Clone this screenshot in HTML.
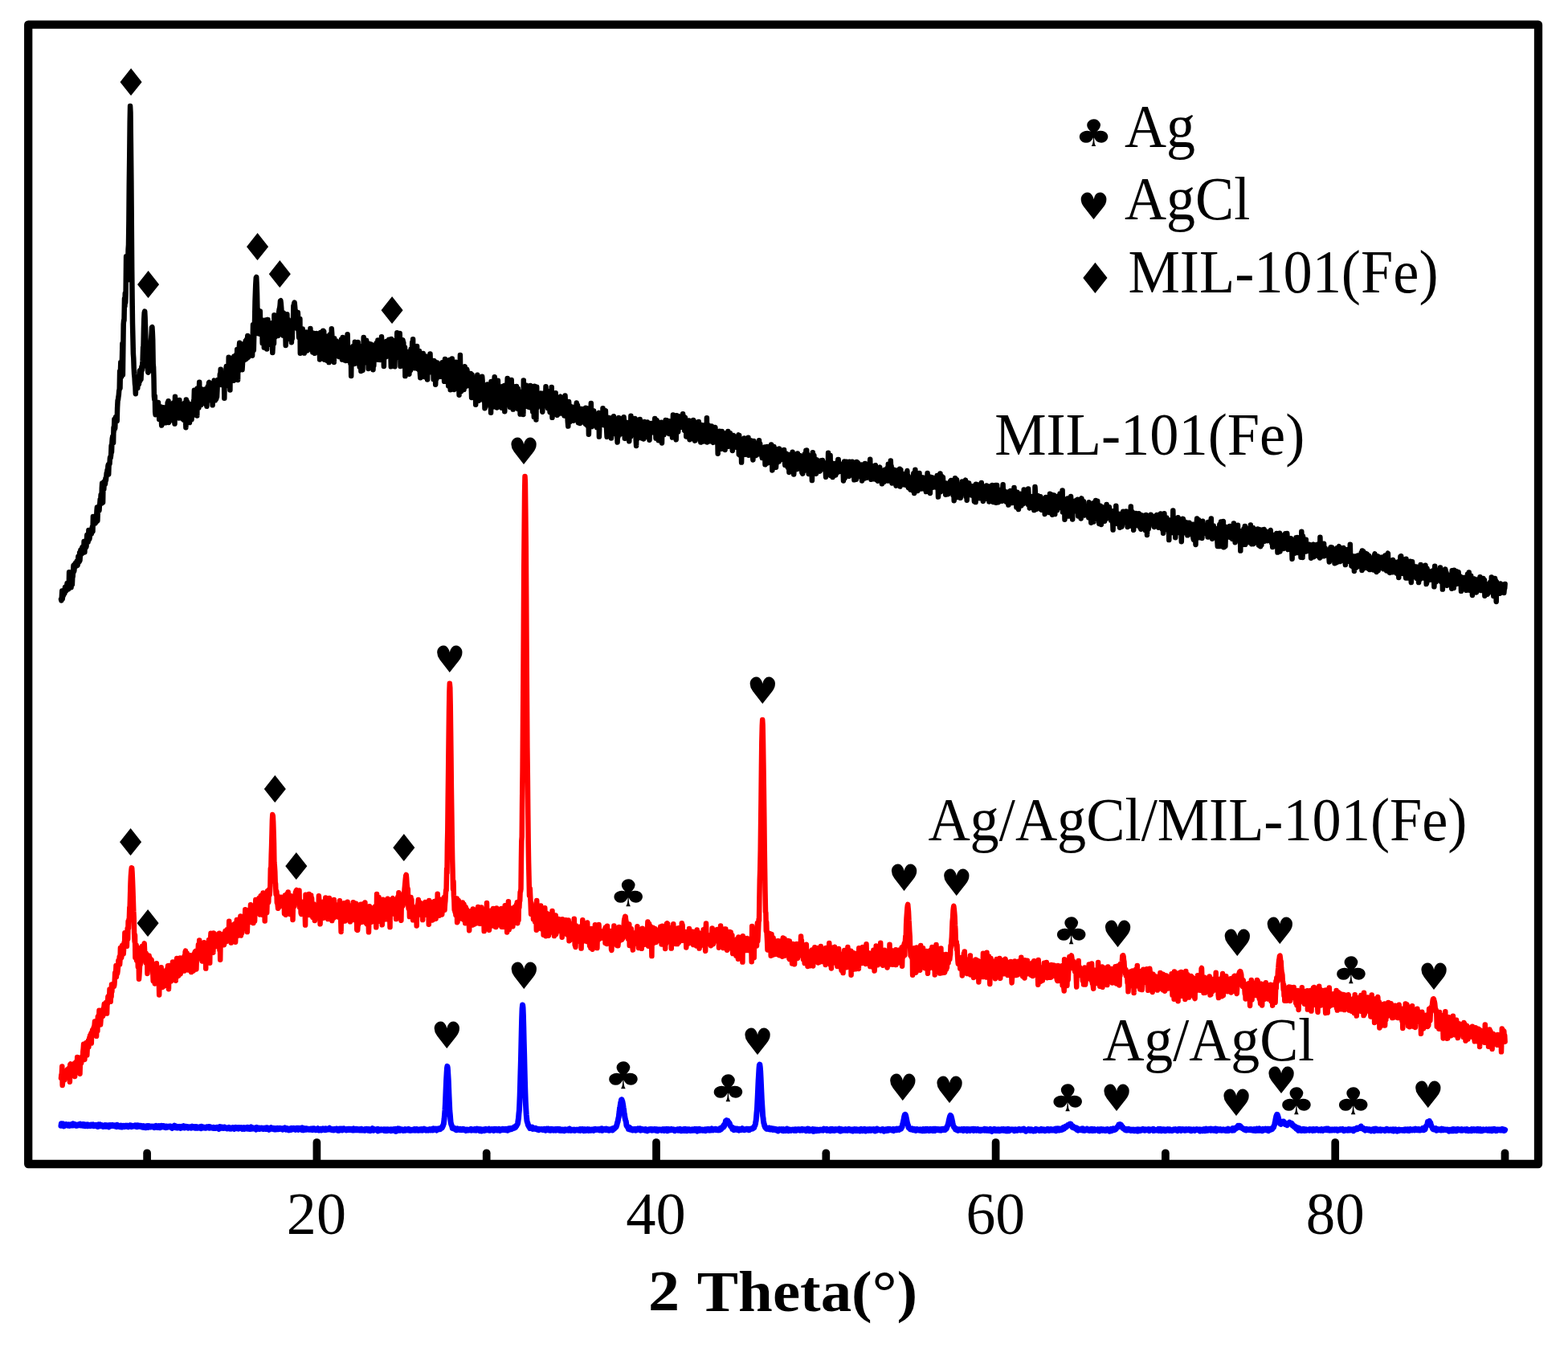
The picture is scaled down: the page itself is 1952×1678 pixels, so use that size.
<!DOCTYPE html>
<html><head><meta charset="utf-8"><title>XRD patterns</title>
<style>html,body{margin:0;padding:0;background:#fff;overflow:hidden}svg{display:block}</style>
</head><body>
<svg width="1952" height="1678" viewBox="0 0 1952 1678">
<rect width="1952" height="1678" fill="#fff"/>
<path d="M76.0 1401.3L76.4 1398.7L76.8 1400.3L77.3 1399.7L77.7 1399.8L78.1 1399.9L78.5 1399.0L78.9 1399.9L79.4 1399.6L79.8 1401.9L80.2 1400.2L80.6 1399.9L81.0 1400.0L81.5 1399.8L81.9 1399.6L82.3 1399.9L82.7 1400.4L83.1 1400.0L83.6 1400.7L84.0 1400.1L84.4 1400.2L84.8 1401.1L85.2 1400.5L85.7 1399.9L86.1 1400.1L86.5 1400.5L86.9 1401.4L87.3 1400.1L87.8 1400.1L88.2 1400.9L88.6 1399.8L89.0 1400.1L89.4 1400.8L89.9 1400.6L90.3 1400.3L90.7 1400.7L91.1 1398.8L91.5 1400.9L92.0 1399.8L92.4 1399.5L92.8 1400.5L93.2 1400.8L93.6 1400.1L94.1 1399.8L94.5 1400.4L94.9 1400.4L95.3 1401.3L95.7 1400.9L96.2 1400.5L96.6 1401.1L97.0 1400.3L97.4 1400.0L97.8 1400.8L98.3 1400.8L98.7 1400.4L99.1 1400.1L99.5 1400.6L99.9 1399.2L100.4 1400.9L100.8 1400.8L101.2 1399.7L101.6 1400.6L102.0 1400.0L102.5 1401.0L102.9 1399.5L103.3 1400.1L103.7 1401.0L104.1 1401.3L104.6 1399.5L105.0 1400.3L105.4 1400.8L105.8 1400.3L106.2 1401.6L106.7 1400.0L107.1 1400.9L107.5 1400.1L107.9 1401.5L108.3 1400.7L108.8 1400.5L109.2 1399.8L109.6 1401.7L110.0 1401.2L110.4 1401.2L110.9 1401.4L111.3 1400.9L111.7 1400.4L112.1 1400.3L112.5 1400.3L113.0 1401.6L113.4 1400.0L113.8 1400.5L114.2 1400.6L114.6 1400.9L115.1 1401.2L115.5 1400.2L115.9 1399.9L116.3 1400.8L116.7 1401.6L117.2 1401.3L117.6 1401.0L118.0 1400.7L118.4 1401.1L118.8 1400.8L119.3 1401.4L119.7 1400.5L120.1 1401.0L120.5 1400.9L120.9 1401.3L121.4 1401.1L121.8 1402.5L122.2 1401.9L122.6 1401.9L123.0 1399.9L123.5 1400.8L123.9 1400.7L124.3 1401.3L124.7 1399.8L125.1 1401.7L125.6 1401.7L126.0 1400.3L126.4 1400.5L126.8 1400.6L127.2 1401.1L127.7 1401.5L128.1 1402.3L128.5 1401.0L128.9 1401.6L129.3 1401.2L129.8 1402.2L130.2 1401.6L130.6 1402.0L131.0 1400.6L131.4 1401.0L131.9 1400.7L132.3 1402.1L132.7 1401.6L133.1 1401.0L133.5 1400.9L134.0 1401.5L134.4 1400.8L134.8 1400.7L135.2 1401.5L135.6 1402.8L136.1 1401.1L136.5 1401.0L136.9 1400.6L137.3 1400.6L137.7 1401.6L138.2 1401.8L138.6 1401.3L139.0 1401.5L139.4 1401.4L139.8 1401.4L140.3 1400.5L140.7 1401.1L141.1 1401.4L141.5 1400.9L141.9 1401.1L142.4 1400.9L142.8 1401.2L143.2 1401.9L143.6 1401.2L144.0 1401.3L144.5 1401.9L144.9 1401.8L145.3 1402.5L145.7 1400.3L146.1 1402.0L146.6 1401.2L147.0 1401.5L147.4 1402.0L147.8 1402.2L148.2 1402.1L148.7 1401.6L149.1 1402.5L149.5 1401.4L149.9 1401.5L150.3 1402.0L150.8 1401.3L151.2 1402.9L151.6 1402.2L152.0 1402.9L152.4 1401.6L152.9 1401.4L153.3 1401.7L153.7 1402.1L154.1 1401.3L154.5 1401.9L155.0 1401.6L155.4 1402.6L155.8 1401.3L156.2 1402.3L156.6 1401.3L157.1 1401.2L157.5 1401.3L157.9 1401.1L158.3 1401.8L158.7 1402.3L159.2 1401.8L159.6 1402.1L160.0 1402.7L160.4 1401.9L160.8 1401.9L161.3 1401.6L161.7 1400.9L162.1 1402.2L162.5 1400.9L162.9 1402.2L163.4 1401.8L163.8 1402.5L164.2 1401.8L164.6 1401.4L165.0 1402.1L165.5 1401.6L165.9 1401.8L166.3 1401.9L166.7 1401.8L167.1 1401.8L167.6 1401.5L168.0 1401.8L168.4 1400.8L168.8 1401.8L169.2 1401.3L169.7 1402.6L170.1 1402.7L170.5 1400.9L170.9 1402.0L171.3 1401.9L171.8 1401.4L172.2 1402.3L172.6 1401.8L173.0 1401.1L173.4 1401.9L173.9 1401.9L174.3 1402.1L174.7 1401.4L175.1 1402.4L175.5 1402.5L176.0 1401.5L176.4 1401.7L176.8 1402.0L177.2 1401.8L177.6 1403.2L178.1 1402.2L178.5 1401.6L178.9 1401.7L179.3 1402.1L179.7 1403.5L180.2 1402.0L180.6 1402.2L181.0 1402.5L181.4 1402.1L181.8 1403.6L182.3 1401.9L182.7 1402.6L183.1 1402.3L183.5 1402.6L183.9 1401.6L184.4 1403.3L184.8 1402.1L185.2 1402.2L185.6 1401.7L186.0 1401.9L186.5 1402.6L186.9 1402.9L187.3 1402.7L187.7 1403.0L188.1 1402.7L188.6 1402.3L189.0 1402.8L189.4 1402.7L189.8 1402.2L190.2 1402.8L190.7 1403.1L191.1 1402.5L191.5 1402.1L191.9 1402.8L192.3 1403.5L192.8 1402.2L193.2 1402.3L193.6 1402.3L194.0 1403.1L194.4 1401.4L194.9 1402.6L195.3 1403.1L195.7 1402.0L196.1 1403.3L196.5 1402.8L197.0 1402.1L197.4 1402.6L197.8 1401.6L198.2 1402.2L198.6 1403.6L199.1 1402.0L199.5 1403.6L199.9 1402.4L200.3 1403.1L200.7 1402.5L201.2 1401.3L201.6 1402.2L202.0 1402.6L202.4 1401.9L202.8 1401.8L203.3 1402.8L203.7 1402.2L204.1 1401.7L204.5 1402.2L204.9 1403.1L205.4 1402.3L205.8 1403.2L206.2 1403.5L206.6 1402.6L207.0 1402.0L207.5 1401.9L207.9 1402.6L208.3 1403.2L208.7 1402.8L209.1 1403.0L209.6 1402.4L210.0 1402.8L210.4 1402.4L210.8 1402.5L211.2 1402.0L211.7 1401.9L212.1 1402.4L212.5 1402.1L212.9 1402.2L213.3 1403.1L213.8 1402.7L214.2 1404.5L214.6 1403.3L215.0 1402.4L215.4 1403.2L215.9 1403.0L216.3 1402.4L216.7 1403.5L217.1 1402.4L217.5 1401.2L218.0 1403.3L218.4 1402.5L218.8 1403.7L219.2 1402.5L219.6 1402.2L220.1 1403.8L220.5 1402.3L220.9 1403.0L221.3 1403.8L221.7 1402.9L222.2 1402.8L222.6 1402.9L223.0 1403.4L223.4 1402.5L223.8 1403.3L224.3 1403.3L224.7 1404.4L225.1 1402.8L225.5 1402.5L225.9 1403.4L226.4 1402.7L226.8 1403.1L227.2 1403.0L227.6 1403.7L228.0 1402.6L228.5 1402.9L228.9 1401.7L229.3 1402.5L229.7 1404.0L230.1 1402.7L230.6 1402.7L231.0 1402.4L231.4 1403.4L231.8 1403.2L232.2 1402.4L232.7 1403.5L233.1 1403.2L233.5 1403.5L233.9 1402.7L234.3 1404.2L234.8 1403.4L235.2 1403.0L235.6 1402.8L236.0 1403.0L236.4 1403.7L236.9 1403.0L237.3 1403.8L237.7 1403.5L238.1 1404.0L238.5 1403.7L239.0 1403.1L239.4 1402.2L239.8 1403.4L240.2 1403.7L240.6 1403.3L241.1 1403.6L241.5 1403.0L241.9 1403.0L242.3 1402.7L242.7 1404.1L243.2 1403.3L243.6 1403.0L244.0 1402.6L244.4 1403.2L244.8 1404.2L245.3 1403.6L245.7 1402.9L246.1 1404.2L246.5 1404.2L246.9 1403.9L247.4 1403.8L247.8 1404.0L248.2 1403.7L248.6 1403.8L249.0 1402.9L249.5 1404.3L249.9 1403.5L250.3 1404.6L250.7 1402.3L251.1 1403.8L251.6 1404.0L252.0 1403.2L252.4 1403.7L252.8 1403.9L253.2 1403.8L253.7 1403.2L254.1 1403.4L254.5 1404.1L254.9 1404.2L255.3 1403.5L255.8 1403.5L256.2 1403.6L256.6 1404.1L257.0 1402.9L257.4 1402.8L257.9 1403.6L258.3 1402.9L258.7 1403.2L259.1 1403.6L259.5 1403.8L260.0 1403.0L260.4 1404.1L260.8 1402.6L261.2 1403.9L261.6 1402.8L262.1 1402.9L262.5 1404.0L262.9 1403.4L263.3 1403.2L263.7 1403.4L264.2 1403.9L264.6 1403.6L265.0 1403.6L265.4 1404.3L265.8 1403.3L266.3 1403.4L266.7 1403.4L267.1 1404.4L267.5 1404.3L267.9 1404.5L268.4 1403.7L268.8 1403.6L269.2 1404.2L269.6 1403.5L270.0 1404.2L270.5 1404.2L270.9 1403.4L271.3 1403.7L271.7 1403.7L272.1 1404.8L272.6 1405.4L273.0 1403.7L273.4 1403.8L273.8 1402.6L274.2 1403.9L274.7 1403.8L275.1 1403.3L275.5 1404.3L275.9 1403.0L276.3 1403.7L276.8 1403.9L277.2 1403.2L277.6 1404.4L278.0 1404.5L278.4 1403.2L278.9 1403.1L279.3 1404.3L279.7 1403.9L280.1 1403.3L280.5 1403.8L281.0 1403.9L281.4 1403.9L281.8 1404.4L282.2 1404.2L282.6 1405.0L283.1 1404.8L283.5 1404.4L283.9 1404.6L284.3 1404.8L284.7 1404.4L285.2 1403.4L285.6 1404.5L286.0 1404.1L286.4 1405.0L286.8 1404.1L287.3 1404.4L287.7 1404.2L288.1 1405.1L288.5 1404.2L288.9 1403.9L289.4 1404.3L289.8 1403.8L290.2 1404.2L290.6 1404.1L291.0 1404.3L291.5 1405.3L291.9 1403.9L292.3 1404.1L292.7 1404.0L293.1 1404.5L293.6 1403.5L294.0 1403.8L294.4 1404.1L294.8 1404.5L295.2 1404.1L295.7 1403.9L296.1 1403.7L296.5 1404.5L296.9 1405.1L297.3 1404.4L297.8 1404.3L298.2 1404.5L298.6 1403.7L299.0 1404.1L299.4 1404.1L299.9 1404.4L300.3 1404.2L300.7 1403.6L301.1 1404.9L301.5 1405.3L302.0 1404.1L302.4 1404.5L302.8 1404.4L303.2 1404.8L303.6 1403.5L304.1 1405.3L304.5 1404.1L304.9 1405.1L305.3 1404.4L305.7 1404.1L306.2 1404.3L306.6 1404.9L307.0 1403.9L307.4 1404.2L307.8 1404.1L308.3 1403.5L308.7 1405.2L309.1 1404.7L309.5 1404.4L309.9 1405.1L310.4 1403.9L310.8 1404.4L311.2 1405.5L311.6 1405.0L312.0 1403.3L312.5 1402.9L312.9 1403.9L313.3 1405.1L313.7 1404.2L314.1 1404.3L314.6 1404.8L315.0 1404.0L315.4 1404.6L315.8 1405.0L316.2 1404.8L316.7 1404.7L317.1 1404.2L317.5 1404.8L317.9 1404.3L318.3 1405.3L318.8 1406.1L319.2 1404.1L319.6 1403.4L320.0 1404.3L320.4 1404.8L320.9 1405.2L321.3 1405.2L321.7 1404.2L322.1 1404.2L322.5 1405.4L323.0 1404.0L323.4 1405.3L323.8 1404.5L324.2 1405.1L324.6 1405.1L325.1 1405.1L325.5 1405.1L325.9 1404.1L326.3 1404.8L326.7 1404.7L327.2 1404.9L327.6 1405.4L328.0 1404.5L328.4 1404.3L328.8 1404.3L329.3 1404.5L329.7 1405.2L330.1 1404.3L330.5 1405.4L330.9 1404.9L331.4 1404.6L331.8 1404.0L332.2 1404.9L332.6 1405.2L333.0 1403.8L333.5 1405.5L333.9 1405.8L334.3 1405.0L334.7 1405.1L335.1 1406.3L335.6 1405.6L336.0 1404.3L336.4 1404.8L336.8 1404.7L337.2 1404.7L337.7 1403.6L338.1 1405.3L338.5 1404.5L338.9 1405.0L339.3 1404.8L339.8 1405.4L340.2 1404.7L340.6 1404.5L341.0 1405.2L341.4 1405.8L341.9 1404.7L342.3 1405.8L342.7 1405.1L343.1 1404.6L343.5 1405.9L344.0 1404.5L344.4 1405.6L344.8 1404.7L345.2 1405.2L345.6 1404.3L346.1 1404.5L346.5 1405.6L346.9 1405.1L347.3 1405.0L347.7 1404.8L348.2 1405.3L348.6 1404.3L349.0 1404.4L349.4 1404.9L349.8 1404.6L350.3 1404.7L350.7 1405.0L351.1 1405.0L351.5 1404.9L351.9 1406.1L352.4 1405.7L352.8 1405.8L353.2 1405.1L353.6 1404.8L354.0 1404.3L354.5 1404.9L354.9 1404.0L355.3 1404.8L355.7 1405.6L356.1 1406.1L356.6 1405.7L357.0 1404.7L357.4 1405.4L357.8 1404.7L358.2 1405.7L358.7 1405.1L359.1 1405.7L359.5 1406.8L359.9 1405.8L360.3 1406.6L360.8 1405.3L361.2 1405.0L361.6 1406.0L362.0 1406.3L362.4 1404.9L362.9 1405.3L363.3 1404.5L363.7 1405.1L364.1 1405.8L364.5 1405.2L365.0 1405.0L365.4 1404.5L365.8 1405.5L366.2 1405.8L366.6 1405.7L367.1 1405.5L367.5 1404.6L367.9 1406.4L368.3 1405.3L368.7 1405.2L369.2 1405.8L369.6 1404.2L370.0 1405.3L370.4 1405.3L370.8 1405.6L371.3 1406.2L371.7 1405.7L372.1 1404.4L372.5 1405.2L372.9 1405.5L373.4 1405.5L373.8 1404.7L374.2 1404.5L374.6 1405.8L375.0 1405.6L375.5 1405.4L375.9 1404.5L376.3 1406.5L376.7 1403.9L377.1 1405.3L377.6 1406.8L378.0 1405.4L378.4 1405.6L378.8 1404.9L379.2 1406.3L379.7 1404.8L380.1 1405.7L380.5 1405.6L380.9 1405.0L381.3 1406.1L381.8 1404.8L382.2 1405.2L382.6 1405.5L383.0 1405.3L383.4 1405.8L383.9 1406.1L384.3 1405.4L384.7 1405.3L385.1 1405.3L385.5 1405.4L386.0 1406.1L386.4 1405.5L386.8 1405.9L387.2 1405.6L387.6 1405.2L388.1 1406.2L388.5 1405.1L388.9 1405.6L389.3 1406.6L389.7 1405.1L390.2 1405.6L390.6 1404.8L391.0 1405.4L391.4 1404.9L391.8 1405.5L392.3 1405.4L392.7 1405.8L393.1 1406.7L393.5 1405.9L393.9 1406.1L394.4 1405.7L394.8 1405.6L395.2 1405.3L395.6 1404.8L396.0 1405.8L396.5 1406.8L396.9 1406.1L397.3 1405.5L397.7 1406.8L398.1 1405.6L398.6 1405.5L399.0 1405.2L399.4 1405.3L399.8 1405.7L400.2 1407.0L400.7 1405.7L401.1 1405.3L401.5 1405.5L401.9 1405.7L402.3 1404.9L402.8 1405.9L403.2 1406.3L403.6 1406.0L404.0 1406.2L404.4 1405.2L404.9 1404.9L405.3 1406.6L405.7 1406.5L406.1 1405.0L406.5 1406.0L407.0 1405.9L407.4 1406.2L407.8 1406.0L408.2 1405.6L408.6 1406.0L409.1 1406.0L409.5 1405.8L409.9 1404.9L410.3 1404.3L410.7 1405.5L411.2 1405.0L411.6 1406.0L412.0 1406.3L412.4 1406.0L412.8 1405.7L413.3 1405.9L413.7 1406.6L414.1 1405.5L414.5 1406.5L414.9 1406.3L415.4 1406.1L415.8 1406.8L416.2 1405.5L416.6 1406.5L417.0 1405.4L417.5 1405.5L417.9 1405.4L418.3 1406.2L418.7 1405.4L419.1 1406.0L419.6 1405.3L420.0 1406.6L420.4 1407.1L420.8 1406.1L421.2 1407.0L421.7 1406.3L422.1 1407.3L422.5 1406.0L422.9 1405.1L423.3 1406.9L423.8 1405.9L424.2 1405.4L424.6 1405.6L425.0 1405.1L425.4 1405.9L425.9 1405.4L426.3 1406.9L426.7 1406.4L427.1 1405.1L427.5 1405.2L428.0 1405.7L428.4 1405.0L428.8 1405.9L429.2 1406.0L429.6 1405.6L430.1 1405.7L430.5 1406.3L430.9 1406.9L431.3 1406.9L431.7 1406.0L432.2 1406.5L432.6 1405.6L433.0 1406.3L433.4 1405.5L433.8 1406.5L434.3 1405.4L434.7 1405.5L435.1 1406.0L435.5 1406.4L435.9 1405.3L436.4 1405.8L436.8 1406.1L437.2 1406.2L437.6 1405.6L438.0 1406.1L438.5 1405.9L438.9 1406.9L439.3 1406.4L439.7 1405.4L440.1 1404.9L440.6 1406.1L441.0 1406.8L441.4 1406.2L441.8 1406.6L442.2 1405.8L442.7 1405.4L443.1 1406.6L443.5 1406.2L443.9 1406.5L444.3 1405.4L444.8 1406.2L445.2 1405.8L445.6 1406.6L446.0 1405.8L446.4 1405.8L446.9 1405.8L447.3 1406.9L447.7 1406.1L448.1 1405.7L448.5 1405.6L449.0 1405.6L449.4 1407.0L449.8 1405.2L450.2 1405.7L450.6 1406.5L451.1 1406.9L451.5 1406.1L451.9 1406.6L452.3 1406.6L452.7 1406.8L453.2 1406.2L453.6 1407.2L454.0 1406.3L454.4 1407.1L454.8 1405.6L455.3 1406.8L455.7 1405.5L456.1 1405.4L456.5 1406.5L456.9 1405.8L457.4 1406.5L457.8 1405.6L458.2 1407.2L458.6 1406.2L459.0 1405.6L459.5 1406.3L459.9 1406.8L460.3 1405.8L460.7 1406.6L461.1 1407.5L461.6 1406.8L462.0 1406.2L462.4 1405.9L462.8 1406.6L463.2 1405.5L463.7 1404.7L464.1 1405.9L464.5 1405.7L464.9 1407.3L465.3 1406.4L465.8 1405.7L466.2 1405.7L466.6 1406.6L467.0 1405.8L467.4 1406.0L467.9 1406.2L468.3 1406.3L468.7 1406.4L469.1 1406.4L469.5 1407.1L470.0 1407.4L470.4 1405.4L470.8 1407.9L471.2 1406.4L471.6 1407.1L472.1 1405.9L472.5 1406.5L472.9 1406.5L473.3 1406.4L473.7 1406.9L474.2 1406.7L474.6 1405.8L475.0 1406.3L475.4 1406.8L475.8 1406.8L476.3 1406.2L476.7 1406.2L477.1 1406.3L477.5 1405.8L477.9 1405.7L478.4 1407.3L478.8 1406.2L479.2 1406.4L479.6 1406.0L480.0 1407.2L480.5 1407.5L480.9 1406.3L481.3 1406.7L481.7 1406.0L482.1 1407.5L482.6 1407.0L483.0 1405.9L483.4 1407.2L483.8 1406.6L484.2 1406.7L484.7 1406.6L485.1 1406.0L485.5 1406.1L485.9 1406.8L486.3 1406.4L486.8 1405.9L487.2 1407.7L487.6 1406.3L488.0 1406.1L488.4 1406.0L488.9 1406.8L489.3 1407.0L489.7 1406.6L490.1 1407.0L490.5 1405.6L491.0 1406.2L491.4 1406.2L491.8 1406.4L492.2 1406.7L492.6 1405.4L493.1 1408.3L493.5 1406.0L493.9 1406.7L494.3 1407.0L494.7 1407.0L495.2 1406.6L495.6 1404.9L496.0 1405.9L496.4 1406.9L496.8 1406.0L497.3 1405.9L497.7 1405.2L498.1 1407.2L498.5 1406.8L498.9 1406.0L499.4 1406.4L499.8 1406.4L500.2 1405.9L500.6 1406.3L501.0 1406.6L501.5 1406.8L501.9 1407.2L502.3 1406.5L502.7 1406.2L503.1 1406.7L503.6 1406.1L504.0 1405.8L504.4 1407.2L504.8 1406.2L505.2 1406.5L505.7 1406.8L506.1 1405.9L506.5 1406.8L506.9 1406.7L507.3 1406.4L507.8 1406.7L508.2 1406.0L508.6 1405.3L509.0 1406.3L509.4 1406.0L509.9 1407.0L510.3 1406.6L510.7 1406.1L511.1 1406.5L511.5 1407.3L512.0 1407.1L512.4 1406.7L512.8 1406.7L513.2 1406.3L513.6 1406.3L514.1 1406.8L514.5 1406.4L514.9 1406.6L515.3 1405.8L515.7 1405.5L516.2 1405.5L516.6 1406.2L517.0 1407.2L517.4 1407.1L517.8 1405.9L518.3 1405.6L518.7 1406.9L519.1 1406.7L519.5 1405.7L519.9 1407.0L520.4 1406.5L520.8 1407.2L521.2 1406.6L521.6 1406.9L522.0 1406.6L522.5 1405.9L522.9 1406.2L523.3 1406.0L523.7 1406.9L524.1 1405.8L524.6 1405.6L525.0 1406.8L525.4 1407.1L525.8 1407.2L526.2 1407.0L526.7 1405.5L527.1 1406.0L527.5 1406.0L527.9 1406.3L528.3 1405.2L528.8 1406.3L529.2 1406.5L529.6 1405.8L530.0 1406.4L530.4 1407.0L530.9 1406.3L531.3 1406.9L531.7 1406.9L532.1 1406.5L532.5 1406.5L533.0 1406.1L533.4 1407.0L533.8 1406.0L534.2 1405.9L534.6 1406.6L535.1 1405.8L535.5 1406.5L535.9 1406.8L536.3 1406.2L536.7 1406.2L537.2 1406.7L537.6 1406.6L538.0 1405.3L538.4 1405.4L538.8 1406.9L539.3 1406.3L539.7 1404.9L540.1 1405.3L540.5 1406.0L540.9 1405.4L541.4 1406.2L541.8 1406.0L542.2 1406.2L542.6 1405.2L543.0 1406.2L543.5 1407.0L543.9 1405.3L544.3 1406.5L544.7 1406.2L545.1 1405.9L545.6 1405.4L546.0 1404.8L546.4 1404.9L546.8 1405.7L547.2 1405.7L547.7 1405.8L548.1 1405.5L548.5 1405.3L548.9 1404.3L549.3 1403.7L549.8 1404.2L550.2 1404.0L550.6 1403.3L551.0 1401.9L551.4 1401.6L551.9 1400.0L552.3 1399.0L552.7 1395.9L553.1 1392.8L553.5 1388.1L554.0 1381.7L554.4 1374.3L554.8 1364.4L555.2 1354.3L555.6 1344.8L556.1 1336.0L556.5 1329.7L556.9 1327.4L557.3 1329.7L557.7 1335.9L558.2 1344.5L558.6 1354.6L559.0 1364.8L559.4 1373.6L559.8 1382.4L560.3 1387.3L560.7 1392.6L561.1 1397.0L561.5 1398.6L561.9 1400.1L562.4 1401.2L562.8 1402.3L563.2 1404.2L563.6 1404.0L564.0 1404.4L564.5 1404.0L564.9 1405.0L565.3 1404.8L565.7 1404.4L566.1 1404.7L566.6 1405.2L567.0 1405.9L567.4 1405.3L567.8 1405.7L568.2 1406.7L568.7 1405.1L569.1 1404.9L569.5 1406.3L569.9 1406.0L570.3 1405.7L570.8 1405.9L571.2 1405.6L571.6 1406.2L572.0 1405.7L572.4 1406.4L572.9 1405.3L573.3 1405.5L573.7 1406.1L574.1 1405.8L574.5 1406.5L575.0 1406.0L575.4 1405.8L575.8 1406.2L576.2 1405.8L576.6 1405.3L577.1 1405.5L577.5 1405.7L577.9 1405.9L578.3 1406.2L578.7 1406.7L579.2 1406.5L579.6 1407.3L580.0 1407.0L580.4 1406.1L580.8 1407.2L581.3 1407.0L581.7 1406.0L582.1 1406.4L582.5 1406.9L582.9 1406.4L583.4 1406.9L583.8 1406.5L584.2 1406.7L584.6 1406.1L585.0 1406.5L585.5 1406.1L585.9 1406.7L586.3 1405.4L586.7 1406.5L587.1 1407.1L587.6 1406.7L588.0 1406.3L588.4 1406.6L588.8 1405.9L589.2 1405.9L589.7 1406.1L590.1 1406.2L590.5 1406.9L590.9 1405.8L591.3 1406.9L591.8 1405.5L592.2 1405.9L592.6 1406.3L593.0 1407.0L593.4 1406.0L593.9 1405.2L594.3 1406.6L594.7 1406.3L595.1 1405.8L595.5 1405.8L596.0 1406.0L596.4 1406.4L596.8 1406.7L597.2 1405.5L597.6 1407.7L598.1 1406.3L598.5 1406.1L598.9 1406.7L599.3 1406.4L599.7 1407.8L600.2 1407.0L600.6 1406.1L601.0 1406.1L601.4 1406.1L601.8 1406.1L602.3 1406.7L602.7 1406.0L603.1 1407.3L603.5 1406.3L603.9 1406.2L604.4 1406.9L604.8 1405.3L605.2 1405.8L605.6 1406.7L606.0 1406.3L606.5 1406.3L606.9 1406.5L607.3 1406.0L607.7 1406.2L608.1 1405.6L608.6 1405.3L609.0 1407.1L609.4 1405.8L609.8 1405.9L610.2 1407.1L610.7 1406.9L611.1 1406.0L611.5 1406.0L611.9 1406.2L612.3 1405.8L612.8 1406.6L613.2 1406.3L613.6 1406.3L614.0 1406.7L614.4 1406.7L614.9 1407.4L615.3 1407.2L615.7 1405.3L616.1 1406.8L616.5 1405.6L617.0 1405.4L617.4 1406.6L617.8 1405.8L618.2 1406.0L618.6 1406.8L619.1 1405.8L619.5 1405.7L619.9 1406.4L620.3 1406.9L620.7 1406.5L621.2 1405.3L621.6 1405.8L622.0 1406.0L622.4 1407.3L622.8 1406.6L623.3 1406.6L623.7 1406.8L624.1 1405.9L624.5 1406.3L624.9 1406.3L625.4 1405.5L625.8 1406.0L626.2 1406.3L626.6 1405.4L627.0 1406.4L627.5 1406.4L627.9 1406.5L628.3 1405.5L628.7 1405.9L629.1 1406.7L629.6 1406.3L630.0 1405.3L630.4 1405.9L630.8 1406.6L631.2 1405.6L631.7 1405.9L632.1 1407.2L632.5 1405.5L632.9 1405.4L633.3 1404.9L633.8 1405.1L634.2 1406.3L634.6 1405.2L635.0 1404.6L635.4 1404.7L635.9 1405.1L636.3 1405.5L636.7 1404.5L637.1 1405.3L637.5 1404.4L638.0 1404.8L638.4 1404.8L638.8 1404.7L639.2 1403.9L639.6 1403.9L640.1 1404.1L640.5 1402.9L640.9 1403.4L641.3 1403.4L641.7 1403.4L642.2 1402.4L642.6 1401.9L643.0 1401.5L643.4 1400.4L643.8 1399.9L644.3 1399.1L644.7 1397.5L645.1 1394.6L645.5 1391.9L645.9 1386.7L646.4 1382.1L646.8 1373.4L647.2 1363.3L647.6 1350.0L648.0 1335.1L648.5 1318.0L648.9 1299.9L649.3 1281.8L649.7 1266.5L650.1 1255.5L650.6 1251.0L651.0 1254.1L651.4 1263.9L651.8 1278.7L652.2 1296.2L652.7 1314.5L653.1 1332.0L653.5 1347.6L653.9 1360.6L654.3 1371.6L654.8 1380.5L655.2 1387.3L655.6 1391.3L656.0 1395.4L656.4 1396.9L656.9 1398.0L657.3 1400.2L657.7 1400.1L658.1 1401.6L658.5 1402.5L659.0 1402.1L659.4 1402.6L659.8 1404.5L660.2 1403.4L660.6 1403.7L661.1 1404.2L661.5 1403.9L661.9 1404.1L662.3 1404.5L662.7 1403.2L663.2 1405.4L663.6 1404.1L664.0 1404.2L664.4 1405.2L664.8 1405.0L665.3 1404.4L665.7 1405.2L666.1 1404.6L666.5 1404.9L666.9 1404.5L667.4 1404.9L667.8 1405.7L668.2 1405.5L668.6 1405.7L669.0 1406.1L669.5 1405.6L669.9 1405.3L670.3 1405.5L670.7 1406.7L671.1 1405.7L671.6 1406.0L672.0 1405.7L672.4 1406.0L672.8 1406.1L673.2 1405.9L673.7 1405.8L674.1 1405.5L674.5 1405.5L674.9 1406.2L675.3 1406.4L675.8 1406.5L676.2 1406.0L676.6 1405.6L677.0 1406.4L677.4 1406.4L677.9 1405.3L678.3 1406.5L678.7 1406.4L679.1 1407.1L679.5 1405.5L680.0 1405.4L680.4 1406.6L680.8 1405.2L681.2 1405.7L681.6 1405.6L682.1 1405.6L682.5 1405.2L682.9 1406.0L683.3 1406.8L683.7 1406.4L684.2 1406.5L684.6 1406.0L685.0 1407.1L685.4 1406.5L685.8 1406.9L686.3 1405.4L686.7 1406.4L687.1 1405.6L687.5 1406.4L687.9 1406.4L688.4 1405.7L688.8 1406.4L689.2 1407.0L689.6 1406.6L690.0 1406.6L690.5 1405.8L690.9 1405.9L691.3 1405.7L691.7 1406.4L692.1 1407.0L692.6 1406.6L693.0 1406.3L693.4 1405.7L693.8 1406.6L694.2 1406.2L694.7 1405.3L695.1 1405.4L695.5 1406.1L695.9 1405.8L696.3 1407.3L696.8 1406.3L697.2 1405.8L697.6 1406.1L698.0 1407.3L698.4 1405.8L698.9 1406.8L699.3 1406.6L699.7 1407.2L700.1 1406.7L700.5 1406.1L701.0 1406.7L701.4 1406.4L701.8 1406.9L702.2 1406.3L702.6 1407.6L703.1 1406.3L703.5 1406.6L703.9 1406.0L704.3 1406.4L704.7 1406.4L705.2 1406.5L705.6 1406.9L706.0 1406.1L706.4 1405.9L706.8 1407.0L707.3 1406.2L707.7 1406.0L708.1 1407.1L708.5 1406.8L708.9 1405.0L709.4 1406.2L709.8 1406.9L710.2 1406.9L710.6 1406.1L711.0 1407.3L711.5 1406.0L711.9 1406.3L712.3 1406.5L712.7 1406.4L713.1 1406.9L713.6 1407.0L714.0 1406.4L714.4 1407.2L714.8 1406.0L715.2 1406.3L715.7 1407.4L716.1 1406.4L716.5 1407.0L716.9 1406.2L717.3 1406.2L717.8 1406.3L718.2 1406.5L718.6 1406.2L719.0 1406.4L719.4 1406.8L719.9 1407.1L720.3 1406.5L720.7 1406.8L721.1 1406.9L721.5 1405.8L722.0 1405.6L722.4 1407.4L722.8 1407.2L723.2 1406.4L723.6 1406.6L724.1 1405.9L724.5 1405.7L724.9 1406.6L725.3 1405.6L725.7 1406.9L726.2 1406.0L726.6 1406.6L727.0 1407.6L727.4 1407.5L727.8 1406.2L728.3 1407.0L728.7 1405.8L729.1 1406.1L729.5 1406.6L729.9 1407.2L730.4 1406.1L730.8 1406.7L731.2 1406.4L731.6 1405.7L732.0 1406.3L732.5 1407.3L732.9 1406.3L733.3 1406.7L733.7 1406.9L734.1 1406.0L734.6 1407.1L735.0 1407.3L735.4 1407.3L735.8 1407.2L736.2 1406.1L736.7 1406.0L737.1 1405.9L737.5 1405.9L737.9 1405.9L738.3 1406.9L738.8 1407.2L739.2 1406.0L739.6 1406.8L740.0 1405.7L740.4 1406.1L740.9 1405.8L741.3 1405.5L741.7 1406.3L742.1 1406.4L742.5 1406.1L743.0 1406.0L743.4 1405.8L743.8 1406.2L744.2 1406.0L744.6 1406.4L745.1 1405.6L745.5 1406.4L745.9 1406.6L746.3 1407.0L746.7 1406.9L747.2 1406.4L747.6 1405.9L748.0 1405.3L748.4 1406.2L748.8 1407.1L749.3 1407.2L749.7 1404.9L750.1 1405.8L750.5 1406.0L750.9 1405.6L751.4 1406.3L751.8 1406.2L752.2 1405.9L752.6 1406.1L753.0 1405.3L753.5 1405.6L753.9 1405.6L754.3 1406.6L754.7 1405.2L755.1 1405.9L755.6 1406.5L756.0 1406.0L756.4 1406.5L756.8 1405.6L757.2 1406.2L757.7 1406.4L758.1 1407.2L758.5 1406.3L758.9 1406.7L759.3 1405.8L759.8 1405.8L760.2 1406.6L760.6 1406.0L761.0 1406.5L761.4 1406.0L761.9 1406.8L762.3 1406.9L762.7 1404.9L763.1 1406.4L763.5 1405.4L764.0 1405.3L764.4 1404.7L764.8 1405.1L765.2 1403.8L765.6 1403.7L766.1 1403.3L766.5 1403.3L766.9 1403.1L767.3 1402.2L767.7 1400.9L768.2 1399.2L768.6 1397.1L769.0 1396.5L769.4 1394.3L769.8 1392.1L770.3 1390.2L770.7 1386.4L771.1 1383.5L771.5 1379.3L771.9 1377.9L772.4 1374.8L772.8 1372.0L773.2 1370.8L773.6 1368.8L774.0 1368.7L774.5 1370.7L774.9 1371.3L775.3 1373.4L775.7 1375.8L776.1 1378.5L776.6 1381.3L777.0 1385.6L777.4 1387.0L777.8 1390.3L778.2 1392.2L778.7 1394.4L779.1 1395.3L779.5 1397.3L779.9 1400.7L780.3 1401.8L780.8 1401.6L781.2 1402.6L781.6 1403.6L782.0 1403.2L782.4 1405.2L782.9 1403.9L783.3 1404.3L783.7 1403.4L784.1 1405.9L784.5 1405.2L785.0 1406.2L785.4 1404.8L785.8 1405.6L786.2 1405.5L786.6 1405.7L787.1 1406.9L787.5 1407.0L787.9 1406.5L788.3 1405.5L788.7 1406.3L789.2 1406.6L789.6 1406.2L790.0 1406.2L790.4 1406.2L790.8 1405.5L791.3 1406.1L791.7 1407.0L792.1 1405.5L792.5 1406.1L792.9 1406.6L793.4 1405.3L793.8 1406.0L794.2 1405.2L794.6 1405.8L795.0 1405.4L795.5 1405.7L795.9 1405.9L796.3 1406.0L796.7 1406.1L797.1 1404.9L797.6 1407.2L798.0 1406.1L798.4 1405.6L798.8 1405.9L799.2 1406.4L799.7 1405.7L800.1 1406.0L800.5 1406.0L800.9 1406.6L801.3 1405.9L801.8 1406.5L802.2 1406.5L802.6 1406.2L803.0 1407.0L803.4 1406.3L803.9 1405.7L804.3 1406.5L804.7 1406.4L805.1 1406.3L805.5 1406.5L806.0 1407.8L806.4 1406.5L806.8 1406.6L807.2 1406.2L807.6 1407.1L808.1 1406.3L808.5 1405.9L808.9 1405.7L809.3 1406.7L809.7 1406.8L810.2 1405.5L810.6 1406.0L811.0 1406.7L811.4 1407.0L811.8 1405.7L812.3 1406.1L812.7 1406.9L813.1 1406.1L813.5 1406.1L813.9 1406.1L814.4 1405.7L814.8 1406.4L815.2 1406.6L815.6 1405.6L816.0 1406.4L816.5 1407.1L816.9 1406.5L817.3 1407.0L817.7 1406.1L818.1 1407.2L818.6 1406.0L819.0 1407.6L819.4 1406.2L819.8 1406.0L820.2 1405.9L820.7 1406.2L821.1 1406.1L821.5 1406.0L821.9 1406.2L822.3 1406.8L822.8 1406.9L823.2 1406.2L823.6 1407.2L824.0 1405.9L824.4 1405.9L824.9 1405.8L825.3 1406.8L825.7 1405.6L826.1 1405.7L826.5 1407.2L827.0 1407.5L827.4 1407.2L827.8 1405.6L828.2 1406.4L828.6 1406.9L829.1 1406.5L829.5 1405.6L829.9 1406.2L830.3 1405.5L830.7 1405.8L831.2 1407.7L831.6 1406.8L832.0 1405.6L832.4 1405.6L832.8 1406.7L833.3 1406.1L833.7 1406.8L834.1 1406.1L834.5 1406.3L834.9 1406.6L835.4 1405.9L835.8 1405.4L836.2 1405.8L836.6 1406.0L837.0 1406.3L837.5 1406.4L837.9 1406.4L838.3 1406.7L838.7 1405.9L839.1 1407.3L839.6 1407.6L840.0 1406.6L840.4 1406.5L840.8 1407.2L841.2 1406.8L841.7 1406.5L842.1 1406.3L842.5 1406.0L842.9 1405.8L843.3 1406.8L843.8 1407.1L844.2 1405.9L844.6 1406.4L845.0 1406.5L845.4 1406.2L845.9 1406.0L846.3 1406.2L846.7 1405.4L847.1 1406.4L847.5 1406.3L848.0 1407.7L848.4 1407.0L848.8 1406.2L849.2 1406.4L849.6 1407.5L850.1 1407.4L850.5 1406.5L850.9 1406.3L851.3 1405.7L851.7 1406.2L852.2 1406.3L852.6 1406.0L853.0 1407.5L853.4 1405.4L853.8 1406.3L854.3 1406.7L854.7 1406.7L855.1 1407.5L855.5 1405.7L855.9 1406.0L856.4 1406.5L856.8 1406.5L857.2 1406.2L857.6 1406.0L858.0 1407.1L858.5 1405.9L858.9 1406.1L859.3 1407.3L859.7 1407.5L860.1 1406.9L860.6 1406.0L861.0 1406.0L861.4 1405.9L861.8 1405.8L862.2 1406.2L862.7 1407.2L863.1 1406.5L863.5 1406.0L863.9 1406.0L864.3 1405.8L864.8 1407.1L865.2 1405.3L865.6 1406.6L866.0 1405.6L866.4 1405.8L866.9 1405.6L867.3 1407.0L867.7 1406.3L868.1 1408.1L868.5 1405.8L869.0 1405.8L869.4 1406.7L869.8 1406.7L870.2 1406.2L870.6 1405.3L871.1 1407.3L871.5 1406.7L871.9 1406.6L872.3 1406.1L872.7 1406.8L873.2 1406.1L873.6 1406.4L874.0 1406.3L874.4 1407.1L874.8 1406.1L875.3 1406.2L875.7 1407.0L876.1 1406.5L876.5 1406.3L876.9 1406.2L877.4 1406.9L877.8 1406.0L878.2 1406.6L878.6 1407.6L879.0 1406.6L879.5 1405.9L879.9 1405.7L880.3 1406.4L880.7 1405.7L881.1 1405.5L881.6 1405.9L882.0 1405.7L882.4 1406.8L882.8 1405.5L883.2 1407.2L883.7 1405.9L884.1 1406.3L884.5 1406.7L884.9 1406.4L885.3 1406.7L885.8 1405.7L886.2 1405.0L886.6 1406.1L887.0 1405.3L887.4 1405.9L887.9 1406.8L888.3 1406.1L888.7 1405.9L889.1 1405.6L889.5 1406.0L890.0 1406.0L890.4 1405.3L890.8 1406.3L891.2 1405.5L891.6 1406.2L892.1 1405.8L892.5 1406.6L892.9 1406.5L893.3 1406.0L893.7 1405.9L894.2 1406.1L894.6 1406.7L895.0 1406.4L895.4 1405.8L895.8 1405.8L896.3 1406.5L896.7 1404.5L897.1 1405.5L897.5 1404.5L897.9 1405.6L898.4 1404.2L898.8 1404.0L899.2 1403.1L899.6 1403.2L900.0 1403.1L900.5 1403.1L900.9 1400.7L901.3 1400.4L901.7 1401.8L902.1 1399.7L902.6 1398.4L903.0 1397.9L903.4 1395.5L903.8 1397.3L904.2 1395.9L904.7 1394.7L905.1 1396.0L905.5 1395.0L905.9 1395.0L906.3 1396.3L906.8 1396.8L907.2 1396.9L907.6 1397.9L908.0 1398.0L908.4 1398.7L908.9 1400.8L909.3 1401.8L909.7 1401.9L910.1 1402.5L910.5 1402.6L911.0 1403.3L911.4 1403.3L911.8 1405.3L912.2 1404.2L912.6 1405.1L913.1 1405.0L913.5 1404.5L913.9 1406.6L914.3 1405.3L914.7 1405.2L915.2 1405.7L915.6 1405.2L916.0 1405.8L916.4 1405.3L916.8 1406.2L917.3 1405.9L917.7 1405.2L918.1 1406.5L918.5 1406.0L918.9 1405.4L919.4 1406.2L919.8 1406.2L920.2 1407.1L920.6 1405.5L921.0 1406.5L921.5 1405.9L921.9 1406.3L922.3 1405.8L922.7 1405.9L923.1 1406.3L923.6 1405.3L924.0 1404.8L924.4 1405.9L924.8 1405.7L925.2 1406.0L925.7 1406.3L926.1 1405.8L926.5 1406.6L926.9 1405.8L927.3 1405.9L927.8 1406.4L928.2 1406.2L928.6 1405.7L929.0 1405.8L929.4 1405.3L929.9 1405.4L930.3 1405.7L930.7 1406.1L931.1 1405.4L931.5 1406.1L932.0 1406.7L932.4 1406.8L932.8 1405.4L933.2 1406.0L933.6 1405.6L934.1 1405.7L934.5 1405.6L934.9 1405.3L935.3 1405.4L935.7 1404.9L936.2 1404.5L936.6 1404.6L937.0 1404.6L937.4 1404.8L937.8 1404.0L938.3 1403.9L938.7 1403.9L939.1 1402.0L939.5 1401.6L939.9 1400.9L940.4 1399.1L940.8 1396.5L941.2 1394.7L941.6 1390.3L942.0 1385.0L942.5 1380.1L942.9 1371.6L943.3 1363.7L943.7 1354.5L944.1 1345.5L944.6 1337.1L945.0 1330.1L945.4 1325.9L945.8 1325.1L946.2 1327.9L946.7 1333.9L947.1 1341.8L947.5 1350.7L947.9 1359.7L948.3 1368.5L948.8 1376.4L949.2 1382.8L949.6 1389.0L950.0 1391.5L950.4 1394.9L950.9 1398.2L951.3 1399.1L951.7 1401.3L952.1 1401.8L952.5 1403.2L953.0 1403.6L953.4 1404.5L953.8 1404.5L954.2 1405.0L954.6 1404.7L955.1 1405.3L955.5 1405.1L955.9 1404.6L956.3 1404.3L956.7 1404.5L957.2 1405.5L957.6 1404.0L958.0 1405.5L958.4 1405.0L958.8 1406.0L959.3 1405.7L959.7 1405.2L960.1 1405.7L960.5 1404.5L960.9 1405.9L961.4 1406.1L961.8 1404.9L962.2 1406.4L962.6 1405.8L963.0 1406.0L963.5 1405.2L963.9 1406.3L964.3 1406.4L964.7 1406.0L965.1 1405.5L965.6 1406.5L966.0 1406.8L966.4 1406.3L966.8 1406.7L967.2 1405.8L967.7 1406.2L968.1 1406.4L968.5 1406.3L968.9 1407.9L969.3 1406.5L969.8 1405.9L970.2 1406.7L970.6 1405.7L971.0 1406.5L971.4 1406.7L971.9 1406.0L972.3 1406.1L972.7 1405.8L973.1 1406.4L973.5 1405.9L974.0 1407.4L974.4 1406.7L974.8 1406.2L975.2 1405.6L975.6 1407.6L976.1 1407.2L976.5 1406.6L976.9 1406.5L977.3 1406.5L977.7 1406.1L978.2 1407.5L978.6 1406.5L979.0 1405.6L979.4 1406.0L979.8 1405.0L980.3 1406.8L980.7 1406.9L981.1 1407.5L981.5 1407.7L981.9 1406.0L982.4 1406.7L982.8 1407.0L983.2 1406.9L983.6 1406.1L984.0 1406.9L984.5 1406.7L984.9 1407.3L985.3 1406.4L985.7 1406.3L986.1 1406.2L986.6 1406.2L987.0 1406.0L987.4 1406.2L987.8 1406.7L988.2 1406.7L988.7 1407.3L989.1 1407.1L989.5 1406.8L989.9 1405.8L990.3 1406.8L990.8 1407.2L991.2 1405.8L991.6 1405.9L992.0 1405.9L992.4 1405.9L992.9 1406.3L993.3 1405.9L993.7 1406.7L994.1 1405.8L994.5 1406.4L995.0 1406.2L995.4 1405.9L995.8 1407.1L996.2 1406.5L996.6 1406.8L997.1 1406.3L997.5 1406.9L997.9 1406.8L998.3 1406.4L998.7 1405.5L999.2 1407.0L999.6 1406.9L1000.0 1406.6L1000.4 1406.6L1000.8 1406.5L1001.3 1406.6L1001.7 1405.9L1002.1 1406.4L1002.5 1406.7L1002.9 1406.1L1003.4 1405.9L1003.8 1407.6L1004.2 1406.8L1004.6 1406.3L1005.0 1406.2L1005.5 1405.1L1005.9 1405.7L1006.3 1406.3L1006.7 1407.3L1007.1 1405.4L1007.6 1406.1L1008.0 1407.7L1008.4 1406.9L1008.8 1406.7L1009.2 1407.2L1009.7 1406.4L1010.1 1406.4L1010.5 1406.9L1010.9 1407.0L1011.3 1405.9L1011.8 1407.4L1012.2 1405.6L1012.6 1406.1L1013.0 1408.3L1013.4 1406.2L1013.9 1406.9L1014.3 1406.0L1014.7 1406.3L1015.1 1406.1L1015.5 1406.3L1016.0 1406.9L1016.4 1407.6L1016.8 1407.0L1017.2 1407.4L1017.6 1406.2L1018.1 1407.4L1018.5 1406.8L1018.9 1407.3L1019.3 1406.3L1019.7 1406.4L1020.2 1407.3L1020.6 1406.9L1021.0 1406.6L1021.4 1406.1L1021.8 1406.4L1022.3 1406.8L1022.7 1406.9L1023.1 1406.2L1023.5 1406.3L1023.9 1406.7L1024.4 1405.9L1024.8 1407.1L1025.2 1406.5L1025.6 1406.4L1026.0 1405.2L1026.5 1405.6L1026.9 1405.9L1027.3 1406.2L1027.7 1405.9L1028.1 1406.7L1028.6 1406.5L1029.0 1406.3L1029.4 1405.4L1029.8 1407.3L1030.2 1406.3L1030.7 1406.8L1031.1 1406.1L1031.5 1406.5L1031.9 1406.9L1032.3 1406.6L1032.8 1407.1L1033.2 1406.4L1033.6 1407.7L1034.0 1405.5L1034.4 1406.2L1034.9 1407.1L1035.3 1406.3L1035.7 1406.2L1036.1 1405.5L1036.5 1407.2L1037.0 1405.5L1037.4 1406.8L1037.8 1406.6L1038.2 1407.0L1038.6 1407.4L1039.1 1406.1L1039.5 1406.0L1039.9 1406.3L1040.3 1405.6L1040.7 1407.0L1041.2 1406.2L1041.6 1406.5L1042.0 1405.9L1042.4 1406.5L1042.8 1406.1L1043.3 1406.4L1043.7 1405.9L1044.1 1407.1L1044.5 1406.1L1044.9 1405.1L1045.4 1406.8L1045.8 1406.3L1046.2 1406.0L1046.6 1408.0L1047.0 1406.4L1047.5 1405.7L1047.9 1406.1L1048.3 1406.7L1048.7 1406.3L1049.1 1407.2L1049.6 1407.1L1050.0 1406.0L1050.4 1406.5L1050.8 1406.8L1051.2 1406.2L1051.7 1406.2L1052.1 1407.0L1052.5 1406.7L1052.9 1405.7L1053.3 1406.2L1053.8 1406.2L1054.2 1406.4L1054.6 1406.1L1055.0 1407.3L1055.4 1405.9L1055.9 1405.9L1056.3 1406.6L1056.7 1405.3L1057.1 1405.9L1057.5 1406.8L1058.0 1405.7L1058.4 1406.0L1058.8 1407.1L1059.2 1406.7L1059.6 1406.5L1060.1 1406.6L1060.5 1406.1L1060.9 1406.6L1061.3 1406.3L1061.7 1408.0L1062.2 1406.8L1062.6 1406.3L1063.0 1406.4L1063.4 1406.5L1063.8 1405.7L1064.3 1406.0L1064.7 1407.4L1065.1 1405.7L1065.5 1406.1L1065.9 1407.1L1066.4 1407.4L1066.8 1405.9L1067.2 1407.4L1067.6 1406.3L1068.0 1407.5L1068.5 1406.8L1068.9 1406.3L1069.3 1406.9L1069.7 1406.8L1070.1 1406.1L1070.6 1407.8L1071.0 1406.3L1071.4 1407.2L1071.8 1406.2L1072.2 1405.5L1072.7 1405.9L1073.1 1406.4L1073.5 1406.9L1073.9 1407.5L1074.3 1406.5L1074.8 1406.3L1075.2 1405.8L1075.6 1406.4L1076.0 1406.6L1076.4 1405.3L1076.9 1407.3L1077.3 1407.2L1077.7 1407.9L1078.1 1406.0L1078.5 1406.5L1079.0 1406.5L1079.4 1405.8L1079.8 1406.0L1080.2 1405.9L1080.6 1406.8L1081.1 1406.7L1081.5 1407.3L1081.9 1406.2L1082.3 1405.7L1082.7 1406.7L1083.2 1406.7L1083.6 1406.9L1084.0 1407.2L1084.4 1406.1L1084.8 1406.9L1085.3 1405.9L1085.7 1406.5L1086.1 1406.9L1086.5 1406.4L1086.9 1406.6L1087.4 1405.7L1087.8 1406.1L1088.2 1406.5L1088.6 1405.8L1089.0 1406.0L1089.5 1407.9L1089.9 1406.6L1090.3 1406.0L1090.7 1405.9L1091.1 1407.3L1091.6 1405.0L1092.0 1406.2L1092.4 1406.8L1092.8 1406.1L1093.2 1406.7L1093.7 1405.8L1094.1 1406.4L1094.5 1406.4L1094.9 1406.4L1095.3 1406.5L1095.8 1406.4L1096.2 1407.1L1096.6 1406.2L1097.0 1406.1L1097.4 1406.2L1097.9 1406.2L1098.3 1405.6L1098.7 1405.4L1099.1 1405.6L1099.5 1406.5L1100.0 1406.0L1100.4 1406.1L1100.8 1408.1L1101.2 1407.0L1101.6 1406.2L1102.1 1406.0L1102.5 1407.2L1102.9 1405.9L1103.3 1407.1L1103.7 1406.7L1104.2 1407.2L1104.6 1405.9L1105.0 1406.9L1105.4 1405.4L1105.8 1406.2L1106.3 1407.0L1106.7 1406.7L1107.1 1405.3L1107.5 1406.7L1107.9 1406.6L1108.4 1406.3L1108.8 1405.9L1109.2 1406.1L1109.6 1406.0L1110.0 1406.8L1110.5 1406.5L1110.9 1406.9L1111.3 1406.6L1111.7 1405.6L1112.1 1406.3L1112.6 1407.5L1113.0 1405.6L1113.4 1406.3L1113.8 1405.8L1114.2 1405.7L1114.7 1406.2L1115.1 1406.7L1115.5 1406.6L1115.9 1406.3L1116.3 1406.6L1116.8 1405.2L1117.2 1406.5L1117.6 1406.2L1118.0 1405.8L1118.4 1405.8L1118.9 1405.3L1119.3 1406.4L1119.7 1405.2L1120.1 1404.7L1120.5 1405.3L1121.0 1404.8L1121.4 1404.7L1121.8 1405.1L1122.2 1403.6L1122.6 1402.9L1123.1 1402.7L1123.5 1399.8L1123.9 1398.8L1124.3 1397.1L1124.7 1395.0L1125.2 1392.9L1125.6 1390.4L1126.0 1388.8L1126.4 1387.6L1126.8 1387.3L1127.3 1387.8L1127.7 1389.0L1128.1 1390.9L1128.5 1393.0L1128.9 1394.9L1129.4 1397.4L1129.8 1398.8L1130.2 1400.2L1130.6 1400.9L1131.0 1403.5L1131.5 1404.2L1131.9 1404.2L1132.3 1404.6L1132.7 1404.5L1133.1 1405.7L1133.6 1405.5L1134.0 1406.0L1134.4 1405.8L1134.8 1405.1L1135.2 1405.0L1135.7 1406.2L1136.1 1405.1L1136.5 1406.1L1136.9 1406.6L1137.3 1405.4L1137.8 1406.5L1138.2 1406.1L1138.6 1406.4L1139.0 1405.8L1139.4 1406.2L1139.9 1406.4L1140.3 1407.3L1140.7 1406.7L1141.1 1406.5L1141.5 1405.6L1142.0 1406.4L1142.4 1405.9L1142.8 1406.2L1143.2 1406.4L1143.6 1406.9L1144.1 1406.7L1144.5 1406.4L1144.9 1406.3L1145.3 1407.2L1145.7 1405.8L1146.2 1406.3L1146.6 1407.2L1147.0 1406.2L1147.4 1406.8L1147.8 1406.9L1148.3 1407.6L1148.7 1407.0L1149.1 1405.5L1149.5 1406.3L1149.9 1406.5L1150.4 1406.9L1150.8 1406.6L1151.2 1407.5L1151.6 1407.0L1152.0 1405.7L1152.5 1406.0L1152.9 1405.3L1153.3 1407.4L1153.7 1406.3L1154.1 1406.3L1154.6 1405.5L1155.0 1406.1L1155.4 1406.6L1155.8 1406.1L1156.2 1406.1L1156.7 1406.0L1157.1 1407.5L1157.5 1406.0L1157.9 1405.5L1158.3 1406.0L1158.8 1406.1L1159.2 1406.2L1159.6 1406.2L1160.0 1405.7L1160.4 1406.2L1160.9 1406.5L1161.3 1405.5L1161.7 1407.5L1162.1 1407.3L1162.5 1405.3L1163.0 1406.1L1163.4 1406.9L1163.8 1407.1L1164.2 1407.3L1164.6 1405.3L1165.1 1405.6L1165.5 1406.0L1165.9 1406.6L1166.3 1405.6L1166.7 1406.5L1167.2 1406.5L1167.6 1406.6L1168.0 1405.5L1168.4 1406.3L1168.8 1406.2L1169.3 1405.9L1169.7 1407.0L1170.1 1406.0L1170.5 1407.0L1170.9 1405.8L1171.4 1407.2L1171.8 1407.1L1172.2 1405.6L1172.6 1406.2L1173.0 1406.2L1173.5 1405.5L1173.9 1406.4L1174.3 1406.3L1174.7 1405.4L1175.1 1405.9L1175.6 1406.3L1176.0 1405.6L1176.4 1405.2L1176.8 1406.4L1177.2 1404.7L1177.7 1405.1L1178.1 1405.1L1178.5 1404.3L1178.9 1402.4L1179.3 1402.1L1179.8 1401.0L1180.2 1399.5L1180.6 1398.1L1181.0 1396.2L1181.4 1394.1L1181.9 1392.2L1182.3 1390.6L1182.7 1389.3L1183.1 1388.5L1183.5 1388.7L1184.0 1389.4L1184.4 1390.8L1184.8 1392.3L1185.2 1394.3L1185.6 1396.1L1186.1 1398.5L1186.5 1400.1L1186.9 1401.2L1187.3 1402.3L1187.7 1403.5L1188.2 1403.6L1188.6 1404.3L1189.0 1404.6L1189.4 1405.8L1189.8 1405.5L1190.3 1404.9L1190.7 1405.9L1191.1 1406.1L1191.5 1406.8L1191.9 1405.6L1192.4 1406.2L1192.8 1407.3L1193.2 1405.9L1193.6 1405.9L1194.0 1406.4L1194.5 1405.9L1194.9 1406.2L1195.3 1405.9L1195.7 1405.8L1196.1 1406.8L1196.6 1406.0L1197.0 1405.7L1197.4 1406.1L1197.8 1406.2L1198.2 1406.5L1198.7 1406.9L1199.1 1407.4L1199.5 1405.7L1199.9 1406.2L1200.3 1405.4L1200.8 1406.5L1201.2 1406.7L1201.6 1406.0L1202.0 1405.9L1202.4 1405.8L1202.9 1405.6L1203.3 1406.7L1203.7 1407.5L1204.1 1405.8L1204.5 1407.4L1205.0 1406.3L1205.4 1405.6L1205.8 1406.7L1206.2 1406.8L1206.6 1406.6L1207.1 1406.2L1207.5 1407.4L1207.9 1406.2L1208.3 1406.8L1208.7 1406.8L1209.2 1405.9L1209.6 1405.4L1210.0 1405.5L1210.4 1406.2L1210.8 1406.6L1211.3 1405.4L1211.7 1406.0L1212.1 1407.3L1212.5 1405.4L1212.9 1406.7L1213.4 1406.6L1213.8 1406.9L1214.2 1405.6L1214.6 1406.6L1215.0 1405.7L1215.5 1407.2L1215.9 1405.9L1216.3 1406.6L1216.7 1406.0L1217.1 1406.5L1217.6 1405.6L1218.0 1406.6L1218.4 1406.8L1218.8 1406.4L1219.2 1407.4L1219.7 1406.6L1220.1 1406.9L1220.5 1406.7L1220.9 1407.6L1221.3 1406.1L1221.8 1406.3L1222.2 1406.3L1222.6 1406.8L1223.0 1406.6L1223.4 1406.9L1223.9 1406.6L1224.3 1406.1L1224.7 1406.4L1225.1 1406.7L1225.5 1405.2L1226.0 1407.3L1226.4 1406.1L1226.8 1406.2L1227.2 1406.6L1227.6 1406.3L1228.1 1405.6L1228.5 1406.3L1228.9 1407.3L1229.3 1407.1L1229.7 1407.2L1230.2 1406.1L1230.6 1406.3L1231.0 1407.1L1231.4 1407.4L1231.8 1406.5L1232.3 1405.9L1232.7 1405.4L1233.1 1407.3L1233.5 1405.6L1233.9 1406.7L1234.4 1407.0L1234.8 1408.3L1235.2 1406.6L1235.6 1406.4L1236.0 1406.7L1236.5 1406.8L1236.9 1407.3L1237.3 1406.9L1237.7 1406.1L1238.1 1405.3L1238.6 1406.7L1239.0 1406.1L1239.4 1407.4L1239.8 1405.8L1240.2 1406.6L1240.7 1406.1L1241.1 1406.0L1241.5 1407.5L1241.9 1406.6L1242.3 1406.4L1242.8 1406.9L1243.2 1406.0L1243.6 1406.3L1244.0 1406.1L1244.4 1407.7L1244.9 1406.7L1245.3 1406.9L1245.7 1407.2L1246.1 1406.4L1246.5 1406.4L1247.0 1405.6L1247.4 1406.8L1247.8 1406.6L1248.2 1406.2L1248.6 1407.2L1249.1 1405.5L1249.5 1406.7L1249.9 1405.7L1250.3 1405.9L1250.7 1406.4L1251.2 1407.3L1251.6 1405.8L1252.0 1405.9L1252.4 1405.8L1252.8 1407.8L1253.3 1406.8L1253.7 1406.7L1254.1 1407.8L1254.5 1406.6L1254.9 1405.3L1255.4 1406.2L1255.8 1405.8L1256.2 1407.8L1256.6 1405.7L1257.0 1406.7L1257.5 1406.2L1257.9 1406.2L1258.3 1406.5L1258.7 1406.4L1259.1 1406.1L1259.6 1405.8L1260.0 1406.1L1260.4 1405.9L1260.8 1406.0L1261.2 1406.5L1261.7 1406.4L1262.1 1406.8L1262.5 1406.3L1262.9 1407.7L1263.3 1406.1L1263.8 1405.9L1264.2 1407.1L1264.6 1406.1L1265.0 1406.5L1265.4 1407.1L1265.9 1406.4L1266.3 1406.3L1266.7 1407.1L1267.1 1406.7L1267.5 1406.2L1268.0 1405.8L1268.4 1406.3L1268.8 1405.6L1269.2 1406.0L1269.6 1405.9L1270.1 1406.6L1270.5 1406.9L1270.9 1406.1L1271.3 1406.2L1271.7 1405.9L1272.2 1405.7L1272.6 1406.2L1273.0 1406.8L1273.4 1406.8L1273.8 1406.8L1274.3 1406.3L1274.7 1405.0L1275.1 1407.0L1275.5 1407.3L1275.9 1407.0L1276.4 1407.0L1276.8 1407.2L1277.2 1408.2L1277.6 1406.7L1278.0 1407.5L1278.5 1407.0L1278.9 1406.9L1279.3 1406.4L1279.7 1406.3L1280.1 1405.8L1280.6 1406.8L1281.0 1406.3L1281.4 1405.8L1281.8 1406.0L1282.2 1405.8L1282.7 1407.5L1283.1 1406.3L1283.5 1406.5L1283.9 1405.8L1284.3 1405.9L1284.8 1407.1L1285.2 1406.3L1285.6 1406.6L1286.0 1407.6L1286.4 1407.8L1286.9 1406.9L1287.3 1406.8L1287.7 1406.6L1288.1 1406.3L1288.5 1407.8L1289.0 1405.8L1289.4 1406.4L1289.8 1405.4L1290.2 1405.8L1290.6 1406.7L1291.1 1406.7L1291.5 1406.7L1291.9 1406.3L1292.3 1406.1L1292.7 1406.2L1293.2 1406.2L1293.6 1407.1L1294.0 1407.4L1294.4 1406.7L1294.8 1406.1L1295.3 1405.9L1295.7 1406.6L1296.1 1406.3L1296.5 1405.4L1296.9 1407.3L1297.4 1406.4L1297.8 1406.3L1298.2 1406.0L1298.6 1406.0L1299.0 1407.0L1299.5 1405.9L1299.9 1406.5L1300.3 1406.8L1300.7 1407.6L1301.1 1406.8L1301.6 1406.4L1302.0 1406.2L1302.4 1407.0L1302.8 1407.1L1303.2 1406.2L1303.7 1406.8L1304.1 1406.3L1304.5 1405.5L1304.9 1405.9L1305.3 1406.9L1305.8 1407.3L1306.2 1406.8L1306.6 1406.3L1307.0 1406.0L1307.4 1406.7L1307.9 1406.6L1308.3 1405.5L1308.7 1406.8L1309.1 1406.0L1309.5 1406.8L1310.0 1406.7L1310.4 1406.8L1310.8 1407.0L1311.2 1406.8L1311.6 1405.8L1312.1 1405.8L1312.5 1407.0L1312.9 1406.6L1313.3 1405.5L1313.7 1405.2L1314.2 1406.9L1314.6 1407.7L1315.0 1406.8L1315.4 1406.1L1315.8 1406.4L1316.3 1404.8L1316.7 1405.7L1317.1 1406.9L1317.5 1406.7L1317.9 1405.0L1318.4 1406.9L1318.8 1406.4L1319.2 1406.7L1319.6 1405.9L1320.0 1406.0L1320.5 1405.3L1320.9 1406.0L1321.3 1406.3L1321.7 1405.1L1322.1 1405.7L1322.6 1405.1L1323.0 1405.9L1323.4 1405.6L1323.8 1403.5L1324.2 1404.9L1324.7 1405.0L1325.1 1403.7L1325.5 1403.6L1325.9 1403.3L1326.3 1402.4L1326.8 1402.6L1327.2 1403.3L1327.6 1402.2L1328.0 1402.5L1328.4 1401.7L1328.9 1401.5L1329.3 1400.5L1329.7 1400.6L1330.1 1401.2L1330.5 1400.7L1331.0 1399.8L1331.4 1399.2L1331.8 1399.2L1332.2 1399.9L1332.6 1400.3L1333.1 1399.2L1333.5 1400.7L1333.9 1401.1L1334.3 1401.4L1334.7 1401.3L1335.2 1403.5L1335.6 1403.0L1336.0 1402.0L1336.4 1402.8L1336.8 1404.0L1337.3 1404.1L1337.7 1404.2L1338.1 1404.4L1338.5 1404.5L1338.9 1404.6L1339.4 1404.5L1339.8 1405.6L1340.2 1403.9L1340.6 1405.1L1341.0 1406.4L1341.5 1405.3L1341.9 1405.2L1342.3 1407.1L1342.7 1406.6L1343.1 1405.9L1343.6 1405.7L1344.0 1406.0L1344.4 1405.9L1344.8 1406.0L1345.2 1405.8L1345.7 1406.5L1346.1 1405.9L1346.5 1405.2L1346.9 1405.5L1347.3 1406.2L1347.8 1405.7L1348.2 1404.9L1348.6 1407.2L1349.0 1406.6L1349.4 1406.0L1349.9 1406.0L1350.3 1406.6L1350.7 1407.2L1351.1 1406.0L1351.5 1406.6L1352.0 1406.0L1352.4 1406.5L1352.8 1405.7L1353.2 1405.3L1353.6 1406.4L1354.1 1406.3L1354.5 1406.8L1354.9 1406.0L1355.3 1407.2L1355.7 1406.4L1356.2 1407.3L1356.6 1406.2L1357.0 1407.3L1357.4 1406.3L1357.8 1406.4L1358.3 1407.0L1358.7 1405.4L1359.1 1405.8L1359.5 1407.5L1359.9 1405.5L1360.4 1406.1L1360.8 1406.7L1361.2 1407.3L1361.6 1406.1L1362.0 1406.4L1362.5 1405.8L1362.9 1406.2L1363.3 1407.0L1363.7 1406.6L1364.1 1406.4L1364.6 1406.6L1365.0 1406.5L1365.4 1406.5L1365.8 1406.2L1366.2 1405.9L1366.7 1406.8L1367.1 1405.8L1367.5 1407.0L1367.9 1407.7L1368.3 1407.4L1368.8 1407.9L1369.2 1405.8L1369.6 1406.5L1370.0 1405.9L1370.4 1406.0L1370.9 1405.5L1371.3 1405.7L1371.7 1406.9L1372.1 1406.8L1372.5 1407.2L1373.0 1407.1L1373.4 1406.9L1373.8 1406.0L1374.2 1406.3L1374.6 1406.9L1375.1 1407.2L1375.5 1406.2L1375.9 1406.1L1376.3 1406.1L1376.7 1407.4L1377.2 1406.7L1377.6 1406.2L1378.0 1406.0L1378.4 1406.7L1378.8 1405.5L1379.3 1406.2L1379.7 1406.1L1380.1 1406.0L1380.5 1406.5L1380.9 1406.6L1381.4 1408.2L1381.8 1406.4L1382.2 1406.8L1382.6 1405.9L1383.0 1405.4L1383.5 1407.0L1383.9 1407.5L1384.3 1405.7L1384.7 1406.2L1385.1 1406.9L1385.6 1406.3L1386.0 1404.9L1386.4 1406.8L1386.8 1406.0L1387.2 1406.5L1387.7 1405.4L1388.1 1406.3L1388.5 1406.3L1388.9 1405.0L1389.3 1405.4L1389.8 1404.4L1390.2 1404.1L1390.6 1403.4L1391.0 1403.1L1391.4 1402.3L1391.9 1402.8L1392.3 1401.3L1392.7 1400.2L1393.1 1401.1L1393.5 1400.2L1394.0 1400.3L1394.4 1399.6L1394.8 1400.3L1395.2 1400.2L1395.6 1400.2L1396.1 1401.4L1396.5 1402.1L1396.9 1402.7L1397.3 1403.8L1397.7 1402.8L1398.2 1404.5L1398.6 1404.3L1399.0 1404.9L1399.4 1405.6L1399.8 1405.6L1400.3 1405.4L1400.7 1406.4L1401.1 1406.0L1401.5 1406.7L1401.9 1406.9L1402.4 1406.0L1402.8 1405.6L1403.2 1406.3L1403.6 1406.8L1404.0 1406.5L1404.5 1405.7L1404.9 1405.4L1405.3 1405.8L1405.7 1405.8L1406.1 1406.8L1406.6 1406.4L1407.0 1406.9L1407.4 1406.3L1407.8 1407.5L1408.2 1406.4L1408.7 1406.8L1409.1 1406.2L1409.5 1406.7L1409.9 1407.1L1410.3 1406.9L1410.8 1407.3L1411.2 1406.1L1411.6 1406.7L1412.0 1407.5L1412.4 1406.6L1412.9 1406.4L1413.3 1406.3L1413.7 1406.2L1414.1 1406.6L1414.5 1407.4L1415.0 1406.8L1415.4 1406.5L1415.8 1406.0L1416.2 1405.9L1416.6 1408.0L1417.1 1406.2L1417.5 1406.5L1417.9 1406.2L1418.3 1406.6L1418.7 1406.3L1419.2 1406.6L1419.6 1407.4L1420.0 1406.1L1420.4 1406.8L1420.8 1406.4L1421.3 1406.9L1421.7 1406.1L1422.1 1406.7L1422.5 1406.0L1422.9 1405.5L1423.4 1405.8L1423.8 1406.0L1424.2 1405.9L1424.6 1406.3L1425.0 1407.2L1425.5 1405.9L1425.9 1406.8L1426.3 1406.6L1426.7 1406.1L1427.1 1406.0L1427.6 1406.7L1428.0 1406.8L1428.4 1406.3L1428.8 1406.4L1429.2 1406.5L1429.7 1405.8L1430.1 1406.5L1430.5 1406.7L1430.9 1407.6L1431.3 1405.8L1431.8 1406.0L1432.2 1406.5L1432.6 1406.2L1433.0 1406.3L1433.4 1406.5L1433.9 1406.3L1434.3 1406.5L1434.7 1406.7L1435.1 1405.6L1435.5 1406.8L1436.0 1405.3L1436.4 1407.5L1436.8 1407.0L1437.2 1406.2L1437.6 1407.1L1438.1 1406.4L1438.5 1406.7L1438.9 1406.9L1439.3 1406.7L1439.7 1406.5L1440.2 1406.9L1440.6 1406.4L1441.0 1406.3L1441.4 1406.0L1441.8 1405.5L1442.3 1407.5L1442.7 1407.0L1443.1 1405.7L1443.5 1406.7L1443.9 1406.6L1444.4 1405.3L1444.8 1406.0L1445.2 1406.4L1445.6 1407.6L1446.0 1407.2L1446.5 1407.3L1446.9 1406.7L1447.3 1407.1L1447.7 1405.9L1448.1 1406.9L1448.6 1406.9L1449.0 1405.8L1449.4 1406.6L1449.8 1407.4L1450.2 1407.7L1450.7 1407.4L1451.1 1406.1L1451.5 1406.4L1451.9 1406.2L1452.3 1407.3L1452.8 1406.1L1453.2 1405.9L1453.6 1405.6L1454.0 1406.6L1454.4 1406.8L1454.9 1406.2L1455.3 1406.1L1455.7 1406.4L1456.1 1407.3L1456.5 1405.8L1457.0 1406.5L1457.4 1406.6L1457.8 1406.7L1458.2 1407.3L1458.6 1407.0L1459.1 1406.7L1459.5 1407.4L1459.9 1407.2L1460.3 1406.7L1460.7 1406.7L1461.2 1405.9L1461.6 1406.6L1462.0 1406.1L1462.4 1405.9L1462.8 1406.4L1463.3 1405.6L1463.7 1406.0L1464.1 1406.2L1464.5 1406.7L1464.9 1406.3L1465.4 1406.7L1465.8 1407.5L1466.2 1407.0L1466.6 1405.9L1467.0 1405.6L1467.5 1406.0L1467.9 1406.0L1468.3 1405.4L1468.7 1405.6L1469.1 1405.6L1469.6 1406.2L1470.0 1407.4L1470.4 1407.5L1470.8 1405.9L1471.2 1406.2L1471.7 1405.7L1472.1 1405.6L1472.5 1406.4L1472.9 1406.5L1473.3 1406.1L1473.8 1406.8L1474.2 1406.3L1474.6 1407.1L1475.0 1406.2L1475.4 1407.0L1475.9 1406.3L1476.3 1406.5L1476.7 1406.8L1477.1 1405.7L1477.5 1406.0L1478.0 1406.4L1478.4 1406.3L1478.8 1406.6L1479.2 1406.0L1479.6 1405.7L1480.1 1406.4L1480.5 1406.6L1480.9 1406.0L1481.3 1407.2L1481.7 1406.8L1482.2 1406.9L1482.6 1406.9L1483.0 1406.0L1483.4 1407.7L1483.8 1406.1L1484.3 1406.7L1484.7 1406.9L1485.1 1406.7L1485.5 1406.6L1485.9 1406.0L1486.4 1406.3L1486.8 1406.5L1487.2 1407.3L1487.6 1406.1L1488.0 1406.9L1488.5 1406.8L1488.9 1406.5L1489.3 1406.2L1489.7 1406.4L1490.1 1405.6L1490.6 1406.6L1491.0 1406.7L1491.4 1406.2L1491.8 1406.8L1492.2 1406.7L1492.7 1406.1L1493.1 1407.0L1493.5 1406.2L1493.9 1408.0L1494.3 1406.0L1494.8 1406.1L1495.2 1406.2L1495.6 1406.7L1496.0 1407.2L1496.4 1406.6L1496.9 1406.3L1497.3 1407.7L1497.7 1407.2L1498.1 1406.4L1498.5 1406.5L1499.0 1405.7L1499.4 1406.5L1499.8 1407.6L1500.2 1405.9L1500.6 1405.8L1501.1 1406.6L1501.5 1405.2L1501.9 1407.4L1502.3 1405.7L1502.7 1406.1L1503.2 1406.4L1503.6 1407.2L1504.0 1406.7L1504.4 1405.5L1504.8 1405.6L1505.3 1406.6L1505.7 1405.4L1506.1 1406.3L1506.5 1406.0L1506.9 1407.0L1507.4 1407.2L1507.8 1405.1L1508.2 1406.7L1508.6 1406.8L1509.0 1406.0L1509.5 1406.1L1509.9 1405.8L1510.3 1406.3L1510.7 1406.7L1511.1 1407.3L1511.6 1407.3L1512.0 1406.3L1512.4 1406.0L1512.8 1407.0L1513.2 1405.0L1513.7 1405.7L1514.1 1406.8L1514.5 1407.8L1514.9 1406.0L1515.3 1406.5L1515.8 1405.8L1516.2 1406.4L1516.6 1406.4L1517.0 1406.0L1517.4 1406.7L1517.9 1406.3L1518.3 1406.7L1518.7 1406.3L1519.1 1405.8L1519.5 1406.5L1520.0 1406.9L1520.4 1406.0L1520.8 1407.2L1521.2 1406.7L1521.6 1406.2L1522.1 1406.4L1522.5 1406.2L1522.9 1405.9L1523.3 1407.0L1523.7 1407.0L1524.2 1406.2L1524.6 1406.3L1525.0 1406.3L1525.4 1406.8L1525.8 1407.3L1526.3 1406.0L1526.7 1406.6L1527.1 1406.4L1527.5 1406.7L1527.9 1407.2L1528.4 1405.9L1528.8 1405.3L1529.2 1406.2L1529.6 1405.5L1530.0 1407.4L1530.5 1405.9L1530.9 1406.1L1531.3 1406.4L1531.7 1406.4L1532.1 1406.0L1532.6 1406.2L1533.0 1406.8L1533.4 1406.0L1533.8 1407.2L1534.2 1406.2L1534.7 1404.7L1535.1 1406.4L1535.5 1404.8L1535.9 1405.8L1536.3 1406.9L1536.8 1406.0L1537.2 1404.5L1537.6 1404.4L1538.0 1404.6L1538.4 1405.2L1538.9 1403.6L1539.3 1404.4L1539.7 1403.6L1540.1 1403.0L1540.5 1402.7L1541.0 1403.5L1541.4 1401.4L1541.8 1401.5L1542.2 1402.5L1542.6 1402.5L1543.1 1401.3L1543.5 1401.6L1543.9 1401.7L1544.3 1402.9L1544.7 1402.5L1545.2 1404.0L1545.6 1403.9L1546.0 1403.9L1546.4 1404.2L1546.8 1404.7L1547.3 1405.1L1547.7 1404.9L1548.1 1405.3L1548.5 1405.8L1548.9 1405.4L1549.4 1406.2L1549.8 1405.7L1550.2 1405.5L1550.6 1406.1L1551.0 1407.0L1551.5 1407.0L1551.9 1405.3L1552.3 1406.3L1552.7 1405.9L1553.1 1406.0L1553.6 1406.0L1554.0 1406.1L1554.4 1406.0L1554.8 1406.1L1555.2 1406.4L1555.7 1405.7L1556.1 1405.6L1556.5 1405.7L1556.9 1405.7L1557.3 1406.7L1557.8 1405.7L1558.2 1406.3L1558.6 1406.4L1559.0 1406.8L1559.4 1406.3L1559.9 1407.0L1560.3 1406.3L1560.7 1406.5L1561.1 1406.8L1561.5 1405.6L1562.0 1406.6L1562.4 1407.3L1562.8 1406.4L1563.2 1406.2L1563.6 1407.5L1564.1 1406.4L1564.5 1407.1L1564.9 1405.1L1565.3 1406.4L1565.7 1406.0L1566.2 1406.5L1566.6 1407.0L1567.0 1406.2L1567.4 1406.2L1567.8 1404.8L1568.3 1406.8L1568.7 1407.1L1569.1 1406.4L1569.5 1406.0L1569.9 1406.5L1570.4 1406.9L1570.8 1406.7L1571.2 1407.5L1571.6 1406.0L1572.0 1405.5L1572.5 1406.5L1572.9 1407.0L1573.3 1406.0L1573.7 1406.2L1574.1 1405.9L1574.6 1405.5L1575.0 1405.8L1575.4 1405.1L1575.8 1406.3L1576.2 1406.4L1576.7 1406.7L1577.1 1405.7L1577.5 1405.7L1577.9 1405.2L1578.3 1405.3L1578.8 1406.5L1579.2 1407.7L1579.6 1405.4L1580.0 1405.7L1580.4 1406.4L1580.9 1405.4L1581.3 1406.1L1581.7 1405.5L1582.1 1405.5L1582.5 1406.1L1583.0 1405.3L1583.4 1404.6L1583.8 1405.5L1584.2 1404.7L1584.6 1404.1L1585.1 1403.4L1585.5 1403.3L1585.9 1401.7L1586.3 1400.8L1586.7 1399.6L1587.2 1397.4L1587.6 1395.8L1588.0 1393.2L1588.4 1391.4L1588.8 1389.5L1589.3 1388.2L1589.7 1387.4L1590.1 1387.5L1590.5 1388.2L1590.9 1389.5L1591.4 1391.2L1591.8 1393.0L1592.2 1395.0L1592.6 1396.0L1593.0 1397.4L1593.5 1398.5L1593.9 1399.1L1594.3 1399.1L1594.7 1399.3L1595.1 1397.5L1595.6 1397.4L1596.0 1397.4L1596.4 1397.5L1596.8 1396.9L1597.2 1396.1L1597.7 1396.5L1598.1 1396.1L1598.5 1397.9L1598.9 1396.9L1599.3 1398.5L1599.8 1399.5L1600.2 1399.7L1600.6 1398.6L1601.0 1399.8L1601.4 1399.5L1601.9 1399.5L1602.3 1400.6L1602.7 1399.6L1603.1 1398.4L1603.5 1398.3L1604.0 1399.1L1604.4 1398.6L1604.8 1397.6L1605.2 1397.2L1605.6 1397.7L1606.1 1397.8L1606.5 1398.6L1606.9 1397.9L1607.3 1398.9L1607.7 1399.6L1608.2 1398.4L1608.6 1399.3L1609.0 1401.0L1609.4 1400.3L1609.8 1401.0L1610.3 1402.0L1610.7 1401.5L1611.1 1402.1L1611.5 1401.9L1611.9 1403.5L1612.4 1403.3L1612.8 1403.7L1613.2 1402.8L1613.6 1405.0L1614.0 1405.1L1614.5 1404.5L1614.9 1405.8L1615.3 1403.9L1615.7 1405.3L1616.1 1404.6L1616.6 1407.3L1617.0 1404.3L1617.4 1405.1L1617.8 1405.4L1618.2 1406.4L1618.7 1406.4L1619.1 1406.2L1619.5 1405.9L1619.9 1407.3L1620.3 1405.7L1620.8 1406.3L1621.2 1407.2L1621.6 1405.5L1622.0 1405.7L1622.4 1406.8L1622.9 1406.4L1623.3 1405.5L1623.7 1406.2L1624.1 1407.4L1624.5 1406.1L1625.0 1406.7L1625.4 1406.3L1625.8 1405.9L1626.2 1407.2L1626.6 1406.8L1627.1 1407.0L1627.5 1406.2L1627.9 1406.3L1628.3 1406.4L1628.7 1406.5L1629.2 1406.1L1629.6 1406.0L1630.0 1407.1L1630.4 1405.7L1630.8 1406.1L1631.3 1406.1L1631.7 1406.0L1632.1 1405.7L1632.5 1405.9L1632.9 1406.8L1633.4 1406.1L1633.8 1405.9L1634.2 1407.3L1634.6 1405.6L1635.0 1407.0L1635.5 1406.5L1635.9 1405.6L1636.3 1406.1L1636.7 1406.1L1637.1 1407.1L1637.6 1406.9L1638.0 1406.2L1638.4 1405.7L1638.8 1405.5L1639.2 1406.3L1639.7 1405.6L1640.1 1406.3L1640.5 1406.2L1640.9 1406.6L1641.3 1407.0L1641.8 1406.4L1642.2 1406.6L1642.6 1406.3L1643.0 1407.0L1643.4 1406.9L1643.9 1407.3L1644.3 1407.2L1644.7 1406.0L1645.1 1405.6L1645.5 1406.8L1646.0 1407.1L1646.4 1406.0L1646.8 1407.3L1647.2 1406.4L1647.6 1406.3L1648.1 1406.6L1648.5 1405.6L1648.9 1405.5L1649.3 1406.2L1649.7 1405.8L1650.2 1406.4L1650.6 1406.4L1651.0 1405.0L1651.4 1405.9L1651.8 1406.7L1652.3 1405.1L1652.7 1406.2L1653.1 1405.7L1653.5 1405.3L1653.9 1407.0L1654.4 1407.0L1654.8 1406.1L1655.2 1406.1L1655.6 1407.2L1656.0 1407.1L1656.5 1406.4L1656.9 1406.9L1657.3 1406.4L1657.7 1406.2L1658.1 1406.7L1658.6 1406.1L1659.0 1406.7L1659.4 1406.2L1659.8 1406.1L1660.2 1406.1L1660.7 1406.6L1661.1 1406.9L1661.5 1406.6L1661.9 1405.9L1662.3 1406.7L1662.8 1405.9L1663.2 1405.8L1663.6 1406.3L1664.0 1406.9L1664.4 1406.8L1664.9 1406.7L1665.3 1407.2L1665.7 1406.9L1666.1 1406.2L1666.5 1406.8L1667.0 1406.2L1667.4 1406.6L1667.8 1406.7L1668.2 1406.3L1668.6 1405.6L1669.1 1406.3L1669.5 1406.2L1669.9 1406.3L1670.3 1406.2L1670.7 1405.8L1671.2 1405.5L1671.6 1406.8L1672.0 1406.9L1672.4 1406.6L1672.8 1406.4L1673.3 1407.6L1673.7 1406.8L1674.1 1406.4L1674.5 1406.9L1674.9 1406.3L1675.4 1406.8L1675.8 1406.5L1676.2 1406.7L1676.6 1406.4L1677.0 1406.1L1677.5 1406.7L1677.9 1407.1L1678.3 1405.9L1678.7 1406.1L1679.1 1405.8L1679.6 1406.9L1680.0 1406.2L1680.4 1406.9L1680.8 1405.9L1681.2 1406.8L1681.7 1406.0L1682.1 1406.1L1682.5 1406.6L1682.9 1406.1L1683.3 1406.0L1683.8 1406.8L1684.2 1406.2L1684.6 1407.0L1685.0 1407.7L1685.4 1405.9L1685.9 1405.9L1686.3 1405.2L1686.7 1405.3L1687.1 1406.2L1687.5 1405.9L1688.0 1405.8L1688.4 1405.8L1688.8 1404.9L1689.2 1404.3L1689.6 1405.6L1690.1 1404.9L1690.5 1405.2L1690.9 1404.3L1691.3 1404.6L1691.7 1403.7L1692.2 1403.8L1692.6 1403.5L1693.0 1403.8L1693.4 1404.3L1693.8 1403.9L1694.3 1402.0L1694.7 1403.6L1695.1 1403.8L1695.5 1404.5L1695.9 1404.2L1696.4 1404.0L1696.8 1404.2L1697.2 1404.6L1697.6 1404.6L1698.0 1406.0L1698.5 1405.7L1698.9 1405.5L1699.3 1406.2L1699.7 1407.1L1700.1 1405.8L1700.6 1406.0L1701.0 1405.9L1701.4 1405.5L1701.8 1405.8L1702.2 1405.7L1702.7 1406.5L1703.1 1406.5L1703.5 1406.8L1703.9 1405.9L1704.3 1406.9L1704.8 1405.8L1705.2 1406.3L1705.6 1407.1L1706.0 1407.1L1706.4 1407.0L1706.9 1407.7L1707.3 1407.0L1707.7 1406.3L1708.1 1406.3L1708.5 1406.0L1709.0 1406.6L1709.4 1406.0L1709.8 1406.1L1710.2 1405.9L1710.6 1405.5L1711.1 1407.9L1711.5 1407.0L1711.9 1405.4L1712.3 1406.7L1712.7 1406.1L1713.2 1405.3L1713.6 1406.3L1714.0 1406.6L1714.4 1406.8L1714.8 1407.1L1715.3 1406.0L1715.7 1406.4L1716.1 1406.9L1716.5 1406.8L1716.9 1406.7L1717.4 1406.5L1717.8 1407.2L1718.2 1405.8L1718.6 1405.7L1719.0 1407.5L1719.5 1406.7L1719.9 1407.1L1720.3 1406.6L1720.7 1406.3L1721.1 1406.2L1721.6 1406.6L1722.0 1406.2L1722.4 1406.4L1722.8 1406.4L1723.2 1407.0L1723.7 1407.0L1724.1 1407.5L1724.5 1406.1L1724.9 1406.5L1725.3 1407.1L1725.8 1406.7L1726.2 1405.2L1726.6 1406.7L1727.0 1406.5L1727.4 1406.2L1727.9 1406.3L1728.3 1406.1L1728.7 1407.2L1729.1 1406.9L1729.5 1406.6L1730.0 1407.2L1730.4 1407.1L1730.8 1406.1L1731.2 1406.0L1731.6 1406.0L1732.1 1407.0L1732.5 1406.5L1732.9 1407.3L1733.3 1406.8L1733.7 1406.4L1734.2 1405.9L1734.6 1406.4L1735.0 1407.9L1735.4 1406.2L1735.8 1406.1L1736.3 1406.4L1736.7 1407.4L1737.1 1406.5L1737.5 1405.9L1737.9 1406.2L1738.4 1406.4L1738.8 1406.6L1739.2 1407.1L1739.6 1408.0L1740.0 1407.4L1740.5 1406.9L1740.9 1406.5L1741.3 1406.1L1741.7 1406.9L1742.1 1407.3L1742.6 1407.0L1743.0 1406.4L1743.4 1406.9L1743.8 1406.4L1744.2 1406.4L1744.7 1406.4L1745.1 1406.6L1745.5 1406.5L1745.9 1407.1L1746.3 1406.5L1746.8 1406.5L1747.2 1407.1L1747.6 1406.9L1748.0 1407.2L1748.4 1406.1L1748.9 1407.3L1749.3 1406.5L1749.7 1406.0L1750.1 1406.4L1750.5 1405.9L1751.0 1406.0L1751.4 1406.3L1751.8 1407.1L1752.2 1405.8L1752.6 1406.7L1753.1 1406.3L1753.5 1407.4L1753.9 1406.6L1754.3 1406.8L1754.7 1407.3L1755.2 1405.9L1755.6 1406.3L1756.0 1405.7L1756.4 1406.0L1756.8 1406.6L1757.3 1406.4L1757.7 1406.7L1758.1 1406.2L1758.5 1406.1L1758.9 1406.4L1759.4 1406.0L1759.8 1405.8L1760.2 1405.6L1760.6 1406.3L1761.0 1406.7L1761.5 1405.8L1761.9 1406.1L1762.3 1405.2L1762.7 1405.7L1763.1 1406.4L1763.6 1405.7L1764.0 1406.6L1764.4 1406.1L1764.8 1406.5L1765.2 1406.0L1765.7 1405.6L1766.1 1406.3L1766.5 1406.7L1766.9 1406.0L1767.3 1406.5L1767.8 1405.8L1768.2 1406.0L1768.6 1406.9L1769.0 1406.1L1769.4 1405.6L1769.9 1406.4L1770.3 1406.1L1770.7 1405.7L1771.1 1406.3L1771.5 1404.4L1772.0 1406.0L1772.4 1406.7L1772.8 1405.5L1773.2 1404.1L1773.6 1405.5L1774.1 1405.8L1774.5 1404.1L1774.9 1402.6L1775.3 1402.0L1775.7 1401.5L1776.2 1400.7L1776.6 1400.3L1777.0 1398.9L1777.4 1396.5L1777.8 1396.7L1778.3 1396.2L1778.7 1397.0L1779.1 1395.6L1779.5 1395.5L1779.9 1396.7L1780.4 1397.8L1780.8 1397.6L1781.2 1400.2L1781.6 1400.5L1782.0 1402.0L1782.5 1402.7L1782.9 1403.4L1783.3 1404.6L1783.7 1405.3L1784.1 1404.5L1784.6 1405.0L1785.0 1406.0L1785.4 1405.7L1785.8 1405.4L1786.2 1405.9L1786.7 1405.5L1787.1 1405.7L1787.5 1404.5L1787.9 1406.2L1788.3 1407.2L1788.8 1406.6L1789.2 1406.6L1789.6 1406.3L1790.0 1405.8L1790.4 1406.5L1790.9 1406.3L1791.3 1406.2L1791.7 1406.4L1792.1 1406.0L1792.5 1406.4L1793.0 1406.7L1793.4 1406.9L1793.8 1406.4L1794.2 1406.8L1794.6 1406.5L1795.1 1405.2L1795.5 1405.4L1795.9 1406.3L1796.3 1405.8L1796.7 1406.7L1797.2 1405.7L1797.6 1406.2L1798.0 1406.1L1798.4 1406.0L1798.8 1406.1L1799.3 1406.4L1799.7 1406.5L1800.1 1406.1L1800.5 1406.5L1800.9 1406.7L1801.4 1406.3L1801.8 1406.1L1802.2 1406.1L1802.6 1406.2L1803.0 1406.2L1803.5 1406.5L1803.9 1408.1L1804.3 1407.1L1804.7 1406.5L1805.1 1406.8L1805.6 1406.8L1806.0 1407.2L1806.4 1407.3L1806.8 1406.0L1807.2 1407.8L1807.7 1406.0L1808.1 1406.5L1808.5 1406.0L1808.9 1405.6L1809.3 1405.6L1809.8 1407.7L1810.2 1407.4L1810.6 1406.0L1811.0 1405.9L1811.4 1407.4L1811.9 1406.0L1812.3 1406.8L1812.7 1407.7L1813.1 1406.9L1813.5 1407.4L1814.0 1406.6L1814.4 1405.6L1814.8 1406.1L1815.2 1405.6L1815.6 1406.7L1816.1 1405.8L1816.5 1406.6L1816.9 1406.2L1817.3 1406.1L1817.7 1406.8L1818.2 1406.2L1818.6 1406.1L1819.0 1407.1L1819.4 1406.5L1819.8 1405.7L1820.3 1407.2L1820.7 1405.8L1821.1 1406.6L1821.5 1406.8L1821.9 1406.3L1822.4 1406.1L1822.8 1406.3L1823.2 1406.3L1823.6 1405.9L1824.0 1407.0L1824.5 1406.2L1824.9 1406.1L1825.3 1407.3L1825.7 1406.1L1826.1 1405.7L1826.6 1406.4L1827.0 1406.5L1827.4 1406.5L1827.8 1407.7L1828.2 1406.2L1828.7 1407.3L1829.1 1407.0L1829.5 1407.4L1829.9 1406.4L1830.3 1406.3L1830.8 1406.4L1831.2 1406.7L1831.6 1407.1L1832.0 1407.5L1832.4 1405.6L1832.9 1407.1L1833.3 1406.7L1833.7 1406.5L1834.1 1406.0L1834.5 1406.7L1835.0 1405.6L1835.4 1407.3L1835.8 1406.0L1836.2 1406.4L1836.6 1406.4L1837.1 1406.9L1837.5 1405.8L1837.9 1407.0L1838.3 1406.8L1838.7 1407.4L1839.2 1406.7L1839.6 1406.4L1840.0 1405.5L1840.4 1406.3L1840.8 1407.5L1841.3 1406.3L1841.7 1406.2L1842.1 1406.4L1842.5 1407.0L1842.9 1405.6L1843.4 1407.6L1843.8 1406.9L1844.2 1406.9L1844.6 1406.5L1845.0 1407.7L1845.5 1406.3L1845.9 1407.0L1846.3 1406.6L1846.7 1405.9L1847.1 1406.4L1847.6 1406.9L1848.0 1406.4L1848.4 1406.3L1848.8 1406.5L1849.2 1406.1L1849.7 1405.9L1850.1 1406.6L1850.5 1406.0L1850.9 1406.9L1851.3 1406.9L1851.8 1407.3L1852.2 1407.1L1852.6 1406.4L1853.0 1406.8L1853.4 1405.9L1853.9 1406.8L1854.3 1406.2L1854.7 1407.3L1855.1 1406.1L1855.5 1406.6L1856.0 1406.1L1856.4 1406.9L1856.8 1406.9L1857.2 1406.0L1857.6 1407.7L1858.1 1406.8L1858.5 1405.8L1858.9 1406.0L1859.3 1405.6L1859.7 1405.5L1860.2 1406.4L1860.6 1405.4L1861.0 1406.7L1861.4 1405.7L1861.8 1406.3L1862.3 1407.6L1862.7 1406.3L1863.1 1406.5L1863.5 1407.3L1863.9 1406.3L1864.4 1406.8L1864.8 1406.1L1865.2 1406.3L1865.6 1406.6L1866.0 1406.5L1866.5 1406.1L1866.9 1406.6L1867.3 1406.9L1867.7 1406.9L1868.1 1406.5L1868.6 1406.0L1869.0 1406.9L1869.4 1407.0L1869.8 1406.0L1870.2 1405.3L1870.7 1406.4L1871.1 1407.1L1871.5 1407.0L1871.9 1405.9L1872.3 1407.3L1872.8 1406.0L1873.2 1407.1L1873.6 1406.3" fill="none" stroke="#0000ff" stroke-width="7" stroke-linejoin="round" stroke-linecap="round"/>
<path d="M76.0 1342.1L76.4 1338.0L76.8 1338.3L77.3 1327.4L77.7 1351.0L78.1 1346.7L78.5 1337.7L78.9 1343.9L79.4 1340.6L79.8 1335.7L80.2 1344.4L80.6 1336.5L81.0 1336.1L81.5 1333.4L81.9 1340.1L82.3 1336.5L82.7 1340.1L83.1 1333.3L83.6 1337.0L84.0 1331.3L84.4 1340.9L84.8 1336.6L85.2 1337.2L85.7 1337.5L86.1 1329.4L86.5 1339.2L86.9 1346.8L87.3 1325.3L87.8 1324.5L88.2 1325.5L88.6 1338.3L89.0 1333.6L89.4 1339.2L89.9 1336.8L90.3 1333.3L90.7 1333.4L91.1 1330.3L91.5 1336.1L92.0 1324.3L92.4 1327.6L92.8 1330.8L93.2 1340.0L93.6 1324.4L94.1 1322.3L94.5 1324.6L94.9 1333.0L95.3 1325.4L95.7 1334.3L96.2 1315.9L96.6 1332.2L97.0 1331.2L97.4 1316.9L97.8 1324.8L98.3 1330.9L98.7 1323.5L99.1 1328.7L99.5 1336.7L99.9 1323.3L100.4 1319.6L100.8 1316.3L101.2 1323.3L101.6 1317.3L102.0 1316.4L102.5 1315.8L102.9 1319.4L103.3 1308.8L103.7 1305.4L104.1 1299.7L104.6 1318.9L105.0 1311.0L105.4 1318.9L105.8 1308.5L106.2 1303.7L106.7 1309.6L107.1 1305.2L107.5 1298.1L107.9 1299.0L108.3 1313.6L108.8 1303.9L109.2 1303.3L109.6 1298.3L110.0 1295.2L110.4 1303.3L110.9 1296.3L111.3 1291.8L111.7 1294.1L112.1 1289.0L112.5 1293.9L113.0 1298.7L113.4 1286.4L113.8 1298.6L114.2 1285.2L114.6 1288.7L115.1 1282.3L115.5 1284.5L115.9 1285.0L116.3 1281.4L116.7 1279.0L117.2 1278.1L117.6 1276.3L118.0 1271.4L118.4 1277.2L118.8 1280.1L119.3 1282.2L119.7 1279.6L120.1 1289.8L120.5 1275.5L120.9 1270.3L121.4 1283.5L121.8 1265.7L122.2 1276.4L122.6 1264.6L123.0 1271.1L123.5 1257.8L123.9 1273.0L124.3 1265.8L124.7 1260.8L125.1 1275.5L125.6 1269.1L126.0 1263.9L126.4 1259.0L126.8 1261.9L127.2 1260.5L127.7 1265.1L128.1 1264.8L128.5 1255.6L128.9 1255.5L129.3 1254.8L129.8 1249.8L130.2 1253.0L130.6 1254.9L131.0 1258.8L131.4 1261.5L131.9 1248.0L132.3 1254.5L132.7 1247.6L133.1 1261.6L133.5 1247.4L134.0 1249.6L134.4 1240.5L134.8 1240.0L135.2 1244.3L135.6 1239.9L136.1 1243.0L136.5 1231.5L136.9 1242.6L137.3 1232.6L137.7 1246.8L138.2 1233.5L138.6 1240.7L139.0 1225.4L139.4 1234.3L139.8 1225.8L140.3 1226.8L140.7 1228.3L141.1 1225.2L141.5 1226.8L141.9 1228.0L142.4 1225.7L142.8 1219.5L143.2 1211.1L143.6 1212.3L144.0 1213.8L144.5 1201.9L144.9 1216.0L145.3 1208.3L145.7 1206.5L146.1 1212.0L146.6 1208.5L147.0 1204.0L147.4 1195.7L147.8 1201.1L148.2 1199.6L148.7 1191.0L149.1 1200.4L149.5 1195.3L149.9 1180.1L150.3 1189.4L150.8 1180.2L151.2 1192.2L151.6 1188.9L152.0 1176.8L152.4 1176.7L152.9 1180.8L153.3 1177.6L153.7 1187.4L154.1 1181.2L154.5 1173.6L155.0 1177.5L155.4 1161.2L155.8 1173.1L156.2 1175.4L156.6 1167.3L157.1 1162.9L157.5 1169.7L157.9 1177.8L158.3 1164.9L158.7 1155.7L159.2 1168.9L159.6 1146.9L160.0 1155.7L160.4 1144.7L160.8 1145.1L161.3 1129.6L161.7 1128.3L162.1 1114.2L162.5 1099.7L162.9 1090.2L163.4 1083.9L163.8 1080.3L164.2 1080.5L164.6 1086.3L165.0 1095.7L165.5 1109.2L165.9 1121.4L166.3 1134.2L166.7 1141.5L167.1 1161.7L167.6 1172.0L168.0 1164.2L168.4 1192.0L168.8 1186.3L169.2 1182.1L169.7 1176.6L170.1 1195.7L170.5 1196.2L170.9 1189.3L171.3 1182.6L171.8 1203.3L172.2 1191.9L172.6 1193.3L173.0 1218.7L173.4 1213.9L173.9 1204.5L174.3 1193.6L174.7 1200.8L175.1 1179.9L175.5 1194.5L176.0 1187.2L176.4 1182.0L176.8 1178.0L177.2 1190.4L177.6 1185.1L178.1 1184.1L178.5 1188.5L178.9 1177.1L179.3 1176.0L179.7 1174.4L180.2 1185.9L180.6 1196.0L181.0 1190.9L181.4 1198.3L181.8 1186.8L182.3 1192.4L182.7 1191.3L183.1 1188.7L183.5 1211.9L183.9 1204.5L184.4 1193.2L184.8 1193.6L185.2 1198.6L185.6 1189.8L186.0 1203.6L186.5 1192.5L186.9 1199.4L187.3 1195.9L187.7 1200.3L188.1 1195.5L188.6 1194.7L189.0 1199.5L189.4 1202.2L189.8 1205.6L190.2 1208.9L190.7 1221.1L191.1 1216.3L191.5 1209.1L191.9 1217.3L192.3 1207.8L192.8 1224.5L193.2 1218.3L193.6 1205.8L194.0 1221.5L194.4 1222.8L194.9 1199.3L195.3 1213.0L195.7 1215.6L196.1 1205.8L196.5 1211.4L197.0 1212.0L197.4 1222.2L197.8 1220.4L198.2 1238.5L198.6 1215.1L199.1 1226.7L199.5 1218.0L199.9 1219.4L200.3 1209.4L200.7 1204.2L201.2 1211.7L201.6 1222.7L202.0 1229.0L202.4 1221.1L202.8 1220.2L203.3 1210.4L203.7 1228.0L204.1 1226.4L204.5 1212.1L204.9 1215.2L205.4 1208.6L205.8 1226.8L206.2 1218.2L206.6 1214.2L207.0 1217.9L207.5 1218.0L207.9 1211.6L208.3 1205.9L208.7 1205.5L209.1 1202.2L209.6 1217.4L210.0 1231.2L210.4 1202.0L210.8 1214.4L211.2 1216.4L211.7 1206.4L212.1 1214.4L212.5 1204.9L212.9 1221.4L213.3 1207.4L213.8 1211.8L214.2 1216.0L214.6 1207.1L215.0 1197.5L215.4 1205.5L215.9 1214.7L216.3 1207.6L216.7 1209.6L217.1 1200.0L217.5 1208.0L218.0 1212.2L218.4 1206.2L218.8 1220.7L219.2 1203.6L219.6 1197.4L220.1 1193.1L220.5 1212.8L220.9 1202.7L221.3 1210.8L221.7 1205.9L222.2 1214.9L222.6 1211.8L223.0 1199.0L223.4 1203.6L223.8 1209.9L224.3 1192.6L224.7 1212.5L225.1 1210.4L225.5 1208.4L225.9 1199.0L226.4 1202.6L226.8 1192.4L227.2 1200.3L227.6 1195.7L228.0 1200.2L228.5 1196.0L228.9 1201.5L229.3 1208.6L229.7 1189.9L230.1 1206.2L230.6 1184.9L231.0 1183.6L231.4 1197.4L231.8 1198.1L232.2 1201.5L232.7 1186.4L233.1 1197.2L233.5 1198.4L233.9 1207.4L234.3 1196.4L234.8 1201.2L235.2 1190.0L235.6 1195.3L236.0 1193.3L236.4 1201.9L236.9 1189.3L237.3 1190.2L237.7 1200.4L238.1 1210.1L238.5 1198.5L239.0 1197.7L239.4 1192.7L239.8 1203.8L240.2 1199.1L240.6 1208.7L241.1 1197.1L241.5 1187.7L241.9 1190.2L242.3 1187.1L242.7 1184.9L243.2 1203.4L243.6 1199.3L244.0 1183.8L244.4 1206.5L244.8 1193.6L245.3 1184.5L245.7 1193.9L246.1 1189.9L246.5 1184.6L246.9 1176.1L247.4 1189.5L247.8 1191.2L248.2 1170.5L248.6 1192.6L249.0 1192.7L249.5 1184.0L249.9 1187.8L250.3 1184.5L250.7 1180.2L251.1 1183.2L251.6 1196.4L252.0 1174.8L252.4 1186.4L252.8 1185.6L253.2 1178.8L253.7 1180.2L254.1 1173.2L254.5 1176.6L254.9 1182.3L255.3 1184.4L255.8 1175.1L256.2 1205.6L256.6 1176.6L257.0 1181.2L257.4 1178.2L257.9 1176.6L258.3 1189.7L258.7 1175.2L259.1 1189.2L259.5 1187.2L260.0 1170.1L260.4 1185.6L260.8 1172.1L261.2 1198.8L261.6 1173.1L262.1 1168.8L262.5 1161.7L262.9 1165.7L263.3 1170.5L263.7 1167.4L264.2 1165.6L264.6 1169.2L265.0 1172.4L265.4 1185.7L265.8 1161.5L266.3 1169.4L266.7 1166.4L267.1 1162.3L267.5 1163.8L267.9 1166.2L268.4 1178.3L268.8 1170.8L269.2 1168.2L269.6 1176.9L270.0 1174.0L270.5 1169.9L270.9 1174.4L271.3 1165.2L271.7 1176.1L272.1 1174.6L272.6 1167.6L273.0 1161.7L273.4 1182.8L273.8 1170.7L274.2 1194.8L274.7 1164.9L275.1 1176.5L275.5 1166.1L275.9 1171.1L276.3 1175.8L276.8 1163.0L277.2 1167.7L277.6 1169.6L278.0 1169.0L278.4 1172.9L278.9 1176.3L279.3 1174.5L279.7 1169.5L280.1 1164.7L280.5 1158.9L281.0 1161.5L281.4 1162.8L281.8 1172.1L282.2 1163.6L282.6 1157.2L283.1 1171.0L283.5 1159.6L283.9 1159.6L284.3 1163.1L284.7 1168.3L285.2 1146.8L285.6 1155.7L286.0 1164.8L286.4 1160.4L286.8 1156.5L287.3 1158.4L287.7 1173.6L288.1 1158.4L288.5 1167.3L288.9 1167.6L289.4 1157.4L289.8 1164.0L290.2 1156.7L290.6 1155.2L291.0 1151.1L291.5 1166.3L291.9 1155.7L292.3 1154.2L292.7 1149.8L293.1 1172.8L293.6 1163.4L294.0 1155.9L294.4 1151.5L294.8 1145.1L295.2 1158.3L295.7 1157.9L296.1 1145.0L296.5 1164.6L296.9 1161.0L297.3 1147.2L297.8 1149.7L298.2 1150.3L298.6 1154.4L299.0 1151.7L299.4 1140.6L299.9 1164.5L300.3 1154.4L300.7 1162.0L301.1 1161.6L301.5 1149.1L302.0 1153.2L302.4 1156.2L302.8 1156.2L303.2 1148.0L303.6 1144.3L304.1 1148.6L304.5 1142.0L304.9 1143.3L305.3 1132.2L305.7 1147.1L306.2 1138.5L306.6 1141.4L307.0 1144.6L307.4 1147.2L307.8 1160.1L308.3 1145.3L308.7 1132.9L309.1 1143.7L309.5 1137.8L309.9 1145.1L310.4 1136.3L310.8 1135.6L311.2 1136.6L311.6 1135.3L312.0 1126.2L312.5 1134.0L312.9 1138.2L313.3 1148.1L313.7 1135.3L314.1 1134.2L314.6 1141.4L315.0 1140.6L315.4 1149.1L315.8 1140.0L316.2 1134.4L316.7 1145.4L317.1 1146.6L317.5 1129.7L317.9 1134.0L318.3 1120.0L318.8 1129.0L319.2 1124.8L319.6 1129.2L320.0 1126.7L320.4 1128.5L320.9 1128.5L321.3 1132.9L321.7 1130.2L322.1 1123.7L322.5 1118.0L323.0 1137.3L323.4 1138.4L323.8 1123.0L324.2 1130.9L324.6 1115.1L325.1 1114.7L325.5 1123.9L325.9 1138.2L326.3 1118.0L326.7 1119.4L327.2 1138.9L327.6 1111.5L328.0 1130.5L328.4 1129.0L328.8 1123.2L329.3 1126.1L329.7 1146.5L330.1 1116.0L330.5 1121.6L330.9 1121.9L331.4 1118.4L331.8 1113.4L332.2 1136.2L332.6 1124.1L333.0 1109.2L333.5 1116.2L333.9 1123.8L334.3 1122.7L334.7 1107.8L335.1 1114.9L335.6 1114.0L336.0 1109.7L336.4 1102.3L336.8 1081.3L337.2 1086.7L337.7 1064.5L338.1 1052.8L338.5 1037.6L338.9 1021.0L339.3 1014.1L339.8 1015.9L340.2 1023.2L340.6 1035.7L341.0 1049.1L341.4 1073.3L341.9 1078.6L342.3 1084.9L342.7 1098.2L343.1 1100.1L343.5 1113.1L344.0 1112.1L344.4 1109.5L344.8 1123.3L345.2 1114.5L345.6 1125.8L346.1 1130.8L346.5 1117.9L346.9 1116.1L347.3 1122.7L347.7 1128.8L348.2 1121.4L348.6 1122.7L349.0 1121.4L349.4 1124.4L349.8 1127.1L350.3 1116.8L350.7 1118.5L351.1 1122.3L351.5 1117.2L351.9 1123.2L352.4 1126.6L352.8 1121.9L353.2 1117.8L353.6 1116.5L354.0 1137.1L354.5 1129.9L354.9 1114.5L355.3 1116.7L355.7 1138.8L356.1 1135.8L356.6 1124.3L357.0 1133.1L357.4 1112.8L357.8 1123.6L358.2 1130.0L358.7 1110.5L359.1 1118.4L359.5 1130.7L359.9 1133.8L360.3 1120.1L360.8 1126.9L361.2 1138.1L361.6 1121.9L362.0 1115.2L362.4 1124.4L362.9 1122.1L363.3 1136.0L363.7 1126.4L364.1 1119.3L364.5 1145.0L365.0 1121.4L365.4 1128.2L365.8 1128.9L366.2 1128.2L366.6 1122.4L367.1 1122.2L367.5 1116.4L367.9 1110.7L368.3 1110.7L368.7 1108.7L369.2 1107.9L369.6 1108.8L370.0 1110.1L370.4 1116.8L370.8 1122.3L371.3 1110.7L371.7 1121.9L372.1 1119.6L372.5 1108.6L372.9 1129.1L373.4 1122.2L373.8 1124.2L374.2 1122.5L374.6 1136.5L375.0 1138.0L375.5 1130.0L375.9 1133.7L376.3 1127.1L376.7 1129.2L377.1 1122.8L377.6 1128.5L378.0 1123.2L378.4 1131.6L378.8 1135.5L379.2 1131.3L379.7 1138.7L380.1 1151.6L380.5 1113.8L380.9 1129.1L381.3 1125.0L381.8 1125.9L382.2 1119.5L382.6 1129.8L383.0 1127.5L383.4 1124.9L383.9 1127.7L384.3 1125.4L384.7 1112.9L385.1 1138.9L385.5 1127.7L386.0 1123.1L386.4 1132.6L386.8 1125.3L387.2 1114.6L387.6 1137.8L388.1 1118.3L388.5 1128.8L388.9 1131.5L389.3 1142.0L389.7 1140.7L390.2 1132.1L390.6 1125.3L391.0 1127.9L391.4 1140.1L391.8 1146.1L392.3 1135.7L392.7 1126.5L393.1 1139.9L393.5 1128.6L393.9 1128.5L394.4 1129.5L394.8 1136.5L395.2 1133.9L395.6 1140.1L396.0 1142.7L396.5 1136.2L396.9 1115.2L397.3 1119.8L397.7 1133.3L398.1 1131.6L398.6 1150.3L399.0 1131.9L399.4 1131.0L399.8 1140.2L400.2 1141.2L400.7 1130.6L401.1 1136.3L401.5 1124.2L401.9 1125.6L402.3 1142.8L402.8 1122.4L403.2 1140.3L403.6 1138.3L404.0 1139.1L404.4 1140.4L404.9 1137.4L405.3 1117.4L405.7 1125.6L406.1 1128.5L406.5 1140.6L407.0 1124.8L407.4 1127.9L407.8 1130.4L408.2 1144.1L408.6 1122.7L409.1 1123.4L409.5 1138.4L409.9 1118.0L410.3 1136.0L410.7 1130.0L411.2 1122.0L411.6 1130.3L412.0 1126.2L412.4 1134.8L412.8 1136.5L413.3 1146.1L413.7 1133.5L414.1 1134.4L414.5 1129.5L414.9 1133.5L415.4 1142.6L415.8 1120.0L416.2 1139.4L416.6 1130.0L417.0 1134.5L417.5 1136.7L417.9 1141.1L418.3 1136.0L418.7 1131.2L419.1 1136.7L419.6 1134.2L420.0 1132.7L420.4 1135.9L420.8 1141.6L421.2 1135.5L421.7 1135.6L422.1 1125.2L422.5 1133.5L422.9 1121.2L423.3 1140.6L423.8 1127.8L424.2 1145.5L424.6 1159.9L425.0 1131.8L425.4 1145.9L425.9 1138.1L426.3 1130.8L426.7 1128.8L427.1 1139.6L427.5 1146.7L428.0 1137.9L428.4 1124.2L428.8 1127.6L429.2 1133.4L429.6 1146.6L430.1 1137.5L430.5 1138.0L430.9 1145.4L431.3 1133.8L431.7 1134.7L432.2 1134.1L432.6 1122.7L433.0 1139.4L433.4 1138.9L433.8 1143.7L434.3 1127.1L434.7 1129.8L435.1 1143.5L435.5 1138.4L435.9 1147.3L436.4 1129.6L436.8 1137.5L437.2 1131.0L437.6 1138.5L438.0 1132.5L438.5 1140.5L438.9 1145.1L439.3 1141.7L439.7 1123.2L440.1 1144.1L440.6 1139.9L441.0 1128.8L441.4 1129.9L441.8 1136.4L442.2 1141.2L442.7 1133.2L443.1 1124.8L443.5 1138.8L443.9 1137.9L444.3 1157.1L444.8 1127.4L445.2 1157.9L445.6 1151.4L446.0 1139.3L446.4 1150.7L446.9 1137.6L447.3 1145.1L447.7 1131.6L448.1 1137.6L448.5 1129.7L449.0 1125.7L449.4 1135.1L449.8 1132.4L450.2 1141.9L450.6 1147.8L451.1 1136.0L451.5 1137.7L451.9 1138.9L452.3 1125.3L452.7 1139.6L453.2 1137.5L453.6 1137.1L454.0 1129.6L454.4 1123.4L454.8 1135.8L455.3 1140.3L455.7 1148.9L456.1 1147.2L456.5 1150.0L456.9 1140.9L457.4 1147.5L457.8 1136.4L458.2 1143.2L458.6 1145.6L459.0 1160.3L459.5 1139.5L459.9 1128.3L460.3 1148.8L460.7 1131.4L461.1 1136.5L461.6 1134.7L462.0 1130.2L462.4 1147.8L462.8 1141.4L463.2 1131.9L463.7 1136.7L464.1 1132.9L464.5 1141.0L464.9 1133.0L465.3 1130.1L465.8 1130.8L466.2 1132.2L466.6 1137.6L467.0 1128.5L467.4 1134.2L467.9 1138.5L468.3 1154.3L468.7 1141.7L469.1 1113.0L469.5 1130.5L470.0 1131.2L470.4 1136.6L470.8 1147.0L471.2 1139.9L471.6 1117.1L472.1 1135.9L472.5 1134.1L472.9 1136.6L473.3 1144.4L473.7 1125.0L474.2 1141.9L474.6 1120.7L475.0 1132.8L475.4 1135.5L475.8 1151.3L476.3 1127.0L476.7 1119.8L477.1 1137.5L477.5 1126.8L477.9 1144.6L478.4 1126.2L478.8 1124.9L479.2 1141.5L479.6 1131.6L480.0 1139.1L480.5 1120.4L480.9 1144.3L481.3 1126.1L481.7 1137.0L482.1 1122.8L482.6 1118.8L483.0 1127.9L483.4 1131.1L483.8 1142.7L484.2 1132.2L484.7 1135.2L485.1 1134.6L485.5 1154.1L485.9 1122.9L486.3 1139.1L486.8 1127.4L487.2 1130.5L487.6 1124.3L488.0 1137.8L488.4 1118.9L488.9 1118.3L489.3 1126.2L489.7 1119.5L490.1 1133.8L490.5 1135.7L491.0 1122.7L491.4 1134.7L491.8 1123.5L492.2 1127.9L492.6 1128.4L493.1 1144.1L493.5 1128.4L493.9 1122.0L494.3 1122.0L494.7 1138.7L495.2 1116.8L495.6 1125.4L496.0 1126.1L496.4 1111.3L496.8 1125.5L497.3 1137.3L497.7 1130.8L498.1 1122.5L498.5 1134.7L498.9 1133.2L499.4 1145.8L499.8 1123.4L500.2 1125.8L500.6 1128.6L501.0 1126.9L501.5 1127.8L501.9 1125.2L502.3 1119.7L502.7 1112.2L503.1 1114.3L503.6 1106.5L504.0 1102.7L504.4 1098.1L504.8 1093.8L505.2 1090.1L505.7 1088.9L506.1 1092.7L506.5 1099.4L506.9 1104.4L507.3 1105.3L507.8 1107.0L508.2 1126.1L508.6 1130.9L509.0 1128.9L509.4 1121.2L509.9 1141.1L510.3 1140.0L510.7 1130.1L511.1 1129.2L511.5 1117.1L512.0 1137.5L512.4 1120.0L512.8 1137.3L513.2 1137.9L513.6 1132.7L514.1 1145.3L514.5 1129.9L514.9 1137.3L515.3 1139.1L515.7 1134.7L516.2 1129.7L516.6 1143.1L517.0 1136.5L517.4 1131.7L517.8 1132.0L518.3 1134.3L518.7 1152.5L519.1 1134.3L519.5 1131.8L519.9 1126.0L520.4 1125.0L520.8 1120.1L521.2 1135.6L521.6 1133.9L522.0 1126.4L522.5 1123.1L522.9 1131.4L523.3 1130.0L523.7 1124.2L524.1 1136.2L524.6 1134.9L525.0 1133.4L525.4 1140.2L525.8 1129.1L526.2 1145.1L526.7 1126.5L527.1 1138.0L527.5 1139.0L527.9 1131.9L528.3 1136.7L528.8 1124.6L529.2 1123.0L529.6 1132.3L530.0 1128.5L530.4 1138.7L530.9 1133.9L531.3 1138.9L531.7 1136.4L532.1 1135.4L532.5 1134.4L533.0 1131.0L533.4 1130.4L533.8 1150.7L534.2 1121.1L534.6 1132.3L535.1 1142.0L535.5 1137.1L535.9 1145.4L536.3 1138.1L536.7 1124.6L537.2 1131.2L537.6 1123.5L538.0 1141.7L538.4 1145.5L538.8 1130.3L539.3 1137.9L539.7 1130.4L540.1 1123.1L540.5 1130.1L540.9 1121.9L541.4 1129.1L541.8 1134.8L542.2 1139.0L542.6 1143.7L543.0 1130.6L543.5 1134.9L543.9 1136.5L544.3 1137.6L544.7 1112.8L545.1 1127.5L545.6 1139.6L546.0 1125.0L546.4 1135.0L546.8 1139.8L547.2 1119.4L547.7 1131.4L548.1 1134.6L548.5 1132.6L548.9 1121.5L549.3 1135.0L549.8 1128.0L550.2 1138.5L550.6 1134.9L551.0 1127.1L551.4 1131.9L551.9 1125.1L552.3 1124.4L552.7 1117.3L553.1 1125.8L553.5 1132.7L554.0 1125.1L554.4 1121.3L554.8 1113.1L555.2 1108.0L555.6 1108.2L556.1 1081.5L556.5 1086.7L556.9 1051.0L557.3 1034.0L557.7 995.4L558.2 953.8L558.6 919.6L559.0 885.5L559.4 861.2L559.8 850.8L560.3 856.3L560.7 876.9L561.1 908.1L561.5 941.9L561.9 980.8L562.4 1016.5L562.8 1046.2L563.2 1069.9L563.6 1085.0L564.0 1106.7L564.5 1097.3L564.9 1114.9L565.3 1119.9L565.7 1132.6L566.1 1133.0L566.6 1135.7L567.0 1130.6L567.4 1139.2L567.8 1125.2L568.2 1133.5L568.7 1118.6L569.1 1148.3L569.5 1147.8L569.9 1130.8L570.3 1129.4L570.8 1120.9L571.2 1125.2L571.6 1137.2L572.0 1135.5L572.4 1126.4L572.9 1133.6L573.3 1132.6L573.7 1141.3L574.1 1143.4L574.5 1136.3L575.0 1138.9L575.4 1138.2L575.8 1123.5L576.2 1139.8L576.6 1138.1L577.1 1144.8L577.5 1125.8L577.9 1145.2L578.3 1134.5L578.7 1141.2L579.2 1149.2L579.6 1128.9L580.0 1130.1L580.4 1147.7L580.8 1131.5L581.3 1132.9L581.7 1144.6L582.1 1138.4L582.5 1146.2L582.9 1142.3L583.4 1139.9L583.8 1148.2L584.2 1158.3L584.6 1139.5L585.0 1152.5L585.5 1149.6L585.9 1141.2L586.3 1144.1L586.7 1133.9L587.1 1136.2L587.6 1142.8L588.0 1140.3L588.4 1151.4L588.8 1131.5L589.2 1138.7L589.7 1136.3L590.1 1139.8L590.5 1150.5L590.9 1132.4L591.3 1148.0L591.8 1136.9L592.2 1138.8L592.6 1149.3L593.0 1139.2L593.4 1146.7L593.9 1142.1L594.3 1140.1L594.7 1138.8L595.1 1129.1L595.5 1136.2L596.0 1142.7L596.4 1143.1L596.8 1131.0L597.2 1149.8L597.6 1146.3L598.1 1132.5L598.5 1134.4L598.9 1145.9L599.3 1129.4L599.7 1136.6L600.2 1141.5L600.6 1141.1L601.0 1141.6L601.4 1145.1L601.8 1136.4L602.3 1138.7L602.7 1159.1L603.1 1132.2L603.5 1139.0L603.9 1143.0L604.4 1137.7L604.8 1152.4L605.2 1142.9L605.6 1148.6L606.0 1123.9L606.5 1152.2L606.9 1152.0L607.3 1137.2L607.7 1153.3L608.1 1144.7L608.6 1150.3L609.0 1157.7L609.4 1143.4L609.8 1135.6L610.2 1142.7L610.7 1133.8L611.1 1137.2L611.5 1137.5L611.9 1137.9L612.3 1152.5L612.8 1149.7L613.2 1136.5L613.6 1152.2L614.0 1130.9L614.4 1138.1L614.9 1141.8L615.3 1152.6L615.7 1148.7L616.1 1146.4L616.5 1153.5L617.0 1148.6L617.4 1154.0L617.8 1137.1L618.2 1130.6L618.6 1139.6L619.1 1149.4L619.5 1144.6L619.9 1149.8L620.3 1148.3L620.7 1146.6L621.2 1149.1L621.6 1137.3L622.0 1151.3L622.4 1135.1L622.8 1141.4L623.3 1132.2L623.7 1146.3L624.1 1131.1L624.5 1153.7L624.9 1132.5L625.4 1144.0L625.8 1140.9L626.2 1135.6L626.6 1152.1L627.0 1138.7L627.5 1153.8L627.9 1134.3L628.3 1135.8L628.7 1127.3L629.1 1145.9L629.6 1148.8L630.0 1143.0L630.4 1140.0L630.8 1134.5L631.2 1160.5L631.7 1147.1L632.1 1127.9L632.5 1138.7L632.9 1122.3L633.3 1153.8L633.8 1157.1L634.2 1152.7L634.6 1140.1L635.0 1136.2L635.4 1130.4L635.9 1144.6L636.3 1134.8L636.7 1137.3L637.1 1135.2L637.5 1137.4L638.0 1146.8L638.4 1153.2L638.8 1140.2L639.2 1138.9L639.6 1130.6L640.1 1129.5L640.5 1130.3L640.9 1144.8L641.3 1139.1L641.7 1144.7L642.2 1139.6L642.6 1132.7L643.0 1126.1L643.4 1131.6L643.8 1123.3L644.3 1149.2L644.7 1133.7L645.1 1127.7L645.5 1145.4L645.9 1124.4L646.4 1129.5L646.8 1121.0L647.2 1121.3L647.6 1110.6L648.0 1109.7L648.5 1106.5L648.9 1072.5L649.3 1046.7L649.7 1041.8L650.1 998.2L650.6 957.4L651.0 898.6L651.4 844.9L651.8 779.9L652.2 709.6L652.7 655.4L653.1 612.6L653.5 593.0L653.9 600.5L654.3 633.0L654.8 681.5L655.2 742.2L655.6 813.3L656.0 872.3L656.4 930.9L656.9 972.2L657.3 1014.0L657.7 1049.6L658.1 1073.7L658.5 1090.8L659.0 1114.7L659.4 1112.1L659.8 1106.3L660.2 1115.3L660.6 1124.3L661.1 1137.8L661.5 1124.3L661.9 1128.0L662.3 1132.0L662.7 1128.3L663.2 1128.5L663.6 1133.7L664.0 1144.4L664.4 1140.8L664.8 1135.5L665.3 1141.4L665.7 1129.6L666.1 1147.4L666.5 1145.7L666.9 1142.4L667.4 1128.8L667.8 1157.8L668.2 1120.9L668.6 1134.4L669.0 1135.2L669.5 1147.7L669.9 1131.6L670.3 1144.3L670.7 1141.7L671.1 1140.9L671.6 1150.2L672.0 1155.2L672.4 1146.7L672.8 1141.8L673.2 1127.6L673.7 1156.2L674.1 1142.0L674.5 1131.1L674.9 1145.7L675.3 1156.6L675.8 1143.7L676.2 1136.5L676.6 1163.8L677.0 1150.2L677.4 1148.1L677.9 1154.0L678.3 1130.3L678.7 1145.5L679.1 1145.0L679.5 1165.3L680.0 1142.6L680.4 1142.9L680.8 1137.1L681.2 1141.3L681.6 1145.9L682.1 1149.6L682.5 1146.3L682.9 1164.7L683.3 1152.1L683.7 1153.5L684.2 1159.8L684.6 1153.8L685.0 1145.1L685.4 1137.9L685.8 1152.0L686.3 1143.4L686.7 1160.4L687.1 1144.1L687.5 1133.9L687.9 1150.2L688.4 1159.0L688.8 1148.8L689.2 1151.8L689.6 1151.8L690.0 1165.1L690.5 1153.3L690.9 1150.7L691.3 1146.8L691.7 1139.6L692.1 1163.2L692.6 1161.2L693.0 1145.0L693.4 1156.9L693.8 1154.7L694.2 1149.5L694.7 1150.1L695.1 1158.8L695.5 1144.1L695.9 1149.1L696.3 1152.4L696.8 1153.1L697.2 1151.8L697.6 1155.1L698.0 1157.9L698.4 1147.3L698.9 1154.5L699.3 1150.2L699.7 1166.7L700.1 1144.3L700.5 1152.8L701.0 1160.4L701.4 1152.7L701.8 1152.5L702.2 1151.2L702.6 1157.7L703.1 1147.0L703.5 1154.9L703.9 1154.9L704.3 1145.3L704.7 1158.1L705.2 1152.8L705.6 1158.7L706.0 1163.5L706.4 1159.4L706.8 1148.3L707.3 1159.5L707.7 1145.6L708.1 1151.7L708.5 1171.2L708.9 1157.4L709.4 1170.5L709.8 1156.3L710.2 1157.7L710.6 1149.8L711.0 1165.7L711.5 1156.6L711.9 1163.2L712.3 1161.8L712.7 1162.7L713.1 1161.1L713.6 1158.2L714.0 1158.6L714.4 1153.8L714.8 1143.7L715.2 1163.0L715.7 1176.5L716.1 1168.2L716.5 1178.9L716.9 1163.4L717.3 1152.7L717.8 1152.6L718.2 1166.0L718.6 1162.7L719.0 1158.8L719.4 1166.3L719.9 1154.0L720.3 1164.7L720.7 1158.4L721.1 1161.8L721.5 1170.6L722.0 1159.7L722.4 1172.4L722.8 1172.1L723.2 1155.6L723.6 1180.6L724.1 1152.4L724.5 1160.6L724.9 1167.6L725.3 1145.3L725.7 1170.3L726.2 1171.3L726.6 1161.0L727.0 1164.2L727.4 1163.8L727.8 1160.6L728.3 1171.2L728.7 1159.6L729.1 1162.1L729.5 1165.6L729.9 1169.7L730.4 1171.9L730.8 1152.2L731.2 1148.4L731.6 1162.0L732.0 1162.6L732.5 1155.4L732.9 1165.8L733.3 1168.6L733.7 1166.6L734.1 1177.3L734.6 1156.2L735.0 1163.8L735.4 1179.9L735.8 1169.5L736.2 1155.9L736.7 1165.7L737.1 1174.0L737.5 1181.7L737.9 1169.8L738.3 1174.2L738.8 1156.5L739.2 1162.7L739.6 1174.5L740.0 1157.7L740.4 1164.1L740.9 1151.3L741.3 1177.1L741.7 1163.7L742.1 1169.5L742.5 1154.0L743.0 1155.4L743.4 1180.1L743.8 1162.4L744.2 1161.0L744.6 1169.2L745.1 1169.6L745.5 1151.1L745.9 1158.1L746.3 1165.5L746.7 1165.2L747.2 1168.2L747.6 1162.2L748.0 1163.3L748.4 1167.1L748.8 1160.5L749.3 1159.5L749.7 1161.6L750.1 1165.5L750.5 1164.5L750.9 1162.2L751.4 1163.8L751.8 1165.3L752.2 1168.4L752.6 1168.8L753.0 1156.6L753.5 1174.0L753.9 1154.5L754.3 1170.5L754.7 1160.9L755.1 1170.8L755.6 1174.9L756.0 1152.7L756.4 1171.1L756.8 1168.4L757.2 1162.8L757.7 1169.4L758.1 1162.7L758.5 1167.2L758.9 1158.8L759.3 1172.9L759.8 1171.3L760.2 1172.6L760.6 1161.8L761.0 1181.8L761.4 1183.0L761.9 1165.9L762.3 1163.6L762.7 1163.7L763.1 1172.4L763.5 1175.2L764.0 1161.4L764.4 1152.4L764.8 1170.6L765.2 1166.5L765.6 1168.3L766.1 1171.2L766.5 1159.0L766.9 1167.4L767.3 1164.8L767.7 1170.1L768.2 1177.1L768.6 1167.0L769.0 1160.9L769.4 1177.3L769.8 1172.8L770.3 1165.4L770.7 1154.1L771.1 1160.5L771.5 1167.8L771.9 1171.1L772.4 1162.7L772.8 1169.9L773.2 1161.7L773.6 1162.9L774.0 1169.7L774.5 1163.0L774.9 1164.8L775.3 1168.2L775.7 1166.8L776.1 1154.7L776.6 1152.7L777.0 1146.6L777.4 1143.9L777.8 1142.6L778.2 1140.8L778.7 1140.9L779.1 1145.2L779.5 1146.7L779.9 1151.5L780.3 1158.0L780.8 1161.5L781.2 1161.4L781.6 1151.2L782.0 1168.8L782.4 1161.2L782.9 1155.9L783.3 1150.6L783.7 1177.0L784.1 1167.4L784.5 1167.3L785.0 1171.5L785.4 1166.0L785.8 1156.2L786.2 1172.2L786.6 1174.9L787.1 1171.0L787.5 1179.5L787.9 1182.5L788.3 1161.3L788.7 1163.8L789.2 1174.2L789.6 1168.3L790.0 1168.6L790.4 1174.6L790.8 1173.0L791.3 1163.9L791.7 1168.0L792.1 1162.0L792.5 1165.7L792.9 1159.3L793.4 1153.3L793.8 1163.6L794.2 1162.9L794.6 1174.4L795.0 1180.1L795.5 1167.3L795.9 1171.0L796.3 1162.7L796.7 1160.7L797.1 1165.2L797.6 1165.2L798.0 1169.6L798.4 1168.1L798.8 1180.8L799.2 1165.7L799.7 1155.7L800.1 1168.1L800.5 1162.5L800.9 1168.7L801.3 1176.2L801.8 1162.4L802.2 1166.3L802.6 1171.0L803.0 1160.1L803.4 1168.3L803.9 1171.0L804.3 1173.1L804.7 1175.4L805.1 1170.9L805.5 1169.4L806.0 1156.4L806.4 1147.4L806.8 1159.3L807.2 1177.7L807.6 1166.8L808.1 1150.1L808.5 1162.8L808.9 1168.6L809.3 1152.7L809.7 1170.2L810.2 1157.5L810.6 1174.0L811.0 1165.6L811.4 1190.1L811.8 1155.9L812.3 1167.4L812.7 1154.7L813.1 1174.4L813.5 1165.9L813.9 1172.4L814.4 1165.6L814.8 1156.5L815.2 1160.1L815.6 1155.9L816.0 1157.2L816.5 1165.6L816.9 1173.1L817.3 1171.3L817.7 1168.4L818.1 1160.2L818.6 1168.2L819.0 1158.0L819.4 1165.6L819.8 1170.7L820.2 1162.4L820.7 1160.4L821.1 1160.6L821.5 1168.5L821.9 1161.3L822.3 1153.4L822.8 1160.4L823.2 1155.8L823.6 1175.4L824.0 1163.1L824.4 1152.7L824.9 1165.1L825.3 1168.7L825.7 1165.8L826.1 1160.2L826.5 1163.8L827.0 1164.8L827.4 1170.7L827.8 1165.3L828.2 1180.9L828.6 1160.7L829.1 1174.7L829.5 1162.2L829.9 1150.1L830.3 1153.7L830.7 1149.3L831.2 1150.0L831.6 1171.9L832.0 1157.5L832.4 1167.1L832.8 1156.1L833.3 1162.2L833.7 1155.1L834.1 1169.6L834.5 1160.8L834.9 1159.5L835.4 1161.5L835.8 1180.6L836.2 1166.5L836.6 1169.7L837.0 1154.3L837.5 1158.5L837.9 1165.5L838.3 1150.2L838.7 1174.2L839.1 1165.5L839.6 1163.2L840.0 1162.0L840.4 1161.9L840.8 1160.0L841.2 1175.0L841.7 1169.3L842.1 1173.9L842.5 1161.7L842.9 1157.8L843.3 1175.1L843.8 1155.6L844.2 1159.9L844.6 1170.0L845.0 1173.1L845.4 1155.2L845.9 1162.5L846.3 1164.7L846.7 1163.6L847.1 1158.6L847.5 1170.2L848.0 1161.1L848.4 1163.1L848.8 1149.2L849.2 1164.1L849.6 1151.5L850.1 1170.8L850.5 1169.1L850.9 1161.6L851.3 1166.6L851.7 1166.2L852.2 1164.4L852.6 1168.4L853.0 1164.7L853.4 1162.3L853.8 1160.1L854.3 1179.4L854.7 1167.4L855.1 1165.7L855.5 1171.8L855.9 1163.3L856.4 1163.4L856.8 1171.6L857.2 1174.6L857.6 1171.7L858.0 1156.0L858.5 1166.9L858.9 1166.3L859.3 1170.2L859.7 1160.5L860.1 1159.4L860.6 1165.9L861.0 1160.6L861.4 1159.5L861.8 1166.4L862.2 1174.4L862.7 1168.0L863.1 1176.0L863.5 1160.1L863.9 1172.8L864.3 1166.9L864.8 1161.0L865.2 1164.2L865.6 1161.2L866.0 1165.6L866.4 1162.0L866.9 1177.4L867.3 1164.7L867.7 1157.4L868.1 1165.9L868.5 1170.4L869.0 1165.1L869.4 1174.3L869.8 1161.1L870.2 1161.5L870.6 1180.6L871.1 1167.5L871.5 1171.9L871.9 1171.5L872.3 1172.2L872.7 1167.9L873.2 1166.3L873.6 1176.4L874.0 1164.3L874.4 1168.6L874.8 1173.2L875.3 1165.0L875.7 1157.2L876.1 1171.5L876.5 1176.5L876.9 1169.9L877.4 1156.4L877.8 1173.1L878.2 1183.8L878.6 1157.3L879.0 1149.4L879.5 1166.3L879.9 1168.6L880.3 1174.4L880.7 1174.7L881.1 1168.9L881.6 1172.5L882.0 1170.9L882.4 1169.2L882.8 1167.8L883.2 1167.2L883.7 1174.0L884.1 1171.6L884.5 1165.4L884.9 1177.2L885.3 1163.4L885.8 1166.9L886.2 1169.5L886.6 1155.5L887.0 1165.9L887.4 1175.4L887.9 1175.1L888.3 1160.5L888.7 1163.0L889.1 1161.3L889.5 1167.1L890.0 1168.2L890.4 1157.9L890.8 1171.3L891.2 1169.3L891.6 1168.3L892.1 1164.3L892.5 1167.7L892.9 1156.9L893.3 1171.0L893.7 1170.9L894.2 1168.6L894.6 1161.4L895.0 1179.7L895.4 1178.6L895.8 1157.0L896.3 1173.1L896.7 1171.1L897.1 1152.5L897.5 1174.2L897.9 1175.3L898.4 1176.0L898.8 1171.6L899.2 1166.0L899.6 1167.1L900.0 1174.7L900.5 1180.1L900.9 1167.5L901.3 1169.0L901.7 1176.6L902.1 1156.5L902.6 1174.8L903.0 1169.7L903.4 1156.5L903.8 1177.6L904.2 1165.4L904.7 1178.0L905.1 1182.7L905.5 1163.4L905.9 1163.8L906.3 1172.0L906.8 1160.3L907.2 1178.1L907.6 1173.8L908.0 1180.3L908.4 1160.1L908.9 1174.2L909.3 1176.4L909.7 1160.6L910.1 1180.0L910.5 1163.7L911.0 1174.5L911.4 1164.3L911.8 1179.6L912.2 1187.0L912.6 1174.0L913.1 1173.8L913.5 1184.1L913.9 1170.7L914.3 1174.3L914.7 1180.6L915.2 1177.5L915.6 1186.8L916.0 1183.9L916.4 1189.8L916.8 1174.4L917.3 1183.5L917.7 1169.0L918.1 1182.0L918.5 1188.8L918.9 1193.7L919.4 1166.4L919.8 1173.7L920.2 1180.8L920.6 1169.1L921.0 1179.5L921.5 1179.5L921.9 1171.8L922.3 1171.5L922.7 1168.9L923.1 1177.8L923.6 1185.5L924.0 1177.7L924.4 1197.6L924.8 1165.3L925.2 1171.4L925.7 1180.9L926.1 1167.6L926.5 1178.3L926.9 1182.1L927.3 1177.0L927.8 1173.9L928.2 1183.1L928.6 1178.9L929.0 1181.4L929.4 1179.9L929.9 1170.9L930.3 1167.9L930.7 1172.8L931.1 1176.9L931.5 1174.1L932.0 1183.0L932.4 1177.5L932.8 1183.1L933.2 1176.2L933.6 1170.2L934.1 1181.9L934.5 1179.1L934.9 1169.2L935.3 1172.0L935.7 1197.2L936.2 1153.1L936.6 1183.5L937.0 1174.7L937.4 1173.5L937.8 1171.7L938.3 1170.0L938.7 1192.3L939.1 1169.8L939.5 1170.4L939.9 1178.6L940.4 1174.7L940.8 1169.8L941.2 1168.4L941.6 1160.4L942.0 1177.3L942.5 1160.0L942.9 1149.1L943.3 1171.5L943.7 1165.6L944.1 1157.4L944.6 1144.5L945.0 1146.1L945.4 1117.9L945.8 1094.7L946.2 1083.5L946.7 1058.2L947.1 1024.9L947.5 993.6L947.9 955.8L948.3 924.4L948.8 903.5L949.2 895.9L949.6 902.3L950.0 922.2L950.4 949.1L950.9 984.8L951.3 1016.3L951.7 1053.4L952.1 1081.6L952.5 1108.7L953.0 1135.0L953.4 1136.4L953.8 1158.6L954.2 1148.0L954.6 1161.7L955.1 1171.7L955.5 1182.4L955.9 1161.0L956.3 1168.2L956.7 1172.2L957.2 1171.2L957.6 1166.1L958.0 1162.1L958.4 1165.5L958.8 1173.9L959.3 1165.7L959.7 1189.8L960.1 1185.8L960.5 1162.9L960.9 1173.0L961.4 1187.5L961.8 1188.8L962.2 1186.3L962.6 1167.5L963.0 1175.1L963.5 1188.3L963.9 1178.9L964.3 1175.1L964.7 1182.5L965.1 1186.6L965.6 1179.8L966.0 1180.9L966.4 1187.7L966.8 1175.2L967.2 1172.9L967.7 1185.6L968.1 1171.2L968.5 1183.6L968.9 1174.6L969.3 1186.6L969.8 1171.6L970.2 1189.2L970.6 1182.4L971.0 1178.1L971.4 1174.3L971.9 1179.3L972.3 1174.0L972.7 1172.2L973.1 1189.4L973.5 1185.5L974.0 1190.8L974.4 1171.4L974.8 1167.4L975.2 1170.0L975.6 1186.4L976.1 1187.7L976.5 1168.4L976.9 1189.7L977.3 1178.4L977.7 1173.2L978.2 1181.0L978.6 1186.3L979.0 1180.3L979.4 1180.6L979.8 1176.1L980.3 1172.2L980.7 1179.5L981.1 1170.9L981.5 1187.2L981.9 1176.4L982.4 1193.1L982.8 1171.5L983.2 1194.1L983.6 1176.5L984.0 1176.6L984.5 1185.2L984.9 1190.3L985.3 1182.7L985.7 1180.6L986.1 1199.4L986.6 1187.4L987.0 1175.0L987.4 1181.6L987.8 1197.3L988.2 1186.2L988.7 1190.4L989.1 1200.3L989.5 1179.7L989.9 1186.9L990.3 1179.3L990.8 1184.0L991.2 1188.5L991.6 1175.0L992.0 1185.5L992.4 1185.5L992.9 1193.0L993.3 1180.4L993.7 1175.8L994.1 1187.9L994.5 1176.9L995.0 1186.3L995.4 1189.5L995.8 1178.9L996.2 1184.2L996.6 1177.9L997.1 1165.5L997.5 1175.2L997.9 1170.8L998.3 1185.5L998.7 1178.0L999.2 1184.5L999.6 1185.3L1000.0 1194.3L1000.4 1183.3L1000.8 1183.0L1001.3 1190.0L1001.7 1199.1L1002.1 1185.5L1002.5 1188.9L1002.9 1184.9L1003.4 1181.4L1003.8 1175.7L1004.2 1185.9L1004.6 1184.6L1005.0 1184.9L1005.5 1202.9L1005.9 1184.4L1006.3 1189.5L1006.7 1184.5L1007.1 1196.6L1007.6 1185.0L1008.0 1202.3L1008.4 1185.4L1008.8 1193.6L1009.2 1195.7L1009.7 1185.8L1010.1 1194.5L1010.5 1188.1L1010.9 1182.4L1011.3 1183.1L1011.8 1190.5L1012.2 1202.5L1012.6 1184.6L1013.0 1192.5L1013.4 1182.5L1013.9 1190.3L1014.3 1179.2L1014.7 1182.9L1015.1 1188.4L1015.5 1183.3L1016.0 1186.7L1016.4 1196.9L1016.8 1187.9L1017.2 1183.8L1017.6 1180.3L1018.1 1185.3L1018.5 1198.4L1018.9 1188.5L1019.3 1188.2L1019.7 1195.1L1020.2 1196.2L1020.6 1197.6L1021.0 1187.0L1021.4 1183.2L1021.8 1178.1L1022.3 1185.0L1022.7 1187.2L1023.1 1195.8L1023.5 1192.5L1023.9 1186.0L1024.4 1197.1L1024.8 1181.2L1025.2 1182.7L1025.6 1181.8L1026.0 1182.4L1026.5 1188.2L1026.9 1184.2L1027.3 1184.8L1027.7 1200.9L1028.1 1179.9L1028.6 1183.0L1029.0 1188.5L1029.4 1193.7L1029.8 1194.1L1030.2 1188.3L1030.7 1187.7L1031.1 1188.4L1031.5 1196.3L1031.9 1183.9L1032.3 1174.0L1032.8 1191.8L1033.2 1182.3L1033.6 1189.9L1034.0 1201.7L1034.4 1191.2L1034.9 1205.4L1035.3 1179.5L1035.7 1192.4L1036.1 1193.6L1036.5 1197.2L1037.0 1185.5L1037.4 1191.8L1037.8 1191.6L1038.2 1191.3L1038.6 1181.2L1039.1 1178.7L1039.5 1195.1L1039.9 1193.5L1040.3 1191.0L1040.7 1195.9L1041.2 1199.6L1041.6 1182.8L1042.0 1197.2L1042.4 1203.0L1042.8 1199.2L1043.3 1195.8L1043.7 1196.7L1044.1 1181.1L1044.5 1187.7L1044.9 1199.5L1045.4 1203.2L1045.8 1194.9L1046.2 1188.1L1046.6 1190.3L1047.0 1198.3L1047.5 1207.8L1047.9 1197.8L1048.3 1187.8L1048.7 1196.6L1049.1 1195.0L1049.6 1211.1L1050.0 1196.4L1050.4 1191.9L1050.8 1191.1L1051.2 1183.1L1051.7 1184.4L1052.1 1188.4L1052.5 1186.1L1052.9 1193.3L1053.3 1192.6L1053.8 1199.5L1054.2 1204.2L1054.6 1193.1L1055.0 1190.5L1055.4 1179.1L1055.9 1195.0L1056.3 1197.3L1056.7 1186.6L1057.1 1189.2L1057.5 1187.1L1058.0 1200.7L1058.4 1197.1L1058.8 1202.0L1059.2 1183.7L1059.6 1213.7L1060.1 1186.2L1060.5 1185.0L1060.9 1193.7L1061.3 1188.3L1061.7 1207.0L1062.2 1189.3L1062.6 1187.4L1063.0 1200.2L1063.4 1202.2L1063.8 1186.4L1064.3 1188.9L1064.7 1189.8L1065.1 1191.1L1065.5 1206.2L1065.9 1202.5L1066.4 1201.0L1066.8 1202.7L1067.2 1192.5L1067.6 1199.5L1068.0 1191.9L1068.5 1187.2L1068.9 1205.9L1069.3 1180.3L1069.7 1192.5L1070.1 1188.4L1070.6 1181.0L1071.0 1189.8L1071.4 1193.0L1071.8 1196.1L1072.2 1186.7L1072.7 1198.5L1073.1 1194.8L1073.5 1198.9L1073.9 1179.0L1074.3 1189.2L1074.8 1188.0L1075.2 1196.9L1075.6 1187.1L1076.0 1188.7L1076.4 1184.3L1076.9 1183.9L1077.3 1185.7L1077.7 1199.9L1078.1 1184.8L1078.5 1175.3L1079.0 1194.4L1079.4 1188.9L1079.8 1196.5L1080.2 1196.3L1080.6 1189.8L1081.1 1189.1L1081.5 1188.1L1081.9 1191.9L1082.3 1186.6L1082.7 1193.5L1083.2 1203.1L1083.6 1187.3L1084.0 1187.6L1084.4 1187.5L1084.8 1196.8L1085.3 1197.2L1085.7 1203.5L1086.1 1197.6L1086.5 1192.9L1086.9 1195.5L1087.4 1182.8L1087.8 1196.4L1088.2 1193.2L1088.6 1208.6L1089.0 1203.0L1089.5 1186.1L1089.9 1187.9L1090.3 1198.9L1090.7 1177.6L1091.1 1185.5L1091.6 1194.8L1092.0 1197.0L1092.4 1193.2L1092.8 1201.2L1093.2 1189.9L1093.7 1192.5L1094.1 1190.4L1094.5 1184.2L1094.9 1192.1L1095.3 1187.9L1095.8 1192.3L1096.2 1173.7L1096.6 1192.5L1097.0 1187.9L1097.4 1187.4L1097.9 1192.0L1098.3 1188.4L1098.7 1199.1L1099.1 1201.7L1099.5 1198.7L1100.0 1199.4L1100.4 1194.5L1100.8 1191.8L1101.2 1182.7L1101.6 1189.0L1102.1 1201.3L1102.5 1197.7L1102.9 1188.1L1103.3 1192.3L1103.7 1200.0L1104.2 1190.3L1104.6 1204.5L1105.0 1186.2L1105.4 1197.8L1105.8 1197.0L1106.3 1192.8L1106.7 1193.8L1107.1 1195.7L1107.5 1175.7L1107.9 1195.1L1108.4 1200.5L1108.8 1194.5L1109.2 1200.4L1109.6 1183.1L1110.0 1190.7L1110.5 1193.9L1110.9 1189.4L1111.3 1200.7L1111.7 1195.0L1112.1 1187.6L1112.6 1197.7L1113.0 1197.6L1113.4 1188.0L1113.8 1196.0L1114.2 1194.0L1114.7 1193.8L1115.1 1182.3L1115.5 1201.1L1115.9 1196.0L1116.3 1190.6L1116.8 1193.5L1117.2 1193.4L1117.6 1188.5L1118.0 1186.5L1118.4 1191.3L1118.9 1186.3L1119.3 1187.1L1119.7 1182.4L1120.1 1188.4L1120.5 1198.4L1121.0 1191.9L1121.4 1190.5L1121.8 1187.8L1122.2 1186.9L1122.6 1179.4L1123.1 1202.8L1123.5 1184.2L1123.9 1178.6L1124.3 1191.4L1124.7 1189.4L1125.2 1182.9L1125.6 1175.4L1126.0 1173.9L1126.4 1188.8L1126.8 1173.5L1127.3 1165.4L1127.7 1168.7L1128.1 1151.6L1128.5 1142.9L1128.9 1137.4L1129.4 1130.5L1129.8 1127.2L1130.2 1125.9L1130.6 1130.3L1131.0 1134.5L1131.5 1145.5L1131.9 1151.3L1132.3 1159.5L1132.7 1165.2L1133.1 1179.1L1133.6 1189.5L1134.0 1182.1L1134.4 1183.5L1134.8 1183.7L1135.2 1192.3L1135.7 1182.1L1136.1 1213.7L1136.5 1188.5L1136.9 1204.3L1137.3 1191.9L1137.8 1181.6L1138.2 1180.4L1138.6 1188.4L1139.0 1186.6L1139.4 1189.9L1139.9 1183.8L1140.3 1210.8L1140.7 1209.2L1141.1 1179.6L1141.5 1196.0L1142.0 1201.9L1142.4 1190.0L1142.8 1190.8L1143.2 1201.2L1143.6 1196.8L1144.1 1184.2L1144.5 1202.5L1144.9 1189.3L1145.3 1207.7L1145.7 1186.2L1146.2 1177.0L1146.6 1193.6L1147.0 1202.7L1147.4 1197.1L1147.8 1194.2L1148.3 1186.7L1148.7 1200.4L1149.1 1180.3L1149.5 1199.5L1149.9 1184.8L1150.4 1189.0L1150.8 1184.1L1151.2 1186.9L1151.6 1205.3L1152.0 1185.1L1152.5 1194.8L1152.9 1187.8L1153.3 1201.6L1153.7 1184.0L1154.1 1193.4L1154.6 1200.7L1155.0 1211.8L1155.4 1185.3L1155.8 1187.4L1156.2 1193.2L1156.7 1205.5L1157.1 1186.5L1157.5 1200.2L1157.9 1189.3L1158.3 1186.5L1158.8 1182.6L1159.2 1194.7L1159.6 1201.6L1160.0 1193.0L1160.4 1179.1L1160.9 1189.9L1161.3 1201.6L1161.7 1200.9L1162.1 1196.0L1162.5 1205.8L1163.0 1185.1L1163.4 1185.4L1163.8 1213.4L1164.2 1199.4L1164.6 1192.6L1165.1 1190.6L1165.5 1176.1L1165.9 1200.8L1166.3 1179.7L1166.7 1180.5L1167.2 1193.8L1167.6 1206.5L1168.0 1191.5L1168.4 1197.3L1168.8 1191.3L1169.3 1197.6L1169.7 1182.9L1170.1 1211.6L1170.5 1187.8L1170.9 1199.1L1171.4 1180.4L1171.8 1209.1L1172.2 1198.1L1172.6 1211.1L1173.0 1190.1L1173.5 1203.2L1173.9 1193.6L1174.3 1194.5L1174.7 1205.4L1175.1 1188.5L1175.6 1200.8L1176.0 1210.7L1176.4 1209.1L1176.8 1203.5L1177.2 1197.4L1177.7 1188.0L1178.1 1206.4L1178.5 1189.9L1178.9 1204.4L1179.3 1192.1L1179.8 1194.3L1180.2 1194.0L1180.6 1198.6L1181.0 1190.2L1181.4 1194.0L1181.9 1188.2L1182.3 1194.2L1182.7 1190.3L1183.1 1188.5L1183.5 1177.3L1184.0 1179.0L1184.4 1171.5L1184.8 1166.9L1185.2 1157.0L1185.6 1146.9L1186.1 1142.1L1186.5 1133.9L1186.9 1130.1L1187.3 1127.8L1187.7 1130.6L1188.2 1135.8L1188.6 1140.8L1189.0 1151.4L1189.4 1157.1L1189.8 1171.6L1190.3 1176.1L1190.7 1172.5L1191.1 1182.2L1191.5 1176.6L1191.9 1187.8L1192.4 1195.9L1192.8 1199.7L1193.2 1193.6L1193.6 1193.4L1194.0 1196.9L1194.5 1191.9L1194.9 1199.0L1195.3 1205.8L1195.7 1198.5L1196.1 1204.2L1196.6 1192.0L1197.0 1194.2L1197.4 1200.6L1197.8 1214.5L1198.2 1206.4L1198.7 1212.3L1199.1 1198.8L1199.5 1208.7L1199.9 1187.1L1200.3 1203.1L1200.8 1184.5L1201.2 1209.1L1201.6 1203.1L1202.0 1208.8L1202.4 1202.7L1202.9 1196.1L1203.3 1194.5L1203.7 1201.3L1204.1 1212.1L1204.5 1205.0L1205.0 1196.3L1205.4 1196.2L1205.8 1195.3L1206.2 1198.8L1206.6 1199.7L1207.1 1197.1L1207.5 1200.6L1207.9 1189.6L1208.3 1213.4L1208.7 1202.7L1209.2 1213.2L1209.6 1203.2L1210.0 1199.6L1210.4 1201.7L1210.8 1202.9L1211.3 1196.6L1211.7 1198.6L1212.1 1216.9L1212.5 1209.0L1212.9 1197.8L1213.4 1205.7L1213.8 1195.7L1214.2 1213.0L1214.6 1194.6L1215.0 1208.9L1215.5 1201.9L1215.9 1202.0L1216.3 1196.1L1216.7 1200.0L1217.1 1196.6L1217.6 1195.9L1218.0 1205.7L1218.4 1222.4L1218.8 1199.6L1219.2 1210.2L1219.7 1202.0L1220.1 1197.2L1220.5 1213.0L1220.9 1207.3L1221.3 1211.5L1221.8 1203.2L1222.2 1203.5L1222.6 1196.7L1223.0 1200.5L1223.4 1216.1L1223.9 1186.7L1224.3 1205.6L1224.7 1214.4L1225.1 1209.1L1225.5 1209.8L1226.0 1200.8L1226.4 1211.9L1226.8 1212.1L1227.2 1202.5L1227.6 1216.4L1228.1 1199.5L1228.5 1185.8L1228.9 1202.8L1229.3 1202.1L1229.7 1197.1L1230.2 1199.8L1230.6 1199.3L1231.0 1190.5L1231.4 1213.1L1231.8 1203.2L1232.3 1224.9L1232.7 1203.1L1233.1 1206.5L1233.5 1192.9L1233.9 1211.6L1234.4 1195.8L1234.8 1207.8L1235.2 1210.9L1235.6 1209.6L1236.0 1197.7L1236.5 1198.0L1236.9 1209.7L1237.3 1213.2L1237.7 1215.3L1238.1 1203.4L1238.6 1202.9L1239.0 1218.2L1239.4 1199.6L1239.8 1209.9L1240.2 1201.6L1240.7 1194.0L1241.1 1196.2L1241.5 1207.5L1241.9 1205.7L1242.3 1207.9L1242.8 1201.5L1243.2 1200.5L1243.6 1206.3L1244.0 1202.8L1244.4 1193.1L1244.9 1201.1L1245.3 1217.8L1245.7 1198.9L1246.1 1208.6L1246.5 1203.7L1247.0 1210.2L1247.4 1198.3L1247.8 1195.5L1248.2 1207.9L1248.6 1199.5L1249.1 1204.1L1249.5 1202.2L1249.9 1212.2L1250.3 1206.5L1250.7 1205.6L1251.2 1197.9L1251.6 1193.8L1252.0 1198.8L1252.4 1211.3L1252.8 1210.2L1253.3 1209.4L1253.7 1201.9L1254.1 1197.7L1254.5 1214.0L1254.9 1206.3L1255.4 1209.1L1255.8 1198.4L1256.2 1200.2L1256.6 1210.1L1257.0 1210.9L1257.5 1198.2L1257.9 1207.3L1258.3 1197.1L1258.7 1214.9L1259.1 1210.5L1259.6 1223.4L1260.0 1217.3L1260.4 1200.8L1260.8 1206.9L1261.2 1202.1L1261.7 1206.5L1262.1 1211.7L1262.5 1205.4L1262.9 1206.0L1263.3 1196.4L1263.8 1210.2L1264.2 1205.5L1264.6 1210.7L1265.0 1214.1L1265.4 1206.0L1265.9 1211.4L1266.3 1201.7L1266.7 1213.5L1267.1 1205.8L1267.5 1201.9L1268.0 1204.4L1268.4 1196.4L1268.8 1201.7L1269.2 1203.2L1269.6 1206.4L1270.1 1205.6L1270.5 1201.9L1270.9 1205.0L1271.3 1191.8L1271.7 1207.1L1272.2 1210.9L1272.6 1212.7L1273.0 1215.1L1273.4 1205.1L1273.8 1206.0L1274.3 1203.4L1274.7 1203.4L1275.1 1207.7L1275.5 1217.4L1275.9 1195.3L1276.4 1203.4L1276.8 1209.0L1277.2 1200.1L1277.6 1210.2L1278.0 1197.7L1278.5 1204.6L1278.9 1195.8L1279.3 1209.2L1279.7 1201.8L1280.1 1212.2L1280.6 1205.2L1281.0 1200.7L1281.4 1204.4L1281.8 1208.2L1282.2 1207.2L1282.7 1205.6L1283.1 1205.0L1283.5 1207.4L1283.9 1214.1L1284.3 1203.6L1284.8 1210.9L1285.2 1198.6L1285.6 1214.9L1286.0 1210.5L1286.4 1205.3L1286.9 1205.5L1287.3 1196.3L1287.7 1208.5L1288.1 1206.2L1288.5 1198.5L1289.0 1205.0L1289.4 1212.5L1289.8 1209.4L1290.2 1210.2L1290.6 1204.4L1291.1 1214.8L1291.5 1208.0L1291.9 1214.9L1292.3 1225.8L1292.7 1194.9L1293.2 1205.0L1293.6 1208.5L1294.0 1203.5L1294.4 1216.7L1294.8 1206.2L1295.3 1221.9L1295.7 1214.7L1296.1 1212.1L1296.5 1208.7L1296.9 1215.5L1297.4 1212.8L1297.8 1220.6L1298.2 1212.3L1298.6 1217.2L1299.0 1212.4L1299.5 1211.8L1299.9 1198.8L1300.3 1209.4L1300.7 1212.4L1301.1 1201.6L1301.6 1200.1L1302.0 1207.4L1302.4 1211.8L1302.8 1198.1L1303.2 1212.1L1303.7 1217.2L1304.1 1208.0L1304.5 1211.6L1304.9 1213.4L1305.3 1205.3L1305.8 1214.7L1306.2 1213.3L1306.6 1201.5L1307.0 1213.9L1307.4 1216.8L1307.9 1202.6L1308.3 1216.7L1308.7 1208.1L1309.1 1200.9L1309.5 1202.9L1310.0 1204.0L1310.4 1214.2L1310.8 1206.7L1311.2 1207.4L1311.6 1201.5L1312.1 1210.2L1312.5 1201.7L1312.9 1205.5L1313.3 1214.9L1313.7 1215.4L1314.2 1206.5L1314.6 1209.8L1315.0 1214.4L1315.4 1210.1L1315.8 1219.7L1316.3 1220.8L1316.7 1209.6L1317.1 1202.0L1317.5 1209.2L1317.9 1221.0L1318.4 1219.2L1318.8 1219.7L1319.2 1219.2L1319.6 1206.9L1320.0 1212.5L1320.5 1219.0L1320.9 1212.5L1321.3 1217.4L1321.7 1203.6L1322.1 1202.2L1322.6 1226.4L1323.0 1216.6L1323.4 1215.3L1323.8 1222.1L1324.2 1228.2L1324.7 1233.4L1325.1 1194.2L1325.5 1213.5L1325.9 1218.7L1326.3 1197.5L1326.8 1198.3L1327.2 1209.1L1327.6 1225.2L1328.0 1217.6L1328.4 1226.9L1328.9 1212.0L1329.3 1217.5L1329.7 1219.8L1330.1 1211.0L1330.5 1206.4L1331.0 1205.5L1331.4 1190.9L1331.8 1201.0L1332.2 1193.0L1332.6 1192.9L1333.1 1192.2L1333.5 1190.4L1333.9 1189.4L1334.3 1192.0L1334.7 1195.1L1335.2 1197.4L1335.6 1202.3L1336.0 1205.2L1336.4 1197.0L1336.8 1205.6L1337.3 1206.3L1337.7 1201.5L1338.1 1209.3L1338.5 1204.7L1338.9 1209.8L1339.4 1204.7L1339.8 1219.0L1340.2 1228.5L1340.6 1207.0L1341.0 1211.3L1341.5 1211.4L1341.9 1214.6L1342.3 1210.0L1342.7 1196.1L1343.1 1214.0L1343.6 1210.4L1344.0 1204.0L1344.4 1210.0L1344.8 1207.9L1345.2 1213.3L1345.7 1209.3L1346.1 1209.6L1346.5 1212.3L1346.9 1213.4L1347.3 1211.6L1347.8 1220.9L1348.2 1213.5L1348.6 1206.4L1349.0 1225.4L1349.4 1212.6L1349.9 1224.2L1350.3 1204.6L1350.7 1216.3L1351.1 1225.6L1351.5 1222.1L1352.0 1212.7L1352.4 1208.1L1352.8 1208.0L1353.2 1210.9L1353.6 1205.6L1354.1 1207.2L1354.5 1205.6L1354.9 1205.6L1355.3 1214.3L1355.7 1200.5L1356.2 1213.8L1356.6 1218.1L1357.0 1206.3L1357.4 1206.6L1357.8 1212.9L1358.3 1212.6L1358.7 1220.5L1359.1 1199.5L1359.5 1212.5L1359.9 1224.3L1360.4 1213.8L1360.8 1227.3L1361.2 1230.7L1361.6 1209.6L1362.0 1225.3L1362.5 1217.5L1362.9 1213.4L1363.3 1211.6L1363.7 1212.1L1364.1 1207.5L1364.6 1212.6L1365.0 1221.3L1365.4 1223.9L1365.8 1211.3L1366.2 1218.2L1366.7 1217.8L1367.1 1198.1L1367.5 1219.8L1367.9 1205.8L1368.3 1206.4L1368.8 1221.0L1369.2 1227.7L1369.6 1206.8L1370.0 1208.4L1370.4 1208.0L1370.9 1210.9L1371.3 1212.0L1371.7 1209.0L1372.1 1203.6L1372.5 1228.8L1373.0 1211.4L1373.4 1209.6L1373.8 1222.0L1374.2 1212.4L1374.6 1223.6L1375.1 1221.2L1375.5 1222.9L1375.9 1212.4L1376.3 1220.2L1376.7 1204.7L1377.2 1206.0L1377.6 1215.8L1378.0 1213.3L1378.4 1226.1L1378.8 1213.6L1379.3 1203.5L1379.7 1216.0L1380.1 1213.6L1380.5 1217.2L1380.9 1207.8L1381.4 1210.5L1381.8 1216.2L1382.2 1221.6L1382.6 1219.0L1383.0 1221.7L1383.5 1205.9L1383.9 1214.3L1384.3 1217.5L1384.7 1223.5L1385.1 1217.9L1385.6 1214.2L1386.0 1215.0L1386.4 1215.2L1386.8 1206.2L1387.2 1216.0L1387.7 1222.2L1388.1 1221.5L1388.5 1203.2L1388.9 1215.8L1389.3 1205.6L1389.8 1224.4L1390.2 1219.9L1390.6 1221.2L1391.0 1211.0L1391.4 1202.4L1391.9 1208.3L1392.3 1212.7L1392.7 1204.9L1393.1 1207.8L1393.5 1226.4L1394.0 1204.8L1394.4 1214.7L1394.8 1200.1L1395.2 1208.2L1395.6 1207.5L1396.1 1202.1L1396.5 1199.9L1396.9 1196.3L1397.3 1190.0L1397.7 1189.4L1398.2 1189.3L1398.6 1190.8L1399.0 1195.1L1399.4 1197.0L1399.8 1203.6L1400.3 1208.0L1400.7 1207.3L1401.1 1212.3L1401.5 1207.1L1401.9 1215.0L1402.4 1215.3L1402.8 1213.8L1403.2 1212.3L1403.6 1223.3L1404.0 1215.2L1404.5 1234.3L1404.9 1226.8L1405.3 1222.6L1405.7 1212.7L1406.1 1224.0L1406.6 1218.0L1407.0 1217.6L1407.4 1209.6L1407.8 1221.7L1408.2 1219.1L1408.7 1214.0L1409.1 1212.7L1409.5 1215.4L1409.9 1208.4L1410.3 1213.6L1410.8 1228.4L1411.2 1213.1L1411.6 1235.9L1412.0 1208.5L1412.4 1226.3L1412.9 1226.3L1413.3 1226.9L1413.7 1222.2L1414.1 1206.8L1414.5 1226.9L1415.0 1226.3L1415.4 1218.1L1415.8 1201.9L1416.2 1226.4L1416.6 1211.5L1417.1 1216.0L1417.5 1227.7L1417.9 1228.5L1418.3 1221.0L1418.7 1214.1L1419.2 1231.5L1419.6 1227.2L1420.0 1216.9L1420.4 1211.5L1420.8 1220.3L1421.3 1208.8L1421.7 1232.1L1422.1 1222.1L1422.5 1215.6L1422.9 1221.3L1423.4 1206.8L1423.8 1217.6L1424.2 1213.7L1424.6 1207.4L1425.0 1213.8L1425.5 1220.9L1425.9 1208.4L1426.3 1216.8L1426.7 1208.3L1427.1 1219.8L1427.6 1206.3L1428.0 1223.9L1428.4 1223.6L1428.8 1225.0L1429.2 1232.8L1429.7 1219.8L1430.1 1219.4L1430.5 1223.3L1430.9 1215.4L1431.3 1205.8L1431.8 1210.3L1432.2 1210.4L1432.6 1220.3L1433.0 1214.4L1433.4 1216.1L1433.9 1223.3L1434.3 1220.4L1434.7 1234.9L1435.1 1218.6L1435.5 1212.7L1436.0 1229.2L1436.4 1216.3L1436.8 1218.7L1437.2 1227.2L1437.6 1220.7L1438.1 1224.9L1438.5 1215.2L1438.9 1217.5L1439.3 1224.7L1439.7 1216.0L1440.2 1217.0L1440.6 1219.5L1441.0 1232.6L1441.4 1231.7L1441.8 1221.9L1442.3 1220.7L1442.7 1215.4L1443.1 1230.8L1443.5 1223.6L1443.9 1227.9L1444.4 1210.9L1444.8 1227.0L1445.2 1221.9L1445.6 1226.8L1446.0 1229.1L1446.5 1221.0L1446.9 1218.4L1447.3 1226.5L1447.7 1212.8L1448.1 1232.5L1448.6 1224.0L1449.0 1213.7L1449.4 1231.6L1449.8 1229.1L1450.2 1233.7L1450.7 1229.5L1451.1 1225.6L1451.5 1221.4L1451.9 1214.5L1452.3 1227.9L1452.8 1226.6L1453.2 1219.0L1453.6 1226.8L1454.0 1216.0L1454.4 1230.6L1454.9 1223.4L1455.3 1224.2L1455.7 1217.3L1456.1 1229.9L1456.5 1223.7L1457.0 1218.4L1457.4 1225.6L1457.8 1221.0L1458.2 1230.8L1458.6 1212.2L1459.1 1214.8L1459.5 1238.7L1459.9 1219.3L1460.3 1226.7L1460.7 1220.0L1461.2 1224.5L1461.6 1243.7L1462.0 1209.5L1462.4 1227.3L1462.8 1223.5L1463.3 1223.3L1463.7 1217.7L1464.1 1216.6L1464.5 1234.0L1464.9 1227.2L1465.4 1215.1L1465.8 1223.3L1466.2 1214.2L1466.6 1246.2L1467.0 1226.4L1467.5 1211.2L1467.9 1230.9L1468.3 1228.5L1468.7 1226.1L1469.1 1225.1L1469.6 1219.9L1470.0 1222.3L1470.4 1210.0L1470.8 1234.2L1471.2 1239.8L1471.7 1227.9L1472.1 1228.8L1472.5 1214.7L1472.9 1221.1L1473.3 1214.4L1473.8 1215.2L1474.2 1228.4L1474.6 1235.5L1475.0 1223.7L1475.4 1244.0L1475.9 1230.9L1476.3 1209.1L1476.7 1221.6L1477.1 1234.8L1477.5 1225.7L1478.0 1232.8L1478.4 1213.2L1478.8 1234.8L1479.2 1216.6L1479.6 1227.4L1480.1 1241.6L1480.5 1225.4L1480.9 1223.2L1481.3 1231.0L1481.7 1219.3L1482.2 1218.5L1482.6 1232.8L1483.0 1214.9L1483.4 1216.7L1483.8 1239.1L1484.3 1216.7L1484.7 1228.8L1485.1 1234.1L1485.5 1224.9L1485.9 1218.1L1486.4 1231.9L1486.8 1219.0L1487.2 1242.2L1487.6 1243.0L1488.0 1218.4L1488.5 1230.0L1488.9 1220.6L1489.3 1228.4L1489.7 1223.6L1490.1 1218.7L1490.6 1229.5L1491.0 1214.2L1491.4 1227.9L1491.8 1224.3L1492.2 1220.1L1492.7 1232.6L1493.1 1225.7L1493.5 1223.0L1493.9 1224.3L1494.3 1223.9L1494.8 1232.8L1495.2 1223.4L1495.6 1205.9L1496.0 1205.0L1496.4 1218.3L1496.9 1216.9L1497.3 1223.5L1497.7 1216.3L1498.1 1220.0L1498.5 1235.9L1499.0 1216.4L1499.4 1232.2L1499.8 1224.6L1500.2 1235.8L1500.6 1232.6L1501.1 1226.0L1501.5 1234.2L1501.9 1227.4L1502.3 1218.0L1502.7 1229.6L1503.2 1229.7L1503.6 1224.9L1504.0 1227.8L1504.4 1222.8L1504.8 1228.4L1505.3 1223.9L1505.7 1215.4L1506.1 1224.0L1506.5 1238.6L1506.9 1232.5L1507.4 1237.9L1507.8 1226.0L1508.2 1223.1L1508.6 1218.7L1509.0 1227.2L1509.5 1234.1L1509.9 1232.5L1510.3 1231.9L1510.7 1222.5L1511.1 1226.9L1511.6 1220.7L1512.0 1232.6L1512.4 1230.8L1512.8 1221.7L1513.2 1227.0L1513.7 1210.7L1514.1 1231.6L1514.5 1220.5L1514.9 1223.5L1515.3 1230.8L1515.8 1231.4L1516.2 1221.5L1516.6 1238.7L1517.0 1242.1L1517.4 1237.5L1517.9 1236.5L1518.3 1226.5L1518.7 1237.1L1519.1 1220.1L1519.5 1218.6L1520.0 1227.4L1520.4 1228.1L1520.8 1220.2L1521.2 1240.2L1521.6 1216.2L1522.1 1212.1L1522.5 1223.3L1522.9 1239.1L1523.3 1232.0L1523.7 1228.8L1524.2 1227.2L1524.6 1230.5L1525.0 1228.6L1525.4 1226.9L1525.8 1225.2L1526.3 1215.2L1526.7 1233.7L1527.1 1223.1L1527.5 1229.0L1527.9 1229.9L1528.4 1234.2L1528.8 1220.7L1529.2 1232.6L1529.6 1232.8L1530.0 1225.2L1530.5 1225.6L1530.9 1227.2L1531.3 1219.1L1531.7 1222.9L1532.1 1218.3L1532.6 1235.5L1533.0 1220.9L1533.4 1219.0L1533.8 1227.5L1534.2 1230.6L1534.7 1223.9L1535.1 1220.0L1535.5 1229.8L1535.9 1233.3L1536.3 1215.6L1536.8 1233.7L1537.2 1214.8L1537.6 1231.5L1538.0 1223.4L1538.4 1224.3L1538.9 1230.6L1539.3 1234.5L1539.7 1237.0L1540.1 1230.5L1540.5 1224.7L1541.0 1214.8L1541.4 1216.4L1541.8 1215.8L1542.2 1212.4L1542.6 1212.0L1543.1 1209.7L1543.5 1209.8L1543.9 1209.1L1544.3 1209.4L1544.7 1211.3L1545.2 1212.8L1545.6 1218.1L1546.0 1223.3L1546.4 1225.1L1546.8 1227.9L1547.3 1221.2L1547.7 1220.1L1548.1 1222.5L1548.5 1228.2L1548.9 1226.4L1549.4 1231.3L1549.8 1237.4L1550.2 1230.5L1550.6 1243.5L1551.0 1225.2L1551.5 1235.6L1551.9 1230.3L1552.3 1238.9L1552.7 1230.9L1553.1 1227.7L1553.6 1230.5L1554.0 1225.6L1554.4 1224.3L1554.8 1238.1L1555.2 1227.8L1555.7 1241.6L1556.1 1252.0L1556.5 1229.7L1556.9 1239.3L1557.3 1231.9L1557.8 1219.9L1558.2 1232.1L1558.6 1244.5L1559.0 1224.8L1559.4 1231.9L1559.9 1231.9L1560.3 1223.5L1560.7 1235.8L1561.1 1232.4L1561.5 1238.1L1562.0 1234.1L1562.4 1224.3L1562.8 1234.9L1563.2 1238.9L1563.6 1232.4L1564.1 1238.6L1564.5 1238.6L1564.9 1219.9L1565.3 1239.4L1565.7 1220.9L1566.2 1225.9L1566.6 1233.8L1567.0 1228.1L1567.4 1229.3L1567.8 1243.5L1568.3 1227.6L1568.7 1244.1L1569.1 1249.2L1569.5 1245.8L1569.9 1227.4L1570.4 1224.6L1570.8 1235.3L1571.2 1251.5L1571.6 1233.5L1572.0 1231.1L1572.5 1234.1L1572.9 1240.8L1573.3 1244.3L1573.7 1235.0L1574.1 1234.1L1574.6 1239.0L1575.0 1235.3L1575.4 1232.3L1575.8 1223.3L1576.2 1236.0L1576.7 1231.1L1577.1 1233.6L1577.5 1233.2L1577.9 1229.2L1578.3 1239.5L1578.8 1243.6L1579.2 1239.3L1579.6 1230.8L1580.0 1236.5L1580.4 1240.6L1580.9 1234.5L1581.3 1240.6L1581.7 1225.7L1582.1 1233.6L1582.5 1246.3L1583.0 1242.8L1583.4 1234.1L1583.8 1235.8L1584.2 1251.7L1584.6 1243.3L1585.1 1229.9L1585.5 1236.8L1585.9 1231.2L1586.3 1230.0L1586.7 1225.6L1587.2 1238.0L1587.6 1247.8L1588.0 1236.5L1588.4 1221.6L1588.8 1230.1L1589.3 1217.2L1589.7 1222.2L1590.1 1222.0L1590.5 1218.6L1590.9 1209.0L1591.4 1204.6L1591.8 1199.3L1592.2 1195.1L1592.6 1193.1L1593.0 1190.0L1593.5 1189.6L1593.9 1192.6L1594.3 1196.7L1594.7 1196.6L1595.1 1205.1L1595.6 1210.1L1596.0 1211.3L1596.4 1213.5L1596.8 1221.7L1597.2 1222.7L1597.7 1232.1L1598.1 1225.9L1598.5 1239.3L1598.9 1228.8L1599.3 1245.7L1599.8 1241.2L1600.2 1243.8L1600.6 1233.0L1601.0 1234.4L1601.4 1235.6L1601.9 1245.7L1602.3 1232.2L1602.7 1231.5L1603.1 1235.4L1603.5 1239.8L1604.0 1236.6L1604.4 1236.8L1604.8 1228.6L1605.2 1233.3L1605.6 1230.4L1606.1 1245.9L1606.5 1237.4L1606.9 1243.1L1607.3 1229.1L1607.7 1237.7L1608.2 1240.9L1608.6 1231.0L1609.0 1233.8L1609.4 1234.8L1609.8 1239.4L1610.3 1240.5L1610.7 1228.9L1611.1 1241.0L1611.5 1240.1L1611.9 1240.8L1612.4 1232.8L1612.8 1238.1L1613.2 1248.7L1613.6 1247.7L1614.0 1234.7L1614.5 1251.4L1614.9 1236.1L1615.3 1232.9L1615.7 1247.8L1616.1 1241.6L1616.6 1257.0L1617.0 1237.5L1617.4 1240.2L1617.8 1244.9L1618.2 1241.3L1618.7 1236.6L1619.1 1239.3L1619.5 1239.2L1619.9 1239.3L1620.3 1239.2L1620.8 1229.2L1621.2 1246.5L1621.6 1235.4L1622.0 1238.0L1622.4 1234.4L1622.9 1238.3L1623.3 1247.4L1623.7 1249.7L1624.1 1242.4L1624.5 1241.1L1625.0 1236.5L1625.4 1238.1L1625.8 1241.9L1626.2 1239.1L1626.6 1233.6L1627.1 1240.7L1627.5 1233.3L1627.9 1256.6L1628.3 1242.8L1628.7 1236.6L1629.2 1244.1L1629.6 1235.5L1630.0 1238.9L1630.4 1252.8L1630.8 1250.8L1631.3 1232.9L1631.7 1233.4L1632.1 1237.4L1632.5 1258.6L1632.9 1241.4L1633.4 1243.0L1633.8 1237.7L1634.2 1251.5L1634.6 1248.7L1635.0 1229.7L1635.5 1235.6L1635.9 1229.1L1636.3 1233.6L1636.7 1236.0L1637.1 1232.6L1637.6 1237.3L1638.0 1247.0L1638.4 1250.5L1638.8 1242.6L1639.2 1247.4L1639.7 1232.8L1640.1 1253.4L1640.5 1259.9L1640.9 1241.0L1641.3 1246.5L1641.8 1244.8L1642.2 1227.7L1642.6 1250.1L1643.0 1245.9L1643.4 1231.5L1643.9 1239.5L1644.3 1251.4L1644.7 1246.9L1645.1 1233.3L1645.5 1238.7L1646.0 1238.0L1646.4 1243.8L1646.8 1238.0L1647.2 1243.1L1647.6 1241.6L1648.1 1232.9L1648.5 1246.0L1648.9 1244.9L1649.3 1238.4L1649.7 1248.8L1650.2 1261.0L1650.6 1232.5L1651.0 1244.9L1651.4 1249.8L1651.8 1243.5L1652.3 1239.4L1652.7 1260.6L1653.1 1240.1L1653.5 1242.6L1653.9 1239.1L1654.4 1253.1L1654.8 1229.4L1655.2 1237.7L1655.6 1240.7L1656.0 1246.2L1656.5 1246.5L1656.9 1251.6L1657.3 1243.1L1657.7 1239.1L1658.1 1243.6L1658.6 1238.3L1659.0 1240.6L1659.4 1241.0L1659.8 1246.6L1660.2 1250.8L1660.7 1237.0L1661.1 1240.4L1661.5 1244.3L1661.9 1244.6L1662.3 1242.8L1662.8 1249.1L1663.2 1243.2L1663.6 1233.1L1664.0 1255.0L1664.4 1236.5L1664.9 1257.6L1665.3 1246.9L1665.7 1247.5L1666.1 1235.3L1666.5 1247.2L1667.0 1243.7L1667.4 1239.6L1667.8 1249.5L1668.2 1251.1L1668.6 1254.6L1669.1 1237.3L1669.5 1240.2L1669.9 1256.3L1670.3 1249.6L1670.7 1251.9L1671.2 1242.3L1671.6 1248.6L1672.0 1252.3L1672.4 1238.0L1672.8 1241.7L1673.3 1248.2L1673.7 1257.1L1674.1 1243.6L1674.5 1251.8L1674.9 1241.2L1675.4 1238.9L1675.8 1251.8L1676.2 1240.3L1676.6 1247.4L1677.0 1243.5L1677.5 1251.3L1677.9 1239.1L1678.3 1238.3L1678.7 1238.2L1679.1 1246.3L1679.6 1257.6L1680.0 1254.2L1680.4 1249.4L1680.8 1247.1L1681.2 1257.5L1681.7 1247.5L1682.1 1256.3L1682.5 1258.8L1682.9 1253.7L1683.3 1251.6L1683.8 1251.6L1684.2 1248.2L1684.6 1251.0L1685.0 1243.1L1685.4 1243.5L1685.9 1261.1L1686.3 1248.3L1686.7 1238.2L1687.1 1259.8L1687.5 1259.9L1688.0 1253.0L1688.4 1241.5L1688.8 1264.6L1689.2 1258.1L1689.6 1259.4L1690.1 1248.4L1690.5 1253.3L1690.9 1248.4L1691.3 1248.7L1691.7 1242.7L1692.2 1245.3L1692.6 1247.2L1693.0 1250.9L1693.4 1258.3L1693.8 1255.1L1694.3 1239.1L1694.7 1259.0L1695.1 1241.2L1695.5 1254.9L1695.9 1250.0L1696.4 1251.8L1696.8 1248.3L1697.2 1244.6L1697.6 1264.1L1698.0 1235.7L1698.5 1246.0L1698.9 1262.0L1699.3 1251.9L1699.7 1252.2L1700.1 1246.6L1700.6 1244.8L1701.0 1256.9L1701.4 1251.3L1701.8 1255.1L1702.2 1258.5L1702.7 1241.5L1703.1 1246.0L1703.5 1248.5L1703.9 1254.7L1704.3 1258.4L1704.8 1246.4L1705.2 1251.8L1705.6 1252.6L1706.0 1252.7L1706.4 1265.5L1706.9 1248.7L1707.3 1254.9L1707.7 1238.6L1708.1 1253.1L1708.5 1254.8L1709.0 1259.5L1709.4 1250.8L1709.8 1250.6L1710.2 1246.4L1710.6 1251.2L1711.1 1272.9L1711.5 1243.4L1711.9 1243.5L1712.3 1255.5L1712.7 1248.7L1713.2 1264.6L1713.6 1245.2L1714.0 1267.9L1714.4 1252.4L1714.8 1244.5L1715.3 1240.9L1715.7 1249.7L1716.1 1251.4L1716.5 1258.6L1716.9 1247.4L1717.4 1279.5L1717.8 1262.6L1718.2 1254.9L1718.6 1252.6L1719.0 1277.3L1719.5 1251.4L1719.9 1262.4L1720.3 1268.1L1720.7 1250.6L1721.1 1261.4L1721.6 1253.7L1722.0 1267.9L1722.4 1268.5L1722.8 1261.5L1723.2 1258.6L1723.7 1249.4L1724.1 1276.6L1724.5 1269.4L1724.9 1263.4L1725.3 1269.5L1725.8 1258.1L1726.2 1250.7L1726.6 1265.5L1727.0 1251.9L1727.4 1254.8L1727.9 1264.3L1728.3 1248.1L1728.7 1258.8L1729.1 1256.8L1729.5 1251.1L1730.0 1250.9L1730.4 1257.5L1730.8 1257.1L1731.2 1260.4L1731.6 1249.3L1732.1 1260.0L1732.5 1251.1L1732.9 1254.2L1733.3 1267.1L1733.7 1255.2L1734.2 1256.5L1734.6 1254.5L1735.0 1259.9L1735.4 1266.6L1735.8 1257.8L1736.3 1265.4L1736.7 1251.7L1737.1 1264.0L1737.5 1259.8L1737.9 1261.2L1738.4 1254.6L1738.8 1256.7L1739.2 1263.3L1739.6 1253.1L1740.0 1267.0L1740.5 1258.2L1740.9 1264.7L1741.3 1253.8L1741.7 1250.7L1742.1 1266.5L1742.6 1266.9L1743.0 1261.4L1743.4 1266.9L1743.8 1261.8L1744.2 1267.1L1744.7 1263.2L1745.1 1255.7L1745.5 1270.8L1745.9 1255.9L1746.3 1280.0L1746.8 1261.5L1747.2 1256.4L1747.6 1261.3L1748.0 1263.3L1748.4 1263.9L1748.9 1267.3L1749.3 1259.1L1749.7 1249.6L1750.1 1257.6L1750.5 1266.8L1751.0 1272.2L1751.4 1250.4L1751.8 1264.5L1752.2 1272.5L1752.6 1254.6L1753.1 1277.3L1753.5 1258.9L1753.9 1263.4L1754.3 1260.9L1754.7 1278.2L1755.2 1271.4L1755.6 1265.6L1756.0 1262.2L1756.4 1253.5L1756.8 1262.8L1757.3 1260.8L1757.7 1264.1L1758.1 1252.3L1758.5 1275.0L1758.9 1272.3L1759.4 1277.8L1759.8 1261.5L1760.2 1265.2L1760.6 1257.4L1761.0 1272.6L1761.5 1264.2L1761.9 1278.9L1762.3 1271.6L1762.7 1272.0L1763.1 1270.4L1763.6 1256.4L1764.0 1272.0L1764.4 1255.7L1764.8 1268.8L1765.2 1271.2L1765.7 1259.0L1766.1 1262.6L1766.5 1265.7L1766.9 1269.0L1767.3 1269.3L1767.8 1267.4L1768.2 1261.4L1768.6 1269.5L1769.0 1286.8L1769.4 1263.6L1769.9 1279.9L1770.3 1259.7L1770.7 1263.4L1771.1 1278.1L1771.5 1274.4L1772.0 1280.4L1772.4 1272.6L1772.8 1263.9L1773.2 1268.6L1773.6 1265.1L1774.1 1276.3L1774.5 1273.0L1774.9 1278.0L1775.3 1263.7L1775.7 1266.6L1776.2 1265.4L1776.6 1265.8L1777.0 1267.1L1777.4 1277.9L1777.8 1269.0L1778.3 1276.4L1778.7 1268.8L1779.1 1256.0L1779.5 1258.0L1779.9 1263.9L1780.4 1270.4L1780.8 1262.0L1781.2 1254.1L1781.6 1258.2L1782.0 1254.5L1782.5 1254.0L1782.9 1251.4L1783.3 1247.7L1783.7 1244.8L1784.1 1243.4L1784.6 1243.3L1785.0 1243.9L1785.4 1245.6L1785.8 1247.0L1786.2 1249.2L1786.7 1254.2L1787.1 1258.4L1787.5 1259.7L1787.9 1257.2L1788.3 1262.0L1788.8 1277.8L1789.2 1261.2L1789.6 1266.1L1790.0 1275.5L1790.4 1264.0L1790.9 1268.6L1791.3 1280.7L1791.7 1278.9L1792.1 1260.0L1792.5 1276.7L1793.0 1270.1L1793.4 1263.3L1793.8 1280.9L1794.2 1269.3L1794.6 1272.7L1795.1 1267.5L1795.5 1279.4L1795.9 1280.4L1796.3 1279.7L1796.7 1292.4L1797.2 1278.7L1797.6 1272.0L1798.0 1278.5L1798.4 1277.2L1798.8 1280.4L1799.3 1259.3L1799.7 1281.8L1800.1 1291.0L1800.5 1282.4L1800.9 1271.6L1801.4 1292.7L1801.8 1282.3L1802.2 1292.5L1802.6 1284.4L1803.0 1274.8L1803.5 1266.2L1803.9 1278.2L1804.3 1281.7L1804.7 1274.9L1805.1 1268.9L1805.6 1284.5L1806.0 1272.9L1806.4 1289.2L1806.8 1274.4L1807.2 1281.4L1807.7 1276.2L1808.1 1281.8L1808.5 1283.0L1808.9 1264.7L1809.3 1274.2L1809.8 1275.1L1810.2 1275.0L1810.6 1278.7L1811.0 1288.2L1811.4 1272.5L1811.9 1283.8L1812.3 1276.8L1812.7 1274.9L1813.1 1269.8L1813.5 1274.6L1814.0 1272.6L1814.4 1283.6L1814.8 1292.1L1815.2 1284.5L1815.6 1286.2L1816.1 1275.0L1816.5 1286.1L1816.9 1275.1L1817.3 1274.6L1817.7 1283.0L1818.2 1276.7L1818.6 1286.1L1819.0 1282.5L1819.4 1279.5L1819.8 1277.6L1820.3 1283.2L1820.7 1283.9L1821.1 1282.6L1821.5 1290.8L1821.9 1278.3L1822.4 1273.1L1822.8 1273.6L1823.2 1276.0L1823.6 1276.5L1824.0 1281.8L1824.5 1295.6L1824.9 1276.3L1825.3 1277.5L1825.7 1279.6L1826.1 1276.8L1826.6 1278.4L1827.0 1289.1L1827.4 1293.6L1827.8 1279.1L1828.2 1283.5L1828.7 1291.2L1829.1 1286.8L1829.5 1283.0L1829.9 1287.3L1830.3 1283.9L1830.8 1280.2L1831.2 1288.8L1831.6 1280.7L1832.0 1281.7L1832.4 1287.5L1832.9 1277.7L1833.3 1290.8L1833.7 1280.7L1834.1 1279.1L1834.5 1289.9L1835.0 1290.9L1835.4 1293.3L1835.8 1296.3L1836.2 1279.6L1836.6 1284.5L1837.1 1279.3L1837.5 1281.5L1837.9 1293.2L1838.3 1289.1L1838.7 1288.8L1839.2 1290.1L1839.6 1284.2L1840.0 1296.7L1840.4 1280.7L1840.8 1292.4L1841.3 1283.5L1841.7 1281.6L1842.1 1302.9L1842.5 1285.3L1842.9 1293.1L1843.4 1282.8L1843.8 1283.2L1844.2 1297.3L1844.6 1291.5L1845.0 1289.0L1845.5 1292.1L1845.9 1293.3L1846.3 1295.2L1846.7 1292.6L1847.1 1294.2L1847.6 1291.5L1848.0 1290.3L1848.4 1297.8L1848.8 1275.4L1849.2 1295.8L1849.7 1289.9L1850.1 1291.2L1850.5 1288.2L1850.9 1285.4L1851.3 1294.7L1851.8 1282.5L1852.2 1283.8L1852.6 1283.9L1853.0 1302.8L1853.4 1290.5L1853.9 1290.4L1854.3 1281.6L1854.7 1291.3L1855.1 1297.2L1855.5 1283.8L1856.0 1291.4L1856.4 1292.4L1856.8 1295.5L1857.2 1298.3L1857.6 1305.8L1858.1 1291.0L1858.5 1291.3L1858.9 1287.0L1859.3 1298.4L1859.7 1290.9L1860.2 1294.7L1860.6 1296.5L1861.0 1290.4L1861.4 1290.2L1861.8 1292.6L1862.3 1292.5L1862.7 1292.0L1863.1 1290.6L1863.5 1291.3L1863.9 1300.8L1864.4 1287.9L1864.8 1292.5L1865.2 1292.0L1865.6 1300.0L1866.0 1288.7L1866.5 1290.6L1866.9 1288.9L1867.3 1298.2L1867.7 1297.1L1868.1 1295.6L1868.6 1293.5L1869.0 1309.3L1869.4 1294.8L1869.8 1280.4L1870.2 1283.4L1870.7 1283.8L1871.1 1289.9L1871.5 1283.1L1871.9 1292.8L1872.3 1283.7L1872.8 1292.5L1873.2 1288.9L1873.6 1296.7" fill="none" stroke="#ff0000" stroke-width="6.5" stroke-linejoin="round" stroke-linecap="round"/>
<path d="M76.0 745.8L76.4 747.5L76.8 744.1L77.3 735.5L77.7 745.6L78.1 742.4L78.5 736.7L78.9 741.5L79.4 739.5L79.8 738.4L80.2 736.1L80.6 738.2L81.0 731.0L81.5 732.8L81.9 730.6L82.3 735.3L82.7 731.4L83.1 729.1L83.6 726.0L84.0 727.7L84.4 728.1L84.8 726.0L85.2 733.6L85.7 731.2L86.1 712.2L86.5 715.3L86.9 722.5L87.3 720.5L87.8 722.9L88.2 721.8L88.6 731.2L89.0 713.2L89.4 715.5L89.9 727.6L90.3 718.7L90.7 717.7L91.1 710.5L91.5 704.0L92.0 711.6L92.4 710.2L92.8 702.7L93.2 704.2L93.6 706.0L94.1 700.7L94.5 703.7L94.9 703.6L95.3 702.1L95.7 698.4L96.2 703.1L96.6 703.7L97.0 699.4L97.4 692.8L97.8 700.0L98.3 692.6L98.7 699.1L99.1 688.1L99.5 697.6L99.9 691.5L100.4 684.7L100.8 688.3L101.2 689.3L101.6 689.7L102.0 682.5L102.5 681.0L102.9 686.7L103.3 682.4L103.7 685.2L104.1 687.3L104.6 674.1L105.0 682.7L105.4 687.4L105.8 678.1L106.2 674.7L106.7 681.9L107.1 678.0L107.5 680.6L107.9 672.7L108.3 666.1L108.8 671.8L109.2 669.1L109.6 674.7L110.0 670.2L110.4 660.1L110.9 661.1L111.3 671.1L111.7 668.9L112.1 660.7L112.5 662.8L113.0 664.3L113.4 663.4L113.8 664.7L114.2 660.1L114.6 657.0L115.1 655.2L115.5 661.5L115.9 642.9L116.3 652.2L116.7 651.8L117.2 643.2L117.6 651.0L118.0 644.6L118.4 651.6L118.8 644.7L119.3 648.0L119.7 650.0L120.1 643.8L120.5 635.9L120.9 631.4L121.4 648.1L121.8 635.9L122.2 631.8L122.6 634.8L123.0 631.4L123.5 635.6L123.9 628.9L124.3 626.9L124.7 621.4L125.1 625.9L125.6 616.1L126.0 623.4L126.4 626.7L126.8 608.0L127.2 601.4L127.7 615.7L128.1 625.4L128.5 603.4L128.9 600.6L129.3 609.0L129.8 599.6L130.2 599.8L130.6 599.1L131.0 602.5L131.4 595.7L131.9 598.0L132.3 593.8L132.7 588.9L133.1 590.0L133.5 585.3L134.0 588.5L134.4 580.4L134.8 578.3L135.2 590.4L135.6 579.0L136.1 576.7L136.5 577.7L136.9 570.1L137.3 568.8L137.7 569.9L138.2 565.8L138.6 554.8L139.0 562.7L139.4 551.3L139.8 545.6L140.3 543.1L140.7 542.5L141.1 551.3L141.5 532.2L141.9 536.7L142.4 522.0L142.8 530.5L143.2 533.4L143.6 524.0L144.0 519.3L144.5 521.3L144.9 521.5L145.3 518.1L145.7 524.0L146.1 507.8L146.6 498.4L147.0 497.7L147.4 494.1L147.8 491.8L148.2 486.4L148.7 484.3L149.1 462.2L149.5 483.2L149.9 462.7L150.3 451.1L150.8 465.7L151.2 469.0L151.6 454.4L152.0 445.3L152.4 427.7L152.9 466.5L153.3 434.6L153.7 403.8L154.1 398.8L154.5 398.8L155.0 371.8L155.4 381.1L155.8 365.2L156.2 376.7L156.6 365.9L157.1 319.3L157.5 343.3L157.9 322.5L158.3 348.8L158.7 334.9L159.2 331.7L159.6 310.4L160.0 304.6L160.4 275.9L160.8 229.3L161.3 190.5L161.7 151.9L162.1 132.1L162.5 139.6L162.9 177.4L163.4 226.7L163.8 283.0L164.2 335.6L164.6 371.4L165.0 402.4L165.5 423.1L165.9 440.6L166.3 446.1L166.7 458.0L167.1 465.7L167.6 470.8L168.0 478.0L168.4 480.9L168.8 490.2L169.2 483.2L169.7 483.4L170.1 479.7L170.5 479.3L170.9 474.3L171.3 483.1L171.8 472.4L172.2 473.4L172.6 478.7L173.0 477.9L173.4 471.8L173.9 461.4L174.3 474.3L174.7 471.8L175.1 460.4L175.5 472.0L176.0 460.6L176.4 456.4L176.8 460.5L177.2 454.3L177.6 449.2L178.1 432.2L178.5 431.2L178.9 410.1L179.3 396.4L179.7 389.1L180.2 387.5L180.6 395.0L181.0 406.5L181.4 420.9L181.8 435.0L182.3 440.9L182.7 456.1L183.1 453.9L183.5 453.8L183.9 460.8L184.4 463.7L184.8 458.2L185.2 453.0L185.6 462.0L186.0 443.6L186.5 444.9L186.9 445.8L187.3 433.4L187.7 431.7L188.1 422.5L188.6 415.1L189.0 407.5L189.4 407.2L189.8 413.5L190.2 422.3L190.7 453.3L191.1 457.0L191.5 470.7L191.9 493.2L192.3 497.3L192.8 493.0L193.2 512.9L193.6 516.2L194.0 505.8L194.4 507.7L194.9 514.8L195.3 503.6L195.7 515.1L196.1 513.2L196.5 506.4L197.0 501.0L197.4 510.5L197.8 505.6L198.2 522.0L198.6 514.0L199.1 520.0L199.5 514.0L199.9 515.2L200.3 506.6L200.7 519.1L201.2 529.5L201.6 510.4L202.0 508.1L202.4 511.6L202.8 509.0L203.3 507.2L203.7 514.1L204.1 510.5L204.5 526.4L204.9 512.8L205.4 515.9L205.8 521.8L206.2 510.4L206.6 526.3L207.0 507.7L207.5 506.3L207.9 509.8L208.3 511.8L208.7 501.4L209.1 512.4L209.6 499.3L210.0 525.9L210.4 512.0L210.8 507.4L211.2 505.3L211.7 509.5L212.1 510.8L212.5 504.1L212.9 505.1L213.3 511.0L213.8 508.3L214.2 521.4L214.6 523.3L215.0 512.6L215.4 516.9L215.9 501.5L216.3 518.4L216.7 512.1L217.1 516.9L217.5 527.6L218.0 493.7L218.4 514.7L218.8 503.2L219.2 517.9L219.6 501.4L220.1 508.1L220.5 514.0L220.9 518.0L221.3 512.8L221.7 505.5L222.2 507.5L222.6 520.5L223.0 511.9L223.4 498.1L223.8 520.1L224.3 515.9L224.7 520.3L225.1 509.0L225.5 519.8L225.9 503.0L226.4 517.3L226.8 507.7L227.2 518.2L227.6 521.5L228.0 505.5L228.5 511.2L228.9 511.9L229.3 523.2L229.7 518.5L230.1 501.4L230.6 515.9L231.0 518.7L231.4 532.2L231.8 497.4L232.2 506.9L232.7 524.4L233.1 500.0L233.5 501.3L233.9 516.3L234.3 521.2L234.8 505.6L235.2 516.5L235.6 512.3L236.0 526.1L236.4 511.1L236.9 520.8L237.3 503.4L237.7 509.4L238.1 510.1L238.5 522.2L239.0 516.7L239.4 504.5L239.8 517.6L240.2 516.3L240.6 503.5L241.1 498.6L241.5 498.8L241.9 485.8L242.3 501.7L242.7 501.8L243.2 491.8L243.6 506.2L244.0 486.9L244.4 493.5L244.8 493.8L245.3 517.4L245.7 483.6L246.1 502.5L246.5 506.0L246.9 500.0L247.4 507.7L247.8 487.0L248.2 475.8L248.6 502.6L249.0 484.4L249.5 491.5L249.9 483.8L250.3 504.2L250.7 502.0L251.1 486.8L251.6 501.7L252.0 493.5L252.4 490.8L252.8 492.2L253.2 489.6L253.7 497.2L254.1 493.8L254.5 487.3L254.9 500.2L255.3 484.4L255.8 492.2L256.2 493.3L256.6 503.7L257.0 484.0L257.4 505.8L257.9 489.5L258.3 485.7L258.7 481.2L259.1 492.7L259.5 486.9L260.0 476.5L260.4 475.9L260.8 480.6L261.2 479.2L261.6 495.9L262.1 498.5L262.5 493.0L262.9 487.4L263.3 479.7L263.7 483.7L264.2 491.8L264.6 504.3L265.0 491.4L265.4 479.1L265.8 481.6L266.3 476.6L266.7 473.6L267.1 478.4L267.5 481.7L267.9 498.3L268.4 479.4L268.8 492.6L269.2 496.5L269.6 478.6L270.0 494.1L270.5 484.4L270.9 472.9L271.3 479.0L271.7 476.1L272.1 473.4L272.6 473.3L273.0 476.2L273.4 478.8L273.8 466.1L274.2 473.5L274.7 459.7L275.1 475.5L275.5 478.9L275.9 473.7L276.3 474.6L276.8 477.4L277.2 464.9L277.6 468.3L278.0 475.4L278.4 480.2L278.9 473.5L279.3 495.8L279.7 467.7L280.1 478.7L280.5 481.1L281.0 466.2L281.4 459.7L281.8 456.1L282.2 468.0L282.6 477.6L283.1 468.3L283.5 466.9L283.9 461.3L284.3 470.3L284.7 444.8L285.2 466.0L285.6 463.5L286.0 450.5L286.4 485.5L286.8 449.5L287.3 451.8L287.7 450.0L288.1 472.0L288.5 451.6L288.9 466.1L289.4 464.6L289.8 460.5L290.2 445.2L290.6 450.9L291.0 473.7L291.5 443.5L291.9 447.0L292.3 452.4L292.7 461.9L293.1 455.3L293.6 460.0L294.0 441.7L294.4 460.9L294.8 456.2L295.2 434.9L295.7 465.4L296.1 472.9L296.5 440.5L296.9 447.5L297.3 461.4L297.8 432.1L298.2 426.8L298.6 432.5L299.0 438.6L299.4 437.8L299.9 449.0L300.3 444.7L300.7 429.8L301.1 446.7L301.5 460.2L302.0 452.2L302.4 449.4L302.8 438.2L303.2 448.1L303.6 428.1L304.1 444.6L304.5 435.2L304.9 447.8L305.3 440.1L305.7 424.6L306.2 435.5L306.6 446.8L307.0 422.8L307.4 427.6L307.8 425.2L308.3 418.0L308.7 441.6L309.1 444.9L309.5 438.8L309.9 432.3L310.4 428.7L310.8 431.2L311.2 421.4L311.6 437.2L312.0 438.2L312.5 436.4L312.9 420.8L313.3 425.9L313.7 422.8L314.1 442.7L314.6 424.4L315.0 404.3L315.4 423.8L315.8 436.0L316.2 419.3L316.7 413.6L317.1 396.9L317.5 375.5L317.9 364.4L318.3 353.6L318.8 345.7L319.2 344.9L319.6 353.5L320.0 364.6L320.4 384.1L320.9 390.2L321.3 396.3L321.7 415.3L322.1 403.4L322.5 389.2L323.0 404.7L323.4 415.7L323.8 387.5L324.2 411.6L324.6 411.7L325.1 401.6L325.5 400.9L325.9 410.0L326.3 409.0L326.7 427.3L327.2 417.5L327.6 398.8L328.0 405.1L328.4 420.2L328.8 432.6L329.3 416.1L329.7 415.0L330.1 431.3L330.5 411.1L330.9 408.5L331.4 398.3L331.8 406.5L332.2 434.5L332.6 398.1L333.0 411.1L333.5 398.1L333.9 412.2L334.3 420.3L334.7 408.5L335.1 418.5L335.6 418.3L336.0 415.3L336.4 428.8L336.8 418.7L337.2 407.5L337.7 404.0L338.1 402.4L338.5 415.1L338.9 406.9L339.3 439.0L339.8 429.4L340.2 407.6L340.6 406.5L341.0 427.5L341.4 392.3L341.9 405.3L342.3 419.6L342.7 401.1L343.1 405.0L343.5 406.0L344.0 416.2L344.4 410.5L344.8 413.1L345.2 414.8L345.6 408.2L346.1 417.9L346.5 399.2L346.9 392.0L347.3 387.4L347.7 384.8L348.2 383.4L348.6 380.0L349.0 374.6L349.4 374.3L349.8 377.4L350.3 383.9L350.7 390.5L351.1 394.8L351.5 392.6L351.9 401.9L352.4 417.6L352.8 389.6L353.2 407.1L353.6 390.6L354.0 411.9L354.5 403.4L354.9 391.4L355.3 411.5L355.7 430.0L356.1 411.8L356.6 423.2L357.0 410.2L357.4 391.3L357.8 416.2L358.2 407.2L358.7 397.8L359.1 419.4L359.5 414.1L359.9 406.3L360.3 420.4L360.8 403.3L361.2 418.2L361.6 402.9L362.0 417.0L362.4 401.4L362.9 426.2L363.3 412.5L363.7 421.8L364.1 399.7L364.5 398.4L365.0 399.8L365.4 380.6L365.8 380.1L366.2 377.7L366.6 376.6L367.1 381.6L367.5 386.4L367.9 397.2L368.3 397.4L368.7 397.3L369.2 397.2L369.6 408.1L370.0 409.4L370.4 409.5L370.8 388.9L371.3 398.3L371.7 411.9L372.1 420.1L372.5 412.1L372.9 409.8L373.4 397.1L373.8 439.7L374.2 408.6L374.6 436.7L375.0 435.6L375.5 422.2L375.9 414.4L376.3 421.2L376.7 409.6L377.1 423.0L377.6 420.5L378.0 426.3L378.4 431.0L378.8 439.6L379.2 417.9L379.7 432.7L380.1 414.7L380.5 413.9L380.9 416.6L381.3 413.5L381.8 433.0L382.2 432.6L382.6 436.5L383.0 422.9L383.4 426.2L383.9 418.3L384.3 413.4L384.7 428.6L385.1 426.9L385.5 414.3L386.0 430.7L386.4 409.0L386.8 423.2L387.2 419.3L387.6 420.4L388.1 415.6L388.5 435.7L388.9 431.8L389.3 438.5L389.7 427.5L390.2 414.7L390.6 423.1L391.0 416.0L391.4 431.6L391.8 439.8L392.3 430.6L392.7 421.9L393.1 424.2L393.5 429.8L393.9 414.9L394.4 429.6L394.8 430.3L395.2 423.5L395.6 424.8L396.0 430.5L396.5 421.6L396.9 421.7L397.3 437.5L397.7 431.8L398.1 447.4L398.6 421.0L399.0 414.0L399.4 440.1L399.8 440.4L400.2 423.9L400.7 417.5L401.1 430.5L401.5 415.4L401.9 428.2L402.3 411.8L402.8 429.4L403.2 412.7L403.6 429.6L404.0 447.7L404.4 429.3L404.9 439.8L405.3 426.0L405.7 423.8L406.1 418.4L406.5 442.7L407.0 431.3L407.4 448.9L407.8 421.3L408.2 429.9L408.6 432.7L409.1 446.7L409.5 451.1L409.9 426.1L410.3 421.8L410.7 416.5L411.2 446.0L411.6 431.2L412.0 426.2L412.4 431.6L412.8 409.2L413.3 416.7L413.7 441.9L414.1 436.2L414.5 433.7L414.9 423.2L415.4 438.3L415.8 450.9L416.2 421.3L416.6 432.4L417.0 428.4L417.5 436.1L417.9 432.5L418.3 431.1L418.7 424.5L419.1 432.3L419.6 427.0L420.0 431.2L420.4 432.0L420.8 439.5L421.2 427.6L421.7 430.0L422.1 444.1L422.5 431.1L422.9 430.8L423.3 442.2L423.8 436.1L424.2 434.3L424.6 435.7L425.0 422.5L425.4 438.4L425.9 447.6L426.3 439.9L426.7 420.1L427.1 437.0L427.5 426.1L428.0 432.2L428.4 435.6L428.8 423.8L429.2 448.5L429.6 434.0L430.1 443.0L430.5 441.4L430.9 449.0L431.3 447.5L431.7 422.0L432.2 435.6L432.6 416.3L433.0 431.5L433.4 443.0L433.8 445.2L434.3 449.2L434.7 432.4L435.1 439.2L435.5 436.9L435.9 449.2L436.4 452.7L436.8 433.0L437.2 468.0L437.6 436.3L438.0 433.1L438.5 442.7L438.9 444.4L439.3 442.3L439.7 430.9L440.1 452.2L440.6 437.4L441.0 453.0L441.4 451.6L441.8 425.8L442.2 428.5L442.7 428.4L443.1 439.9L443.5 437.9L443.9 440.3L444.3 430.4L444.8 442.1L445.2 452.4L445.6 426.0L446.0 436.1L446.4 440.5L446.9 436.9L447.3 436.4L447.7 456.7L448.1 451.7L448.5 447.2L449.0 431.7L449.4 461.9L449.8 442.3L450.2 433.5L450.6 435.7L451.1 434.4L451.5 461.0L451.9 441.1L452.3 439.6L452.7 420.0L453.2 446.8L453.6 429.9L454.0 429.3L454.4 445.7L454.8 431.8L455.3 448.2L455.7 451.3L456.1 423.8L456.5 438.5L456.9 425.9L457.4 439.3L457.8 449.4L458.2 428.0L458.6 458.9L459.0 437.4L459.5 429.8L459.9 439.2L460.3 448.6L460.7 428.3L461.1 440.5L461.6 428.4L462.0 453.2L462.4 442.3L462.8 437.0L463.2 451.6L463.7 429.5L464.1 437.5L464.5 460.3L464.9 440.0L465.3 455.3L465.8 443.3L466.2 435.1L466.6 438.9L467.0 441.7L467.4 437.1L467.9 433.3L468.3 433.5L468.7 427.1L469.1 441.1L469.5 443.9L470.0 447.4L470.4 423.5L470.8 447.7L471.2 439.0L471.6 426.4L472.1 439.8L472.5 447.0L472.9 443.8L473.3 445.8L473.7 447.9L474.2 447.2L474.6 437.4L475.0 419.2L475.4 430.7L475.8 440.9L476.3 432.9L476.7 444.0L477.1 445.0L477.5 437.0L477.9 455.9L478.4 427.6L478.8 445.7L479.2 431.7L479.6 428.8L480.0 441.6L480.5 429.9L480.9 444.0L481.3 424.7L481.7 435.2L482.1 427.2L482.6 432.4L483.0 431.0L483.4 424.2L483.8 440.7L484.2 422.8L484.7 425.0L485.1 442.7L485.5 443.3L485.9 440.0L486.3 436.4L486.8 456.3L487.2 421.9L487.6 425.9L488.0 423.5L488.4 441.3L488.9 434.9L489.3 443.5L489.7 442.3L490.1 430.6L490.5 425.7L491.0 424.4L491.4 456.3L491.8 443.7L492.2 440.1L492.6 431.3L493.1 432.8L493.5 431.8L493.9 432.2L494.3 414.2L494.7 435.1L495.2 432.5L495.6 439.1L496.0 438.6L496.4 445.5L496.8 436.9L497.3 445.5L497.7 415.1L498.1 428.1L498.5 455.9L498.9 427.7L499.4 436.2L499.8 446.2L500.2 431.4L500.6 446.9L501.0 427.2L501.5 423.2L501.9 428.6L502.3 426.1L502.7 440.7L503.1 438.3L503.6 444.7L504.0 432.6L504.4 468.1L504.8 441.3L505.2 442.1L505.7 447.4L506.1 440.9L506.5 437.8L506.9 444.4L507.3 453.3L507.8 450.9L508.2 454.1L508.6 439.7L509.0 438.2L509.4 465.8L509.9 443.4L510.3 450.7L510.7 453.6L511.1 460.9L511.5 434.8L512.0 442.7L512.4 443.2L512.8 444.5L513.2 426.2L513.6 446.6L514.1 422.3L514.5 450.8L514.9 453.4L515.3 454.2L515.7 437.7L516.2 458.2L516.6 441.0L517.0 438.0L517.4 440.3L517.8 441.6L518.3 450.9L518.7 457.8L519.1 431.1L519.5 444.9L519.9 459.0L520.4 452.0L520.8 455.3L521.2 437.1L521.6 460.2L522.0 436.9L522.5 452.7L522.9 464.8L523.3 470.3L523.7 456.4L524.1 460.3L524.6 446.2L525.0 447.4L525.4 463.8L525.8 451.9L526.2 450.9L526.7 439.9L527.1 453.9L527.5 459.1L527.9 445.7L528.3 448.4L528.8 469.2L529.2 454.9L529.6 450.7L530.0 443.5L530.4 448.1L530.9 451.5L531.3 467.9L531.7 448.7L532.1 472.5L532.5 446.2L533.0 451.3L533.4 463.2L533.8 452.6L534.2 447.7L534.6 453.9L535.1 459.8L535.5 440.4L535.9 453.3L536.3 454.7L536.7 452.3L537.2 463.4L537.6 451.1L538.0 453.1L538.4 456.8L538.8 464.0L539.3 454.7L539.7 472.3L540.1 449.1L540.5 470.3L540.9 449.8L541.4 456.0L541.8 461.3L542.2 478.7L542.6 467.0L543.0 454.5L543.5 471.4L543.9 456.4L544.3 451.5L544.7 463.1L545.1 459.6L545.6 468.5L546.0 454.1L546.4 462.9L546.8 465.6L547.2 462.1L547.7 459.1L548.1 453.4L548.5 468.8L548.9 461.1L549.3 464.9L549.8 456.9L550.2 460.2L550.6 451.2L551.0 461.2L551.4 468.3L551.9 461.5L552.3 469.5L552.7 464.0L553.1 474.8L553.5 459.4L554.0 447.0L554.4 465.7L554.8 460.0L555.2 453.1L555.6 468.3L556.1 464.5L556.5 466.4L556.9 459.2L557.3 464.2L557.7 464.9L558.2 480.5L558.6 456.6L559.0 462.5L559.4 466.5L559.8 448.0L560.3 449.2L560.7 485.2L561.1 448.0L561.5 469.2L561.9 456.2L562.4 457.0L562.8 446.6L563.2 456.1L563.6 472.0L564.0 452.1L564.5 470.3L564.9 467.5L565.3 485.0L565.7 460.5L566.1 477.6L566.6 473.9L567.0 462.5L567.4 450.7L567.8 480.5L568.2 453.6L568.7 461.4L569.1 474.5L569.5 477.0L569.9 458.5L570.3 465.7L570.8 463.8L571.2 478.2L571.6 491.7L572.0 450.7L572.4 475.8L572.9 442.0L573.3 466.9L573.7 457.4L574.1 487.3L574.5 469.1L575.0 461.3L575.4 463.6L575.8 463.3L576.2 470.4L576.6 467.4L577.1 475.7L577.5 485.0L577.9 476.8L578.3 459.4L578.7 456.3L579.2 464.0L579.6 481.5L580.0 468.2L580.4 465.7L580.8 473.1L581.3 459.8L581.7 462.5L582.1 477.7L582.5 470.2L582.9 469.2L583.4 476.6L583.8 468.7L584.2 468.1L584.6 470.3L585.0 480.7L585.5 475.5L585.9 464.9L586.3 472.8L586.7 482.3L587.1 494.9L587.6 466.5L588.0 480.0L588.4 474.7L588.8 485.5L589.2 482.0L589.7 492.6L590.1 483.3L590.5 473.6L590.9 474.0L591.3 483.0L591.8 483.2L592.2 503.7L592.6 496.7L593.0 470.0L593.4 483.9L593.9 469.2L594.3 466.7L594.7 488.7L595.1 487.1L595.5 472.9L596.0 498.7L596.4 474.0L596.8 472.6L597.2 489.5L597.6 485.5L598.1 482.1L598.5 483.2L598.9 486.4L599.3 483.2L599.7 483.2L600.2 468.7L600.6 473.8L601.0 491.7L601.4 479.8L601.8 491.6L602.3 498.9L602.7 483.7L603.1 489.8L603.5 508.2L603.9 494.6L604.4 506.2L604.8 503.2L605.2 495.4L605.6 486.9L606.0 480.7L606.5 478.5L606.9 493.0L607.3 492.9L607.7 486.7L608.1 496.8L608.6 483.2L609.0 499.6L609.4 488.9L609.8 488.3L610.2 488.6L610.7 487.9L611.1 513.8L611.5 475.1L611.9 490.7L612.3 501.5L612.8 496.3L613.2 486.6L613.6 506.7L614.0 480.2L614.4 478.2L614.9 495.1L615.3 477.1L615.7 469.3L616.1 498.5L616.5 497.3L617.0 497.1L617.4 485.7L617.8 491.7L618.2 481.8L618.6 507.5L619.1 498.1L619.5 497.6L619.9 473.7L620.3 498.4L620.7 505.4L621.2 502.7L621.6 498.4L622.0 490.6L622.4 487.8L622.8 496.8L623.3 494.6L623.7 493.2L624.1 488.4L624.5 507.7L624.9 481.3L625.4 491.0L625.8 486.4L626.2 501.5L626.6 505.5L627.0 503.7L627.5 499.0L627.9 479.9L628.3 512.2L628.7 496.8L629.1 490.9L629.6 492.1L630.0 489.1L630.4 496.2L630.8 495.1L631.2 489.2L631.7 471.0L632.1 492.0L632.5 497.0L632.9 497.6L633.3 491.3L633.8 497.0L634.2 502.6L634.6 488.9L635.0 507.0L635.4 476.8L635.9 482.5L636.3 485.5L636.7 472.9L637.1 484.8L637.5 505.0L638.0 505.0L638.4 494.0L638.8 509.6L639.2 495.4L639.6 489.1L640.1 495.5L640.5 492.1L640.9 500.3L641.3 481.2L641.7 502.8L642.2 489.7L642.6 501.5L643.0 481.0L643.4 490.1L643.8 494.2L644.3 502.1L644.7 483.8L645.1 509.3L645.5 498.2L645.9 489.5L646.4 505.2L646.8 494.7L647.2 504.6L647.6 515.6L648.0 501.0L648.5 489.7L648.9 490.5L649.3 499.4L649.7 496.7L650.1 487.4L650.6 488.8L651.0 500.3L651.4 515.9L651.8 473.5L652.2 500.9L652.7 492.6L653.1 501.5L653.5 502.3L653.9 494.8L654.3 486.4L654.8 483.5L655.2 479.8L655.6 505.7L656.0 492.9L656.4 490.3L656.9 492.4L657.3 484.2L657.7 497.4L658.1 506.7L658.5 505.1L659.0 482.6L659.4 507.2L659.8 488.9L660.2 480.1L660.6 485.4L661.1 487.5L661.5 494.9L661.9 487.1L662.3 483.4L662.7 493.0L663.2 512.4L663.6 489.7L664.0 499.3L664.4 495.9L664.8 519.0L665.3 480.8L665.7 505.1L666.1 485.6L666.5 491.0L666.9 494.8L667.4 522.4L667.8 490.1L668.2 481.7L668.6 507.6L669.0 489.9L669.5 494.5L669.9 496.3L670.3 497.4L670.7 495.4L671.1 499.2L671.6 500.3L672.0 504.5L672.4 494.0L672.8 491.7L673.2 489.5L673.7 502.7L674.1 497.3L674.5 502.6L674.9 502.6L675.3 512.7L675.8 500.0L676.2 504.8L676.6 489.5L677.0 490.6L677.4 496.4L677.9 489.8L678.3 504.8L678.7 489.3L679.1 499.7L679.5 481.3L680.0 491.3L680.4 497.0L680.8 497.7L681.2 486.7L681.6 500.8L682.1 508.3L682.5 505.6L682.9 495.5L683.3 496.1L683.7 491.9L684.2 506.0L684.6 513.0L685.0 497.1L685.4 488.8L685.8 502.8L686.3 507.2L686.7 481.9L687.1 502.6L687.5 519.8L687.9 508.6L688.4 506.5L688.8 505.3L689.2 511.0L689.6 495.5L690.0 496.3L690.5 505.8L690.9 497.7L691.3 504.8L691.7 489.3L692.1 509.2L692.6 510.1L693.0 503.5L693.4 504.7L693.8 516.8L694.2 496.0L694.7 497.3L695.1 496.2L695.5 501.0L695.9 497.0L696.3 504.5L696.8 499.8L697.2 494.4L697.6 493.8L698.0 514.5L698.4 504.3L698.9 503.3L699.3 505.2L699.7 504.6L700.1 511.4L700.5 510.0L701.0 501.5L701.4 500.0L701.8 498.3L702.2 497.3L702.6 517.4L703.1 499.8L703.5 492.4L703.9 500.6L704.3 501.1L704.7 509.3L705.2 500.7L705.6 511.2L706.0 510.1L706.4 517.4L706.8 524.9L707.3 530.6L707.7 518.6L708.1 499.9L708.5 505.3L708.9 510.3L709.4 525.2L709.8 514.1L710.2 518.5L710.6 507.8L711.0 513.9L711.5 515.1L711.9 506.4L712.3 516.0L712.7 518.5L713.1 509.0L713.6 518.5L714.0 523.7L714.4 511.1L714.8 510.8L715.2 508.8L715.7 506.9L716.1 512.6L716.5 508.7L716.9 509.5L717.3 506.6L717.8 501.5L718.2 505.8L718.6 515.0L719.0 504.5L719.4 508.3L719.9 526.2L720.3 522.2L720.7 508.5L721.1 518.3L721.5 509.2L722.0 526.9L722.4 510.0L722.8 514.8L723.2 525.5L723.6 508.9L724.1 525.2L724.5 509.3L724.9 517.0L725.3 513.2L725.7 514.8L726.2 516.9L726.6 515.3L727.0 509.0L727.4 523.1L727.8 522.1L728.3 526.9L728.7 527.8L729.1 507.7L729.5 527.4L729.9 527.7L730.4 513.8L730.8 525.9L731.2 529.6L731.6 514.3L732.0 508.7L732.5 515.8L732.9 540.8L733.3 520.4L733.7 510.4L734.1 517.1L734.6 512.3L735.0 516.5L735.4 520.1L735.8 502.1L736.2 522.5L736.7 531.1L737.1 518.6L737.5 517.5L737.9 529.0L738.3 511.8L738.8 512.1L739.2 511.3L739.6 519.8L740.0 524.2L740.4 520.6L740.9 525.8L741.3 528.2L741.7 525.6L742.1 516.3L742.5 520.2L743.0 532.1L743.4 515.2L743.8 520.7L744.2 519.8L744.6 521.5L745.1 515.6L745.5 513.9L745.9 543.6L746.3 530.9L746.7 518.7L747.2 523.3L747.6 529.2L748.0 521.7L748.4 529.1L748.8 520.1L749.3 522.0L749.7 524.0L750.1 521.7L750.5 508.3L750.9 525.3L751.4 527.3L751.8 529.2L752.2 518.8L752.6 528.5L753.0 527.6L753.5 514.1L753.9 511.3L754.3 530.1L754.7 520.0L755.1 534.6L755.6 543.8L756.0 523.0L756.4 522.4L756.8 527.2L757.2 532.8L757.7 519.9L758.1 537.6L758.5 535.8L758.9 533.3L759.3 524.6L759.8 535.6L760.2 535.3L760.6 520.6L761.0 545.4L761.4 526.9L761.9 532.0L762.3 525.6L762.7 532.3L763.1 538.6L763.5 524.0L764.0 518.3L764.4 526.6L764.8 520.9L765.2 524.7L765.6 529.0L766.1 529.5L766.5 540.3L766.9 523.3L767.3 533.0L767.7 526.9L768.2 541.2L768.6 550.5L769.0 533.0L769.4 543.9L769.8 527.2L770.3 520.0L770.7 522.3L771.1 520.4L771.5 524.6L771.9 529.5L772.4 540.4L772.8 536.9L773.2 535.1L773.6 528.7L774.0 526.7L774.5 531.9L774.9 532.9L775.3 533.9L775.7 534.9L776.1 531.2L776.6 519.2L777.0 524.7L777.4 526.7L777.8 545.8L778.2 529.6L778.7 537.9L779.1 544.2L779.5 535.4L779.9 530.2L780.3 530.9L780.8 526.1L781.2 535.5L781.6 542.1L782.0 537.7L782.4 539.4L782.9 539.1L783.3 549.3L783.7 529.3L784.1 534.9L784.5 539.3L785.0 543.7L785.4 517.7L785.8 530.5L786.2 532.7L786.6 527.3L787.1 541.0L787.5 536.1L787.9 531.8L788.3 523.6L788.7 525.8L789.2 528.1L789.6 538.4L790.0 526.7L790.4 521.1L790.8 525.4L791.3 531.2L791.7 548.4L792.1 555.0L792.5 532.0L792.9 542.6L793.4 546.2L793.8 545.2L794.2 534.2L794.6 526.3L795.0 531.7L795.5 522.5L795.9 536.7L796.3 540.9L796.7 522.1L797.1 534.3L797.6 536.9L798.0 544.4L798.4 545.3L798.8 540.8L799.2 529.8L799.7 531.9L800.1 543.8L800.5 530.2L800.9 533.9L801.3 546.4L801.8 535.1L802.2 524.9L802.6 532.0L803.0 539.0L803.4 532.6L803.9 543.0L804.3 543.8L804.7 529.4L805.1 530.3L805.5 532.9L806.0 525.6L806.4 536.5L806.8 532.3L807.2 539.6L807.6 529.4L808.1 527.5L808.5 547.7L808.9 527.4L809.3 529.3L809.7 528.3L810.2 531.0L810.6 526.9L811.0 532.7L811.4 528.2L811.8 530.1L812.3 535.7L812.7 538.2L813.1 536.4L813.5 527.8L813.9 535.7L814.4 531.8L814.8 531.8L815.2 521.0L815.6 537.6L816.0 531.4L816.5 545.6L816.9 537.2L817.3 524.8L817.7 523.1L818.1 541.1L818.6 526.2L819.0 537.3L819.4 529.9L819.8 548.3L820.2 532.5L820.7 543.6L821.1 542.1L821.5 528.6L821.9 529.5L822.3 543.2L822.8 531.6L823.2 525.8L823.6 540.8L824.0 551.4L824.4 531.0L824.9 542.1L825.3 530.0L825.7 541.6L826.1 529.4L826.5 541.3L827.0 535.0L827.4 529.5L827.8 532.5L828.2 526.9L828.6 523.0L829.1 523.4L829.5 529.9L829.9 523.2L830.3 533.6L830.7 534.2L831.2 533.7L831.6 526.6L832.0 530.3L832.4 529.5L832.8 539.9L833.3 524.2L833.7 526.8L834.1 527.7L834.5 528.2L834.9 524.2L835.4 524.9L835.8 536.9L836.2 524.6L836.6 535.9L837.0 544.5L837.5 538.5L837.9 516.5L838.3 534.4L838.7 532.0L839.1 532.4L839.6 517.3L840.0 533.9L840.4 520.6L840.8 537.8L841.2 536.0L841.7 547.3L842.1 524.8L842.5 517.3L842.9 535.4L843.3 533.9L843.8 524.4L844.2 537.5L844.6 532.2L845.0 518.2L845.4 524.2L845.9 523.5L846.3 525.8L846.7 528.2L847.1 522.3L847.5 525.7L848.0 531.8L848.4 526.8L848.8 525.7L849.2 525.6L849.6 527.1L850.1 515.3L850.5 529.4L850.9 521.5L851.3 529.3L851.7 518.9L852.2 535.9L852.6 530.7L853.0 520.1L853.4 531.0L853.8 524.3L854.3 543.4L854.7 533.5L855.1 524.5L855.5 531.7L855.9 529.9L856.4 539.5L856.8 533.2L857.2 534.6L857.6 523.4L858.0 537.1L858.5 547.2L858.9 536.2L859.3 531.1L859.7 532.8L860.1 525.4L860.6 533.3L861.0 524.8L861.4 532.5L861.8 529.8L862.2 527.0L862.7 537.1L863.1 523.0L863.5 532.7L863.9 524.4L864.3 547.4L864.8 548.6L865.2 540.1L865.6 548.4L866.0 538.5L866.4 538.2L866.9 531.4L867.3 528.5L867.7 535.5L868.1 531.1L868.5 531.9L869.0 540.6L869.4 534.2L869.8 525.0L870.2 533.9L870.6 530.4L871.1 533.6L871.5 528.5L871.9 545.1L872.3 550.6L872.7 528.8L873.2 541.2L873.6 540.9L874.0 529.4L874.4 537.4L874.8 547.5L875.3 543.3L875.7 549.4L876.1 529.4L876.5 532.3L876.9 539.6L877.4 540.2L877.8 537.7L878.2 535.1L878.6 535.1L879.0 533.9L879.5 541.5L879.9 520.2L880.3 550.5L880.7 534.9L881.1 529.2L881.6 542.8L882.0 529.6L882.4 541.8L882.8 536.3L883.2 543.6L883.7 545.2L884.1 549.2L884.5 536.2L884.9 537.6L885.3 539.6L885.8 530.6L886.2 544.4L886.6 541.0L887.0 531.4L887.4 549.5L887.9 550.8L888.3 531.9L888.7 545.0L889.1 550.3L889.5 547.3L890.0 534.6L890.4 532.0L890.8 540.4L891.2 538.1L891.6 541.4L892.1 540.9L892.5 545.7L892.9 538.2L893.3 540.9L893.7 564.7L894.2 541.3L894.6 547.9L895.0 544.6L895.4 544.2L895.8 536.8L896.3 546.8L896.7 542.6L897.1 549.3L897.5 558.8L897.9 544.7L898.4 549.2L898.8 536.9L899.2 544.5L899.6 555.6L900.0 543.5L900.5 539.9L900.9 545.8L901.3 543.2L901.7 543.0L902.1 542.3L902.6 560.0L903.0 539.4L903.4 542.6L903.8 541.7L904.2 555.0L904.7 543.9L905.1 555.8L905.5 547.3L905.9 546.1L906.3 537.0L906.8 555.8L907.2 550.9L907.6 550.0L908.0 546.3L908.4 544.6L908.9 539.3L909.3 554.8L909.7 549.8L910.1 545.6L910.5 544.0L911.0 549.2L911.4 547.8L911.8 561.0L912.2 554.6L912.6 545.1L913.1 542.0L913.5 547.8L913.9 543.6L914.3 550.2L914.7 552.9L915.2 554.8L915.6 553.3L916.0 549.1L916.4 555.0L916.8 545.0L917.3 550.3L917.7 557.2L918.1 553.4L918.5 543.2L918.9 544.1L919.4 541.4L919.8 565.5L920.2 542.1L920.6 551.3L921.0 566.3L921.5 560.7L921.9 562.7L922.3 549.7L922.7 558.7L923.1 575.6L923.6 553.2L924.0 556.7L924.4 551.7L924.8 553.9L925.2 556.9L925.7 564.7L926.1 548.7L926.5 545.5L926.9 555.0L927.3 556.5L927.8 565.8L928.2 560.7L928.6 551.5L929.0 559.9L929.4 564.2L929.9 558.2L930.3 554.0L930.7 561.4L931.1 554.2L931.5 544.7L932.0 566.7L932.4 548.6L932.8 554.8L933.2 555.1L933.6 555.1L934.1 555.6L934.5 548.3L934.9 561.6L935.3 558.0L935.7 558.2L936.2 566.1L936.6 566.5L937.0 568.4L937.4 572.4L937.8 562.0L938.3 548.9L938.7 560.5L939.1 559.1L939.5 559.7L939.9 555.5L940.4 553.8L940.8 565.5L941.2 567.0L941.6 552.7L942.0 564.0L942.5 559.0L942.9 557.8L943.3 565.5L943.7 560.2L944.1 557.1L944.6 561.2L945.0 548.2L945.4 557.3L945.8 558.4L946.2 552.4L946.7 562.8L947.1 563.6L947.5 557.9L947.9 560.7L948.3 567.0L948.8 570.0L949.2 557.4L949.6 564.9L950.0 570.2L950.4 562.4L950.9 557.9L951.3 558.0L951.7 561.0L952.1 556.6L952.5 578.3L953.0 559.8L953.4 566.4L953.8 565.0L954.2 568.6L954.6 561.5L955.1 555.9L955.5 576.4L955.9 563.8L956.3 565.3L956.7 566.1L957.2 574.1L957.6 570.6L958.0 573.8L958.4 571.3L958.8 566.4L959.3 567.3L959.7 560.9L960.1 553.5L960.5 564.3L960.9 559.2L961.4 585.4L961.8 577.9L962.2 575.1L962.6 563.1L963.0 582.0L963.5 556.1L963.9 559.3L964.3 562.2L964.7 561.2L965.1 568.3L965.6 568.9L966.0 581.8L966.4 575.2L966.8 577.0L967.2 571.1L967.7 567.2L968.1 564.0L968.5 558.9L968.9 563.1L969.3 566.3L969.8 574.5L970.2 558.4L970.6 560.5L971.0 570.9L971.4 562.8L971.9 572.0L972.3 567.1L972.7 565.1L973.1 561.5L973.5 569.5L974.0 565.6L974.4 566.5L974.8 566.5L975.2 572.0L975.6 571.8L976.1 560.1L976.5 570.0L976.9 574.1L977.3 579.0L977.7 577.2L978.2 573.1L978.6 564.5L979.0 567.0L979.4 578.7L979.8 567.7L980.3 579.8L980.7 581.8L981.1 565.8L981.5 575.9L981.9 572.1L982.4 587.9L982.8 579.2L983.2 570.0L983.6 576.3L984.0 567.7L984.5 572.6L984.9 575.2L985.3 574.9L985.7 576.2L986.1 568.4L986.6 562.7L987.0 572.1L987.4 568.9L987.8 570.3L988.2 590.5L988.7 583.5L989.1 574.0L989.5 566.2L989.9 567.2L990.3 578.1L990.8 583.5L991.2 573.9L991.6 576.9L992.0 577.9L992.4 583.9L992.9 564.4L993.3 577.3L993.7 579.2L994.1 583.2L994.5 579.2L995.0 569.5L995.4 572.8L995.8 567.0L996.2 577.9L996.6 578.0L997.1 580.4L997.5 570.6L997.9 569.6L998.3 588.0L998.7 578.2L999.2 589.7L999.6 580.2L1000.0 567.9L1000.4 583.0L1000.8 586.2L1001.3 574.4L1001.7 565.2L1002.1 582.1L1002.5 576.4L1002.9 579.4L1003.4 560.7L1003.8 580.8L1004.2 560.4L1004.6 572.2L1005.0 584.1L1005.5 566.3L1005.9 566.1L1006.3 575.0L1006.7 589.9L1007.1 589.7L1007.6 574.2L1008.0 585.3L1008.4 582.3L1008.8 580.0L1009.2 580.7L1009.7 573.7L1010.1 584.1L1010.5 586.1L1010.9 598.1L1011.3 585.1L1011.8 563.2L1012.2 571.0L1012.6 581.0L1013.0 579.1L1013.4 567.1L1013.9 577.8L1014.3 576.5L1014.7 578.5L1015.1 578.1L1015.5 585.6L1016.0 589.7L1016.4 584.0L1016.8 572.2L1017.2 573.8L1017.6 575.1L1018.1 578.9L1018.5 576.6L1018.9 577.2L1019.3 573.7L1019.7 586.4L1020.2 585.7L1020.6 586.5L1021.0 579.1L1021.4 583.0L1021.8 574.1L1022.3 573.5L1022.7 576.4L1023.1 584.1L1023.5 579.0L1023.9 572.9L1024.4 580.7L1024.8 583.2L1025.2 581.3L1025.6 576.1L1026.0 580.7L1026.5 577.7L1026.9 578.3L1027.3 579.8L1027.7 586.0L1028.1 593.8L1028.6 591.9L1029.0 585.2L1029.4 578.2L1029.8 578.8L1030.2 579.1L1030.7 589.2L1031.1 563.8L1031.5 582.8L1031.9 568.7L1032.3 581.0L1032.8 590.8L1033.2 575.5L1033.6 567.1L1034.0 590.7L1034.4 592.3L1034.9 585.0L1035.3 590.6L1035.7 576.5L1036.1 590.1L1036.5 594.0L1037.0 586.3L1037.4 583.7L1037.8 591.1L1038.2 590.0L1038.6 577.2L1039.1 591.8L1039.5 587.4L1039.9 583.2L1040.3 591.6L1040.7 588.9L1041.2 587.6L1041.6 579.1L1042.0 588.4L1042.4 575.5L1042.8 581.6L1043.3 572.0L1043.7 572.0L1044.1 585.8L1044.5 582.1L1044.9 583.3L1045.4 587.0L1045.8 585.3L1046.2 577.4L1046.6 583.4L1047.0 582.5L1047.5 579.8L1047.9 582.3L1048.3 580.9L1048.7 579.2L1049.1 581.2L1049.6 585.0L1050.0 598.4L1050.4 578.4L1050.8 587.3L1051.2 574.5L1051.7 595.1L1052.1 581.6L1052.5 584.7L1052.9 593.0L1053.3 591.0L1053.8 574.7L1054.2 587.9L1054.6 582.6L1055.0 588.5L1055.4 585.2L1055.9 589.5L1056.3 586.3L1056.7 583.4L1057.1 592.8L1057.5 574.8L1058.0 581.7L1058.4 578.6L1058.8 583.6L1059.2 581.9L1059.6 583.7L1060.1 581.7L1060.5 581.9L1060.9 574.7L1061.3 584.6L1061.7 587.1L1062.2 581.3L1062.6 581.0L1063.0 581.1L1063.4 597.3L1063.8 586.6L1064.3 588.1L1064.7 583.5L1065.1 582.3L1065.5 580.0L1065.9 596.7L1066.4 575.1L1066.8 587.8L1067.2 585.5L1067.6 584.1L1068.0 576.1L1068.5 578.2L1068.9 593.0L1069.3 581.6L1069.7 592.3L1070.1 590.9L1070.6 590.3L1071.0 591.7L1071.4 578.8L1071.8 583.3L1072.2 591.2L1072.7 578.6L1073.1 598.5L1073.5 583.0L1073.9 586.1L1074.3 580.3L1074.8 589.3L1075.2 582.2L1075.6 585.3L1076.0 579.8L1076.4 595.5L1076.9 576.9L1077.3 590.2L1077.7 588.7L1078.1 590.3L1078.5 580.9L1079.0 594.7L1079.4 594.2L1079.8 588.5L1080.2 589.6L1080.6 586.5L1081.1 592.1L1081.5 582.5L1081.9 591.6L1082.3 590.6L1082.7 579.1L1083.2 571.7L1083.6 587.1L1084.0 586.9L1084.4 596.8L1084.8 588.5L1085.3 585.1L1085.7 579.9L1086.1 587.7L1086.5 584.7L1086.9 581.6L1087.4 587.7L1087.8 596.2L1088.2 589.3L1088.6 582.2L1089.0 591.1L1089.5 582.1L1089.9 579.2L1090.3 592.5L1090.7 585.6L1091.1 597.1L1091.6 591.4L1092.0 584.3L1092.4 590.9L1092.8 598.7L1093.2 588.3L1093.7 583.0L1094.1 585.5L1094.5 584.6L1094.9 582.4L1095.3 581.8L1095.8 592.9L1096.2 597.9L1096.6 587.7L1097.0 595.7L1097.4 596.6L1097.9 602.3L1098.3 589.1L1098.7 588.1L1099.1 593.4L1099.5 591.1L1100.0 592.7L1100.4 599.9L1100.8 588.0L1101.2 592.3L1101.6 584.8L1102.1 589.9L1102.5 586.8L1102.9 586.3L1103.3 589.7L1103.7 588.4L1104.2 593.8L1104.6 597.0L1105.0 582.2L1105.4 598.6L1105.8 577.8L1106.3 593.3L1106.7 596.7L1107.1 587.7L1107.5 590.3L1107.9 587.0L1108.4 598.3L1108.8 573.6L1109.2 586.0L1109.6 580.2L1110.0 593.5L1110.5 601.5L1110.9 600.8L1111.3 597.1L1111.7 594.2L1112.1 587.8L1112.6 601.3L1113.0 597.1L1113.4 587.5L1113.8 584.9L1114.2 589.0L1114.7 600.6L1115.1 601.9L1115.5 604.6L1115.9 588.3L1116.3 590.9L1116.8 603.1L1117.2 594.8L1117.6 598.8L1118.0 585.3L1118.4 591.2L1118.9 593.4L1119.3 591.4L1119.7 591.1L1120.1 583.8L1120.5 605.5L1121.0 594.9L1121.4 585.1L1121.8 601.8L1122.2 594.6L1122.6 599.3L1123.1 593.1L1123.5 589.6L1123.9 589.8L1124.3 597.0L1124.7 600.1L1125.2 598.2L1125.6 599.4L1126.0 603.4L1126.4 596.9L1126.8 602.2L1127.3 603.0L1127.7 597.2L1128.1 594.7L1128.5 592.6L1128.9 588.1L1129.4 586.0L1129.8 605.0L1130.2 595.6L1130.6 592.4L1131.0 607.2L1131.5 602.9L1131.9 596.5L1132.3 603.4L1132.7 595.1L1133.1 599.0L1133.6 609.5L1134.0 604.2L1134.4 595.0L1134.8 601.7L1135.2 605.3L1135.7 596.2L1136.1 594.5L1136.5 610.6L1136.9 595.4L1137.3 589.3L1137.8 598.5L1138.2 614.0L1138.6 602.3L1139.0 604.7L1139.4 584.8L1139.9 594.7L1140.3 606.9L1140.7 595.8L1141.1 608.0L1141.5 602.1L1142.0 601.6L1142.4 610.9L1142.8 595.8L1143.2 596.1L1143.6 599.9L1144.1 600.8L1144.5 588.9L1144.9 608.2L1145.3 601.2L1145.7 598.5L1146.2 604.2L1146.6 597.3L1147.0 608.5L1147.4 600.4L1147.8 605.2L1148.3 594.6L1148.7 598.4L1149.1 603.0L1149.5 594.5L1149.9 596.3L1150.4 600.2L1150.8 608.6L1151.2 606.2L1151.6 607.3L1152.0 603.1L1152.5 607.4L1152.9 612.1L1153.3 602.3L1153.7 604.3L1154.1 605.5L1154.6 589.1L1155.0 600.8L1155.4 604.5L1155.8 607.0L1156.2 599.6L1156.7 608.7L1157.1 597.9L1157.5 600.7L1157.9 614.0L1158.3 593.8L1158.8 601.6L1159.2 601.2L1159.6 601.7L1160.0 599.0L1160.4 607.1L1160.9 595.9L1161.3 594.5L1161.7 606.1L1162.1 595.4L1162.5 605.5L1163.0 603.0L1163.4 598.7L1163.8 600.9L1164.2 602.4L1164.6 606.4L1165.1 599.3L1165.5 602.0L1165.9 594.7L1166.3 601.7L1166.7 591.9L1167.2 603.3L1167.6 600.8L1168.0 618.6L1168.4 612.9L1168.8 602.9L1169.3 610.7L1169.7 606.0L1170.1 597.1L1170.5 589.5L1170.9 612.1L1171.4 607.1L1171.8 592.5L1172.2 609.0L1172.6 611.0L1173.0 600.4L1173.5 610.3L1173.9 594.3L1174.3 603.4L1174.7 605.1L1175.1 610.5L1175.6 607.8L1176.0 606.6L1176.4 609.1L1176.8 601.2L1177.2 615.7L1177.7 603.2L1178.1 611.0L1178.5 605.4L1178.9 604.0L1179.3 609.7L1179.8 608.8L1180.2 615.2L1180.6 613.4L1181.0 602.4L1181.4 609.5L1181.9 606.7L1182.3 601.2L1182.7 599.4L1183.1 608.0L1183.5 603.0L1184.0 597.9L1184.4 605.8L1184.8 608.0L1185.2 607.2L1185.6 599.3L1186.1 603.1L1186.5 616.4L1186.9 602.1L1187.3 604.8L1187.7 623.2L1188.2 609.4L1188.6 604.0L1189.0 595.3L1189.4 609.3L1189.8 598.8L1190.3 607.1L1190.7 602.1L1191.1 597.3L1191.5 619.1L1191.9 606.8L1192.4 614.1L1192.8 612.8L1193.2 603.3L1193.6 608.4L1194.0 605.6L1194.5 614.7L1194.9 611.0L1195.3 605.8L1195.7 619.8L1196.1 611.8L1196.6 611.4L1197.0 603.5L1197.4 611.2L1197.8 599.6L1198.2 611.7L1198.7 602.9L1199.1 609.9L1199.5 607.0L1199.9 610.3L1200.3 611.3L1200.8 608.5L1201.2 608.6L1201.6 600.0L1202.0 597.6L1202.4 618.0L1202.9 613.2L1203.3 600.3L1203.7 622.8L1204.1 605.1L1204.5 613.0L1205.0 612.5L1205.4 610.3L1205.8 613.9L1206.2 601.5L1206.6 609.5L1207.1 608.3L1207.5 610.5L1207.9 608.3L1208.3 606.2L1208.7 605.7L1209.2 616.4L1209.6 605.2L1210.0 612.9L1210.4 612.8L1210.8 609.9L1211.3 613.5L1211.7 614.4L1212.1 607.5L1212.5 613.1L1212.9 624.2L1213.4 604.4L1213.8 609.1L1214.2 606.4L1214.6 625.1L1215.0 602.7L1215.5 611.2L1215.9 617.8L1216.3 606.1L1216.7 610.6L1217.1 607.2L1217.6 603.5L1218.0 611.2L1218.4 615.1L1218.8 609.3L1219.2 612.9L1219.7 616.7L1220.1 620.3L1220.5 604.6L1220.9 616.4L1221.3 608.4L1221.8 601.0L1222.2 607.7L1222.6 616.9L1223.0 614.6L1223.4 606.0L1223.9 623.9L1224.3 615.5L1224.7 612.4L1225.1 609.6L1225.5 615.9L1226.0 610.7L1226.4 621.1L1226.8 615.4L1227.2 617.6L1227.6 611.5L1228.1 604.6L1228.5 617.2L1228.9 607.5L1229.3 613.0L1229.7 613.6L1230.2 609.1L1230.6 620.1L1231.0 605.5L1231.4 624.5L1231.8 610.6L1232.3 621.0L1232.7 623.3L1233.1 609.2L1233.5 610.1L1233.9 621.1L1234.4 615.9L1234.8 615.2L1235.2 603.9L1235.6 605.1L1236.0 618.7L1236.5 625.0L1236.9 610.8L1237.3 610.0L1237.7 616.7L1238.1 618.5L1238.6 619.3L1239.0 612.8L1239.4 604.0L1239.8 625.8L1240.2 612.7L1240.7 624.5L1241.1 604.0L1241.5 618.5L1241.9 613.0L1242.3 609.6L1242.8 622.9L1243.2 625.2L1243.6 612.8L1244.0 620.9L1244.4 610.1L1244.9 612.9L1245.3 615.2L1245.7 614.6L1246.1 621.2L1246.5 609.7L1247.0 623.7L1247.4 623.8L1247.8 615.8L1248.2 610.2L1248.6 603.2L1249.1 617.0L1249.5 613.2L1249.9 618.2L1250.3 611.3L1250.7 617.7L1251.2 617.4L1251.6 617.9L1252.0 619.9L1252.4 620.0L1252.8 624.8L1253.3 613.5L1253.7 623.2L1254.1 619.4L1254.5 615.9L1254.9 612.6L1255.4 628.6L1255.8 620.3L1256.2 615.6L1256.6 619.3L1257.0 618.9L1257.5 615.8L1257.9 610.9L1258.3 620.1L1258.7 618.2L1259.1 617.6L1259.6 626.1L1260.0 611.7L1260.4 613.9L1260.8 620.7L1261.2 625.4L1261.7 623.9L1262.1 624.8L1262.5 606.9L1262.9 623.4L1263.3 622.9L1263.8 624.8L1264.2 616.1L1264.6 623.8L1265.0 627.3L1265.4 631.5L1265.9 622.3L1266.3 612.8L1266.7 621.0L1267.1 625.2L1267.5 624.3L1268.0 634.0L1268.4 619.7L1268.8 614.9L1269.2 617.2L1269.6 625.5L1270.1 616.3L1270.5 614.9L1270.9 616.2L1271.3 629.5L1271.7 622.8L1272.2 619.3L1272.6 627.1L1273.0 626.1L1273.4 615.7L1273.8 627.2L1274.3 623.1L1274.7 609.4L1275.1 614.6L1275.5 623.4L1275.9 625.0L1276.4 620.0L1276.8 615.9L1277.2 623.5L1277.6 611.1L1278.0 625.7L1278.5 621.0L1278.9 621.8L1279.3 618.2L1279.7 627.8L1280.1 608.5L1280.6 617.1L1281.0 626.2L1281.4 618.1L1281.8 632.4L1282.2 625.3L1282.7 617.9L1283.1 630.1L1283.5 621.9L1283.9 626.6L1284.3 619.0L1284.8 619.1L1285.2 627.6L1285.6 623.5L1286.0 618.4L1286.4 617.7L1286.9 627.4L1287.3 635.1L1287.7 618.1L1288.1 627.7L1288.5 606.1L1289.0 615.0L1289.4 627.8L1289.8 634.1L1290.2 623.7L1290.6 627.1L1291.1 625.1L1291.5 630.3L1291.9 617.0L1292.3 627.8L1292.7 620.9L1293.2 621.5L1293.6 623.5L1294.0 622.4L1294.4 619.1L1294.8 622.1L1295.3 618.2L1295.7 633.9L1296.1 628.6L1296.5 621.4L1296.9 634.8L1297.4 632.7L1297.8 627.3L1298.2 620.8L1298.6 625.8L1299.0 628.0L1299.5 633.6L1299.9 623.0L1300.3 620.8L1300.7 639.9L1301.1 633.8L1301.6 626.4L1302.0 618.9L1302.4 627.7L1302.8 632.1L1303.2 629.6L1303.7 630.1L1304.1 624.8L1304.5 632.3L1304.9 621.0L1305.3 622.0L1305.8 621.7L1306.2 620.9L1306.6 638.1L1307.0 614.8L1307.4 626.4L1307.9 619.0L1308.3 617.5L1308.7 625.5L1309.1 615.7L1309.5 624.3L1310.0 640.7L1310.4 624.3L1310.8 628.2L1311.2 620.0L1311.6 628.4L1312.1 616.4L1312.5 626.4L1312.9 624.4L1313.3 640.1L1313.7 624.6L1314.2 623.1L1314.6 621.9L1315.0 618.2L1315.4 630.6L1315.8 635.3L1316.3 623.1L1316.7 630.2L1317.1 623.3L1317.5 628.2L1317.9 628.6L1318.4 617.1L1318.8 621.0L1319.2 632.0L1319.6 614.4L1320.0 625.6L1320.5 623.6L1320.9 620.2L1321.3 626.0L1321.7 627.8L1322.1 629.5L1322.6 610.4L1323.0 637.4L1323.4 623.1L1323.8 633.1L1324.2 625.2L1324.7 622.5L1325.1 625.6L1325.5 646.7L1325.9 636.9L1326.3 624.1L1326.8 627.8L1327.2 634.1L1327.6 630.5L1328.0 627.2L1328.4 625.6L1328.9 620.5L1329.3 632.2L1329.7 634.7L1330.1 642.6L1330.5 624.1L1331.0 631.9L1331.4 627.4L1331.8 636.3L1332.2 627.2L1332.6 624.1L1333.1 618.1L1333.5 633.1L1333.9 629.4L1334.3 636.1L1334.7 625.3L1335.2 646.5L1335.6 624.6L1336.0 632.4L1336.4 631.8L1336.8 636.7L1337.3 628.2L1337.7 624.0L1338.1 623.7L1338.5 635.2L1338.9 630.4L1339.4 632.2L1339.8 625.1L1340.2 631.0L1340.6 631.6L1341.0 634.5L1341.5 621.8L1341.9 626.0L1342.3 642.5L1342.7 628.4L1343.1 630.4L1343.6 628.6L1344.0 622.3L1344.4 624.9L1344.8 633.9L1345.2 627.5L1345.7 645.5L1346.1 622.9L1346.5 620.4L1346.9 629.6L1347.3 625.0L1347.8 641.7L1348.2 629.8L1348.6 635.9L1349.0 624.2L1349.4 637.2L1349.9 637.1L1350.3 641.4L1350.7 634.4L1351.1 636.6L1351.5 634.3L1352.0 639.6L1352.4 631.0L1352.8 637.3L1353.2 630.3L1353.6 638.6L1354.1 632.3L1354.5 630.2L1354.9 630.2L1355.3 644.3L1355.7 625.3L1356.2 625.8L1356.6 639.0L1357.0 628.9L1357.4 632.1L1357.8 632.1L1358.3 650.7L1358.7 631.2L1359.1 631.1L1359.5 633.1L1359.9 637.1L1360.4 639.1L1360.8 627.2L1361.2 639.0L1361.6 649.4L1362.0 625.7L1362.5 640.2L1362.9 641.7L1363.3 637.6L1363.7 635.5L1364.1 623.0L1364.6 645.1L1365.0 635.1L1365.4 635.9L1365.8 645.6L1366.2 623.7L1366.7 637.1L1367.1 641.7L1367.5 642.6L1367.9 642.0L1368.3 651.9L1368.8 640.0L1369.2 645.2L1369.6 643.6L1370.0 629.8L1370.4 634.1L1370.9 653.0L1371.3 637.2L1371.7 638.5L1372.1 631.3L1372.5 637.1L1373.0 631.5L1373.4 635.7L1373.8 643.1L1374.2 634.5L1374.6 635.9L1375.1 648.7L1375.5 642.8L1375.9 643.2L1376.3 646.6L1376.7 636.6L1377.2 637.6L1377.6 628.0L1378.0 645.1L1378.4 638.9L1378.8 640.2L1379.3 633.9L1379.7 644.6L1380.1 644.7L1380.5 641.7L1380.9 631.3L1381.4 635.7L1381.8 640.5L1382.2 635.9L1382.6 643.5L1383.0 647.8L1383.5 636.6L1383.9 640.0L1384.3 637.2L1384.7 648.3L1385.1 647.4L1385.6 659.6L1386.0 641.5L1386.4 636.1L1386.8 644.4L1387.2 640.3L1387.7 643.0L1388.1 650.3L1388.5 640.2L1388.9 646.9L1389.3 629.7L1389.8 649.3L1390.2 643.1L1390.6 640.9L1391.0 639.4L1391.4 652.1L1391.9 639.5L1392.3 651.2L1392.7 639.7L1393.1 643.0L1393.5 645.2L1394.0 656.7L1394.4 644.6L1394.8 644.6L1395.2 642.7L1395.6 641.4L1396.1 639.7L1396.5 655.7L1396.9 653.4L1397.3 639.5L1397.7 644.7L1398.2 636.8L1398.6 650.1L1399.0 648.5L1399.4 644.6L1399.8 639.3L1400.3 649.2L1400.7 648.3L1401.1 643.1L1401.5 649.3L1401.9 636.5L1402.4 640.9L1402.8 638.9L1403.2 645.3L1403.6 656.0L1404.0 645.0L1404.5 652.5L1404.9 644.6L1405.3 642.5L1405.7 651.9L1406.1 648.7L1406.6 654.8L1407.0 651.8L1407.4 640.5L1407.8 630.6L1408.2 646.3L1408.7 638.6L1409.1 637.4L1409.5 637.0L1409.9 641.9L1410.3 644.6L1410.8 645.8L1411.2 659.8L1411.6 638.9L1412.0 645.9L1412.4 638.9L1412.9 640.4L1413.3 646.7L1413.7 649.1L1414.1 638.9L1414.5 654.2L1415.0 641.1L1415.4 653.1L1415.8 646.3L1416.2 652.9L1416.6 650.6L1417.1 645.2L1417.5 650.2L1417.9 639.3L1418.3 639.6L1418.7 645.1L1419.2 656.5L1419.6 642.9L1420.0 643.8L1420.4 658.7L1420.8 647.7L1421.3 647.4L1421.7 641.4L1422.1 648.0L1422.5 651.6L1422.9 647.3L1423.4 652.9L1423.8 650.0L1424.2 655.0L1424.6 653.5L1425.0 647.2L1425.5 653.9L1425.9 660.3L1426.3 650.2L1426.7 641.1L1427.1 649.5L1427.6 647.1L1428.0 665.9L1428.4 653.5L1428.8 642.0L1429.2 647.4L1429.7 658.4L1430.1 641.9L1430.5 645.8L1430.9 648.7L1431.3 647.9L1431.8 645.4L1432.2 649.7L1432.6 640.7L1433.0 645.6L1433.4 645.5L1433.9 647.3L1434.3 647.3L1434.7 649.1L1435.1 647.2L1435.5 646.8L1436.0 651.7L1436.4 655.4L1436.8 655.9L1437.2 642.8L1437.6 651.1L1438.1 654.5L1438.5 648.0L1438.9 652.8L1439.3 648.4L1439.7 652.2L1440.2 641.0L1440.6 652.9L1441.0 647.1L1441.4 645.7L1441.8 648.3L1442.3 656.7L1442.7 656.4L1443.1 651.8L1443.5 656.0L1443.9 647.9L1444.4 643.2L1444.8 639.6L1445.2 650.2L1445.6 649.6L1446.0 650.7L1446.5 651.0L1446.9 658.8L1447.3 645.4L1447.7 646.3L1448.1 663.7L1448.6 656.0L1449.0 649.2L1449.4 639.3L1449.8 646.1L1450.2 649.0L1450.7 650.6L1451.1 652.4L1451.5 649.9L1451.9 659.0L1452.3 644.5L1452.8 649.7L1453.2 647.5L1453.6 656.6L1454.0 652.7L1454.4 656.8L1454.9 652.1L1455.3 672.1L1455.7 656.6L1456.1 647.5L1456.5 651.8L1457.0 649.6L1457.4 657.0L1457.8 658.5L1458.2 654.6L1458.6 651.1L1459.1 648.4L1459.5 663.0L1459.9 659.8L1460.3 635.6L1460.7 652.9L1461.2 647.7L1461.6 650.4L1462.0 664.0L1462.4 646.2L1462.8 646.8L1463.3 669.3L1463.7 650.1L1464.1 651.6L1464.5 660.7L1464.9 650.2L1465.4 653.4L1465.8 654.9L1466.2 662.9L1466.6 644.2L1467.0 648.8L1467.5 652.9L1467.9 659.9L1468.3 650.2L1468.7 657.0L1469.1 651.1L1469.6 651.8L1470.0 662.7L1470.4 652.9L1470.8 674.3L1471.2 656.8L1471.7 662.1L1472.1 659.6L1472.5 645.8L1472.9 645.9L1473.3 658.1L1473.8 648.6L1474.2 651.8L1474.6 653.1L1475.0 649.9L1475.4 663.2L1475.9 660.5L1476.3 656.6L1476.7 659.2L1477.1 650.4L1477.5 661.5L1478.0 650.9L1478.4 666.3L1478.8 652.1L1479.2 652.8L1479.6 663.9L1480.1 660.5L1480.5 650.7L1480.9 660.3L1481.3 656.3L1481.7 656.6L1482.2 660.7L1482.6 660.7L1483.0 663.5L1483.4 660.0L1483.8 659.0L1484.3 656.4L1484.7 667.1L1485.1 652.7L1485.5 670.0L1485.9 671.9L1486.4 671.9L1486.8 656.6L1487.2 671.6L1487.6 665.3L1488.0 664.9L1488.5 677.9L1488.9 659.2L1489.3 661.8L1489.7 650.9L1490.1 645.5L1490.6 660.1L1491.0 661.2L1491.4 663.1L1491.8 660.5L1492.2 647.2L1492.7 661.1L1493.1 666.2L1493.5 669.3L1493.9 653.5L1494.3 653.9L1494.8 655.1L1495.2 655.4L1495.6 649.9L1496.0 655.3L1496.4 669.9L1496.9 653.4L1497.3 648.8L1497.7 658.0L1498.1 656.7L1498.5 664.2L1499.0 655.5L1499.4 658.8L1499.8 655.1L1500.2 654.5L1500.6 662.6L1501.1 661.0L1501.5 659.9L1501.9 663.8L1502.3 655.7L1502.7 660.6L1503.2 661.9L1503.6 668.6L1504.0 650.0L1504.4 658.8L1504.8 663.9L1505.3 657.7L1505.7 661.6L1506.1 665.7L1506.5 664.4L1506.9 651.5L1507.4 654.5L1507.8 645.4L1508.2 665.9L1508.6 663.0L1509.0 670.7L1509.5 662.1L1509.9 655.3L1510.3 669.1L1510.7 654.5L1511.1 662.0L1511.6 660.9L1512.0 667.3L1512.4 668.3L1512.8 659.8L1513.2 658.1L1513.7 662.0L1514.1 659.1L1514.5 668.8L1514.9 665.0L1515.3 671.8L1515.8 680.0L1516.2 657.7L1516.6 659.2L1517.0 665.9L1517.4 665.4L1517.9 660.8L1518.3 653.1L1518.7 679.9L1519.1 663.5L1519.5 656.3L1520.0 649.4L1520.4 672.4L1520.8 665.3L1521.2 663.2L1521.6 657.3L1522.1 662.6L1522.5 661.1L1522.9 649.1L1523.3 681.3L1523.7 666.3L1524.2 661.5L1524.6 658.0L1525.0 660.1L1525.4 679.8L1525.8 666.3L1526.3 656.1L1526.7 669.7L1527.1 667.1L1527.5 667.3L1527.9 663.1L1528.4 662.9L1528.8 665.4L1529.2 662.8L1529.6 656.0L1530.0 658.4L1530.5 664.2L1530.9 655.0L1531.3 663.4L1531.7 662.4L1532.1 669.2L1532.6 665.4L1533.0 662.7L1533.4 662.7L1533.8 667.4L1534.2 670.8L1534.7 658.5L1535.1 655.9L1535.5 660.4L1535.9 651.6L1536.3 660.3L1536.8 670.4L1537.2 671.4L1537.6 675.2L1538.0 665.4L1538.4 666.0L1538.9 661.7L1539.3 662.1L1539.7 667.0L1540.1 671.2L1540.5 668.1L1541.0 653.7L1541.4 668.6L1541.8 665.3L1542.2 662.0L1542.6 666.3L1543.1 671.5L1543.5 666.4L1543.9 661.4L1544.3 685.6L1544.7 662.0L1545.2 668.8L1545.6 674.1L1546.0 660.9L1546.4 669.5L1546.8 661.0L1547.3 664.4L1547.7 661.6L1548.1 677.7L1548.5 658.2L1548.9 669.5L1549.4 666.3L1549.8 654.9L1550.2 677.8L1550.6 663.0L1551.0 664.8L1551.5 667.8L1551.9 661.2L1552.3 662.0L1552.7 666.3L1553.1 661.5L1553.6 667.2L1554.0 675.0L1554.4 660.9L1554.8 657.7L1555.2 666.0L1555.7 669.4L1556.1 671.3L1556.5 660.7L1556.9 653.6L1557.3 672.8L1557.8 671.8L1558.2 677.2L1558.6 661.7L1559.0 671.0L1559.4 674.0L1559.9 657.0L1560.3 674.5L1560.7 677.1L1561.1 671.5L1561.5 671.2L1562.0 672.7L1562.4 666.3L1562.8 659.8L1563.2 662.7L1563.6 667.0L1564.1 663.3L1564.5 675.0L1564.9 665.9L1565.3 667.7L1565.7 658.4L1566.2 671.0L1566.6 664.5L1567.0 678.6L1567.4 658.9L1567.8 670.8L1568.3 666.5L1568.7 666.8L1569.1 680.2L1569.5 675.3L1569.9 664.3L1570.4 678.3L1570.8 665.5L1571.2 674.5L1571.6 659.6L1572.0 667.6L1572.5 667.8L1572.9 667.7L1573.3 660.7L1573.7 659.0L1574.1 669.6L1574.6 673.8L1575.0 670.1L1575.4 668.0L1575.8 661.6L1576.2 668.6L1576.7 667.1L1577.1 666.2L1577.5 671.5L1577.9 671.5L1578.3 673.1L1578.8 669.1L1579.2 666.0L1579.6 669.6L1580.0 669.1L1580.4 661.7L1580.9 669.0L1581.3 661.7L1581.7 660.0L1582.1 666.6L1582.5 667.6L1583.0 675.9L1583.4 669.7L1583.8 674.9L1584.2 681.0L1584.6 672.4L1585.1 674.2L1585.5 667.9L1585.9 677.2L1586.3 672.3L1586.7 672.4L1587.2 665.8L1587.6 666.9L1588.0 668.5L1588.4 673.0L1588.8 679.5L1589.3 664.0L1589.7 670.5L1590.1 670.9L1590.5 687.6L1590.9 671.6L1591.4 669.8L1591.8 677.8L1592.2 666.8L1592.6 676.6L1593.0 663.8L1593.5 686.5L1593.9 673.0L1594.3 671.0L1594.7 666.1L1595.1 672.7L1595.6 674.1L1596.0 669.6L1596.4 681.5L1596.8 672.0L1597.2 674.5L1597.7 675.8L1598.1 682.9L1598.5 672.0L1598.9 674.6L1599.3 676.2L1599.8 678.4L1600.2 664.2L1600.6 682.0L1601.0 673.9L1601.4 670.7L1601.9 674.6L1602.3 664.1L1602.7 670.6L1603.1 676.2L1603.5 684.0L1604.0 674.7L1604.4 677.8L1604.8 673.7L1605.2 681.0L1605.6 673.2L1606.1 678.6L1606.5 673.8L1606.9 670.3L1607.3 670.3L1607.7 672.3L1608.2 683.5L1608.6 695.8L1609.0 675.0L1609.4 672.1L1609.8 679.7L1610.3 679.5L1610.7 673.5L1611.1 689.1L1611.5 682.3L1611.9 682.9L1612.4 677.2L1612.8 677.7L1613.2 683.3L1613.6 669.2L1614.0 672.6L1614.5 677.7L1614.9 669.1L1615.3 688.1L1615.7 673.9L1616.1 675.1L1616.6 679.7L1617.0 687.5L1617.4 677.5L1617.8 673.5L1618.2 672.7L1618.7 679.5L1619.1 674.8L1619.5 693.7L1619.9 686.5L1620.3 661.7L1620.8 673.3L1621.2 680.9L1621.6 693.9L1622.0 667.6L1622.4 676.5L1622.9 687.0L1623.3 675.4L1623.7 679.8L1624.1 676.7L1624.5 684.0L1625.0 673.6L1625.4 680.0L1625.8 671.8L1626.2 686.5L1626.6 684.2L1627.1 680.1L1627.5 680.7L1627.9 680.7L1628.3 678.6L1628.7 681.8L1629.2 683.3L1629.6 680.6L1630.0 677.8L1630.4 679.0L1630.8 678.8L1631.3 684.5L1631.7 682.6L1632.1 694.7L1632.5 680.9L1632.9 682.5L1633.4 678.6L1633.8 682.9L1634.2 679.9L1634.6 677.7L1635.0 683.6L1635.5 693.2L1635.9 678.0L1636.3 679.3L1636.7 682.8L1637.1 684.8L1637.6 691.8L1638.0 679.8L1638.4 682.8L1638.8 679.2L1639.2 678.9L1639.7 681.2L1640.1 677.8L1640.5 687.0L1640.9 691.1L1641.3 681.4L1641.8 680.5L1642.2 693.2L1642.6 683.4L1643.0 694.5L1643.4 668.7L1643.9 684.1L1644.3 679.4L1644.7 682.2L1645.1 690.6L1645.5 692.5L1646.0 684.6L1646.4 691.8L1646.8 679.6L1647.2 687.7L1647.6 685.2L1648.1 676.7L1648.5 692.2L1648.9 682.7L1649.3 689.3L1649.7 682.4L1650.2 687.9L1650.6 690.9L1651.0 687.0L1651.4 684.5L1651.8 691.2L1652.3 688.7L1652.7 685.2L1653.1 687.9L1653.5 687.3L1653.9 686.0L1654.4 693.9L1654.8 699.5L1655.2 685.4L1655.6 687.7L1656.0 683.3L1656.5 681.2L1656.9 696.2L1657.3 685.1L1657.7 691.2L1658.1 681.5L1658.6 685.7L1659.0 692.4L1659.4 692.6L1659.8 691.1L1660.2 692.4L1660.7 691.2L1661.1 696.5L1661.5 701.2L1661.9 693.9L1662.3 689.7L1662.8 684.7L1663.2 687.8L1663.6 688.8L1664.0 700.2L1664.4 682.3L1664.9 686.6L1665.3 685.4L1665.7 696.9L1666.1 687.5L1666.5 681.3L1667.0 680.2L1667.4 693.7L1667.8 682.7L1668.2 699.1L1668.6 698.9L1669.1 685.7L1669.5 690.2L1669.9 692.2L1670.3 683.9L1670.7 685.4L1671.2 688.8L1671.6 692.2L1672.0 694.2L1672.4 682.0L1672.8 694.1L1673.3 692.0L1673.7 691.2L1674.1 690.2L1674.5 699.5L1674.9 703.1L1675.4 690.4L1675.8 692.0L1676.2 684.2L1676.6 690.9L1677.0 697.7L1677.5 692.7L1677.9 695.6L1678.3 692.8L1678.7 694.1L1679.1 697.9L1679.6 698.6L1680.0 682.9L1680.4 692.6L1680.8 677.7L1681.2 694.1L1681.7 691.0L1682.1 690.9L1682.5 704.5L1682.9 696.7L1683.3 701.8L1683.8 698.6L1684.2 705.6L1684.6 693.3L1685.0 693.3L1685.4 694.3L1685.9 710.9L1686.3 692.5L1686.7 695.2L1687.1 704.1L1687.5 701.2L1688.0 692.5L1688.4 706.7L1688.8 698.5L1689.2 704.9L1689.6 699.5L1690.1 700.7L1690.5 691.5L1690.9 705.0L1691.3 691.9L1691.7 696.3L1692.2 703.0L1692.6 694.1L1693.0 696.8L1693.4 696.2L1693.8 697.2L1694.3 700.1L1694.7 688.0L1695.1 693.5L1695.5 710.0L1695.9 685.6L1696.4 693.0L1696.8 701.9L1697.2 686.5L1697.6 692.0L1698.0 692.4L1698.5 707.2L1698.9 692.2L1699.3 701.2L1699.7 693.6L1700.1 697.3L1700.6 691.0L1701.0 689.1L1701.4 694.8L1701.8 689.8L1702.2 696.6L1702.7 698.4L1703.1 700.4L1703.5 707.8L1703.9 707.1L1704.3 691.7L1704.8 693.8L1705.2 709.1L1705.6 697.8L1706.0 696.0L1706.4 705.2L1706.9 694.8L1707.3 704.5L1707.7 696.7L1708.1 707.0L1708.5 697.7L1709.0 704.0L1709.4 705.6L1709.8 709.4L1710.2 694.4L1710.6 696.7L1711.1 691.1L1711.5 689.4L1711.9 696.3L1712.3 700.2L1712.7 707.5L1713.2 697.0L1713.6 711.9L1714.0 700.6L1714.4 705.3L1714.8 698.1L1715.3 692.6L1715.7 710.1L1716.1 698.1L1716.5 707.1L1716.9 697.8L1717.4 703.8L1717.8 699.2L1718.2 698.2L1718.6 699.4L1719.0 704.8L1719.5 693.7L1719.9 695.1L1720.3 707.0L1720.7 696.6L1721.1 702.0L1721.6 693.4L1722.0 699.8L1722.4 708.3L1722.8 701.7L1723.2 702.6L1723.7 699.1L1724.1 702.0L1724.5 691.6L1724.9 692.5L1725.3 704.3L1725.8 691.9L1726.2 710.4L1726.6 707.5L1727.0 695.3L1727.4 690.0L1727.9 688.7L1728.3 704.3L1728.7 701.9L1729.1 711.3L1729.5 705.6L1730.0 712.9L1730.4 708.5L1730.8 697.6L1731.2 701.9L1731.6 698.3L1732.1 701.4L1732.5 700.3L1732.9 702.0L1733.3 712.3L1733.7 700.4L1734.2 696.9L1734.6 700.1L1735.0 701.1L1735.4 700.6L1735.8 703.0L1736.3 701.6L1736.7 711.4L1737.1 710.2L1737.5 700.1L1737.9 710.9L1738.4 713.7L1738.8 704.7L1739.2 700.0L1739.6 707.7L1740.0 704.5L1740.5 707.2L1740.9 699.2L1741.3 719.0L1741.7 704.2L1742.1 708.9L1742.6 702.2L1743.0 706.7L1743.4 693.0L1743.8 698.6L1744.2 692.2L1744.7 712.5L1745.1 698.4L1745.5 697.6L1745.9 713.8L1746.3 703.7L1746.8 705.6L1747.2 713.7L1747.6 710.0L1748.0 708.9L1748.4 711.3L1748.9 696.2L1749.3 715.7L1749.7 716.0L1750.1 719.5L1750.5 695.8L1751.0 702.8L1751.4 704.5L1751.8 719.0L1752.2 711.6L1752.6 719.6L1753.1 711.1L1753.5 704.6L1753.9 701.0L1754.3 705.2L1754.7 717.7L1755.2 703.8L1755.6 698.7L1756.0 710.6L1756.4 717.9L1756.8 725.0L1757.3 717.3L1757.7 715.5L1758.1 699.3L1758.5 707.2L1758.9 707.3L1759.4 710.4L1759.8 704.4L1760.2 714.9L1760.6 718.0L1761.0 710.6L1761.5 708.3L1761.9 711.3L1762.3 712.7L1762.7 715.5L1763.1 705.5L1763.6 719.9L1764.0 710.7L1764.4 709.6L1764.8 715.2L1765.2 706.9L1765.7 716.6L1766.1 725.1L1766.5 713.9L1766.9 712.5L1767.3 708.5L1767.8 721.1L1768.2 718.8L1768.6 703.0L1769.0 717.9L1769.4 707.9L1769.9 705.1L1770.3 711.3L1770.7 708.1L1771.1 719.5L1771.5 704.9L1772.0 704.9L1772.4 706.9L1772.8 711.4L1773.2 716.2L1773.6 706.3L1774.1 708.4L1774.5 703.8L1774.9 711.5L1775.3 707.0L1775.7 727.1L1776.2 725.5L1776.6 707.8L1777.0 713.9L1777.4 715.9L1777.8 710.2L1778.3 711.1L1778.7 717.6L1779.1 711.9L1779.5 711.9L1779.9 713.5L1780.4 721.8L1780.8 712.3L1781.2 716.4L1781.6 715.5L1782.0 718.7L1782.5 713.1L1782.9 711.5L1783.3 710.5L1783.7 715.9L1784.1 715.4L1784.6 713.1L1785.0 716.1L1785.4 730.3L1785.8 720.0L1786.2 704.7L1786.7 723.5L1787.1 716.0L1787.5 709.5L1787.9 724.1L1788.3 714.9L1788.8 722.1L1789.2 712.1L1789.6 722.5L1790.0 714.1L1790.4 722.0L1790.9 721.2L1791.3 709.5L1791.7 718.4L1792.1 719.2L1792.5 715.9L1793.0 706.4L1793.4 718.2L1793.8 714.7L1794.2 724.4L1794.6 710.7L1795.1 723.1L1795.5 717.7L1795.9 733.6L1796.3 711.3L1796.7 723.3L1797.2 714.1L1797.6 711.9L1798.0 724.4L1798.4 721.3L1798.8 724.3L1799.3 708.6L1799.7 711.0L1800.1 721.6L1800.5 713.1L1800.9 726.6L1801.4 728.9L1801.8 717.4L1802.2 718.4L1802.6 718.5L1803.0 716.7L1803.5 718.2L1803.9 717.2L1804.3 721.4L1804.7 716.9L1805.1 715.9L1805.6 717.2L1806.0 715.6L1806.4 718.6L1806.8 722.7L1807.2 732.7L1807.7 710.2L1808.1 711.7L1808.5 719.1L1808.9 719.8L1809.3 719.4L1809.8 732.0L1810.2 709.7L1810.6 719.0L1811.0 712.9L1811.4 718.4L1811.9 723.5L1812.3 712.2L1812.7 727.1L1813.1 715.7L1813.5 714.7L1814.0 711.4L1814.4 716.8L1814.8 716.6L1815.2 726.3L1815.6 712.2L1816.1 722.4L1816.5 726.6L1816.9 719.8L1817.3 726.3L1817.7 717.5L1818.2 724.2L1818.6 719.7L1819.0 735.8L1819.4 720.2L1819.8 720.2L1820.3 724.6L1820.7 719.1L1821.1 721.0L1821.5 724.4L1821.9 728.0L1822.4 719.0L1822.8 722.9L1823.2 721.6L1823.6 727.2L1824.0 728.1L1824.5 725.5L1824.9 724.7L1825.3 734.8L1825.7 718.2L1826.1 733.9L1826.6 726.8L1827.0 714.8L1827.4 724.3L1827.8 715.7L1828.2 722.9L1828.7 712.4L1829.1 728.6L1829.5 719.5L1829.9 734.8L1830.3 720.0L1830.8 724.5L1831.2 716.7L1831.6 723.6L1832.0 724.7L1832.4 727.9L1832.9 740.9L1833.3 735.5L1833.7 730.0L1834.1 723.1L1834.5 723.4L1835.0 723.4L1835.4 720.5L1835.8 729.7L1836.2 725.1L1836.6 729.0L1837.1 724.2L1837.5 728.2L1837.9 737.4L1838.3 728.3L1838.7 732.1L1839.2 721.4L1839.6 725.4L1840.0 724.2L1840.4 729.8L1840.8 728.5L1841.3 722.9L1841.7 729.1L1842.1 727.8L1842.5 718.3L1842.9 727.0L1843.4 735.1L1843.8 722.4L1844.2 734.7L1844.6 732.2L1845.0 728.9L1845.5 730.8L1845.9 723.4L1846.3 732.7L1846.7 720.1L1847.1 721.9L1847.6 731.9L1848.0 722.2L1848.4 741.7L1848.8 730.9L1849.2 734.7L1849.7 735.2L1850.1 726.7L1850.5 729.2L1850.9 732.3L1851.3 729.3L1851.8 739.7L1852.2 736.2L1852.6 731.0L1853.0 738.0L1853.4 730.2L1853.9 735.0L1854.3 731.0L1854.7 728.4L1855.1 724.8L1855.5 726.1L1856.0 730.6L1856.4 733.1L1856.8 718.4L1857.2 728.1L1857.6 734.3L1858.1 729.6L1858.5 724.4L1858.9 725.0L1859.3 741.9L1859.7 721.9L1860.2 729.0L1860.6 736.5L1861.0 719.9L1861.4 735.6L1861.8 722.6L1862.3 738.0L1862.7 749.0L1863.1 724.5L1863.5 731.2L1863.9 734.1L1864.4 728.6L1864.8 735.5L1865.2 727.9L1865.6 728.8L1866.0 727.5L1866.5 731.8L1866.9 735.4L1867.3 738.7L1867.7 731.7L1868.1 726.4L1868.6 729.7L1869.0 729.6L1869.4 730.4L1869.8 736.5L1870.2 731.9L1870.7 733.4L1871.1 733.2L1871.5 732.4L1871.9 730.3L1872.3 737.9L1872.8 732.6L1873.2 732.5L1873.6 727.0" fill="none" stroke="#000000" stroke-width="6.5" stroke-linejoin="round" stroke-linecap="round"/>
<g fill="#000" font-family="'DejaVu Sans', sans-serif" font-size="100" text-anchor="middle">
<text transform="translate(163.0 119.2) scale(0.4821 0.4658)">♦</text>
<text transform="translate(184.6 371.0) scale(0.4821 0.4658)">♦</text>
<text transform="translate(320.5 324.0) scale(0.4821 0.4658)">♦</text>
<text transform="translate(348.4 358.0) scale(0.4821 0.4658)">♦</text>
<text transform="translate(488.0 402.8) scale(0.4821 0.4658)">♦</text>
<text transform="translate(162.7 1064.8) scale(0.4821 0.4658)">♦</text>
<text transform="translate(184.2 1165.6) scale(0.4821 0.4658)">♦</text>
<text transform="translate(342.3 999.0) scale(0.4821 0.4658)">♦</text>
<text transform="translate(368.9 1095.3) scale(0.4821 0.4658)">♦</text>
<text transform="translate(502.9 1071.5) scale(0.4821 0.4658)">♦</text>
<text transform="translate(559.7 836.6) scale(0.4361 0.4589)">♥</text>
<text transform="translate(652.0 578.3) scale(0.4361 0.4589)">♥</text>
<text transform="translate(949.2 876.1) scale(0.4361 0.4589)">♥</text>
<text transform="translate(1125.6 1109.2) scale(0.4361 0.4589)">♥</text>
<text transform="translate(1190.7 1115.0) scale(0.4361 0.4589)">♥</text>
<text transform="translate(1391.6 1178.5) scale(0.4361 0.4589)">♥</text>
<text transform="translate(1540.3 1190.3) scale(0.4361 0.4589)">♥</text>
<text transform="translate(1593.3 1175.2) scale(0.4361 0.4589)">♥</text>
<text transform="translate(1785.0 1231.8) scale(0.4361 0.4589)">♥</text>
<text transform="translate(782.4 1127.8) scale(0.5254 0.4658)">♣</text>
<text transform="translate(1333.7 1174.8) scale(0.5254 0.4658)">♣</text>
<text transform="translate(1682.0 1223.8) scale(0.5254 0.4658)">♣</text>
<text transform="translate(556.4 1304.8) scale(0.4361 0.4589)">♥</text>
<text transform="translate(652.4 1231.1) scale(0.4361 0.4589)">♥</text>
<text transform="translate(943.1 1313.3) scale(0.4361 0.4589)">♥</text>
<text transform="translate(1123.8 1370.1) scale(0.4361 0.4589)">♥</text>
<text transform="translate(1182.1 1373.3) scale(0.4361 0.4589)">♥</text>
<text transform="translate(1390.0 1382.8) scale(0.4361 0.4589)">♥</text>
<text transform="translate(1539.1 1388.6) scale(0.4361 0.4589)">♥</text>
<text transform="translate(1595.0 1360.5) scale(0.4361 0.4589)">♥</text>
<text transform="translate(1777.7 1379.3) scale(0.4361 0.4589)">♥</text>
<text transform="translate(776.1 1355.2) scale(0.5254 0.4658)">♣</text>
<text transform="translate(906.5 1370.8) scale(0.5254 0.4658)">♣</text>
<text transform="translate(1329.2 1383.1) scale(0.5254 0.4658)">♣</text>
<text transform="translate(1614.0 1387.3) scale(0.5254 0.4658)">♣</text>
<text transform="translate(1684.8 1387.1) scale(0.5254 0.4658)">♣</text>
<text transform="translate(1361.5 182.1) scale(0.5269 0.4644)">♣</text>
<text transform="translate(1361.5 272.7) scale(0.4417 0.4616)">♥</text>
<text transform="translate(1363.3 364.9) scale(0.5393 0.5247)">♦</text>
</g>
<g fill="#000" font-family="Liberation Serif, 'Times New Roman', serif" font-size="100">
<text transform="translate(1399.98 183.00) scale(0.7210 0.7576)">Ag</text>
<text transform="translate(1399.98 272.70) scale(0.7210 0.7576)">AgCl</text>
<text transform="translate(1404.43 364.40) scale(0.7241 0.7615)">MIL-101(Fe)</text>
<text transform="translate(1238.23 565.70) scale(0.7241 0.7508)">MIL-101(Fe)</text>
<text transform="translate(1155.38 1046.30) scale(0.7234 0.7621)">Ag/AgCl/MIL-101(Fe)</text>
<text transform="translate(1372.38 1320.00) scale(0.7198 0.7576)">Ag/AgCl</text>
<text transform="translate(356.83 1535.70) scale(0.7413 0.7415)">20</text>
<text transform="translate(779.21 1535.70) scale(0.7447 0.7415)">40</text>
<text transform="translate(1202.45 1535.70) scale(0.7370 0.7415)">60</text>
<text transform="translate(1625.78 1535.70) scale(0.7293 0.7415)">80</text>
<text transform="translate(807.1 1631.2) scale(0.781 0.721)" font-weight="bold">2</text>
<text transform="translate(867.8 1631.9) scale(0.7694 0.7185)" font-weight="bold">Theta(°)</text>
</g>
<g stroke="#000" stroke-width="9.7" stroke-linecap="round">
<line x1="183.1" y1="1447" x2="183.1" y2="1435.3"/>
<line x1="394.4" y1="1447" x2="394.4" y2="1422.0"/>
<line x1="605.7" y1="1447" x2="605.7" y2="1435.3"/>
<line x1="817.0" y1="1447" x2="817.0" y2="1422.0"/>
<line x1="1028.3" y1="1447" x2="1028.3" y2="1435.3"/>
<line x1="1239.6" y1="1447" x2="1239.6" y2="1422.0"/>
<line x1="1450.9" y1="1447" x2="1450.9" y2="1435.3"/>
<line x1="1662.2" y1="1447" x2="1662.2" y2="1422.0"/>
<line x1="1873.5" y1="1447" x2="1873.5" y2="1435.3"/>
</g>
<rect x="35.2" y="30.7" width="1879.8" height="1418.3" fill="none" stroke="#000" stroke-width="10.3" stroke-linejoin="round"/>
</svg>
</body></html>
